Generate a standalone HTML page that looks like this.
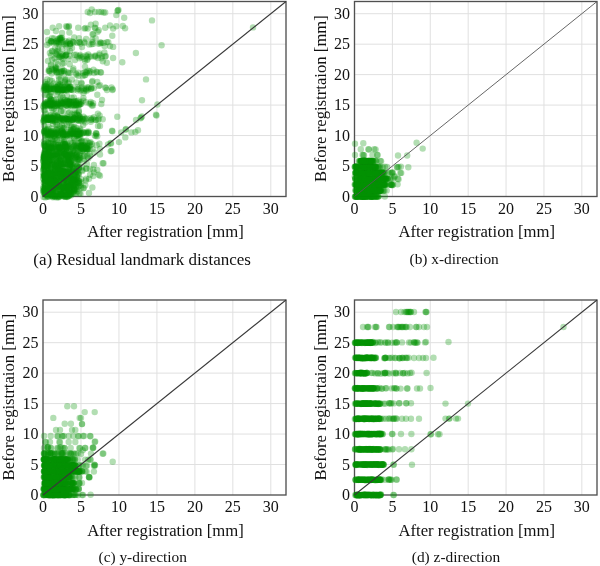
<!DOCTYPE html>
<html><head><meta charset="utf-8"><style>
html,body{margin:0;padding:0;background:#fff;}
svg{display:block;filter:blur(0.3px);}
text{font-family:"Liberation Serif",serif;fill:#111;}
.t{font-size:16px;}
.ax{font-size:16.7px;}
.cap{font-size:15.4px;}
.cap17{font-size:17.0px;}
.g{stroke:#e0e0e0;stroke-width:1;}
.f{fill:none;stroke:#505050;stroke-width:1.35;}
.d{stroke:#383838;stroke-width:1.05;}
.d2{stroke:#555;stroke-width:0.9;}
.pts circle{fill:#009200;fill-opacity:0.3;}
</style></head><body>
<svg width="600" height="566" viewBox="0 0 600 566">
<line x1="80.97" y1="1.5" x2="80.97" y2="196.5" class="g"/>
<line x1="43.0" y1="166.03" x2="286.0" y2="166.03" class="g"/>
<line x1="118.94" y1="1.5" x2="118.94" y2="196.5" class="g"/>
<line x1="43.0" y1="135.56" x2="286.0" y2="135.56" class="g"/>
<line x1="156.91" y1="1.5" x2="156.91" y2="196.5" class="g"/>
<line x1="43.0" y1="105.09" x2="286.0" y2="105.09" class="g"/>
<line x1="194.88" y1="1.5" x2="194.88" y2="196.5" class="g"/>
<line x1="43.0" y1="74.62" x2="286.0" y2="74.62" class="g"/>
<line x1="232.84" y1="1.5" x2="232.84" y2="196.5" class="g"/>
<line x1="43.0" y1="44.16" x2="286.0" y2="44.16" class="g"/>
<line x1="270.81" y1="1.5" x2="270.81" y2="196.5" class="g"/>
<line x1="43.0" y1="13.69" x2="286.0" y2="13.69" class="g"/>
<line x1="392.39" y1="1.5" x2="392.39" y2="196.5" class="g"/>
<line x1="354.5" y1="166.03" x2="597.0" y2="166.03" class="g"/>
<line x1="430.28" y1="1.5" x2="430.28" y2="196.5" class="g"/>
<line x1="354.5" y1="135.56" x2="597.0" y2="135.56" class="g"/>
<line x1="468.17" y1="1.5" x2="468.17" y2="196.5" class="g"/>
<line x1="354.5" y1="105.09" x2="597.0" y2="105.09" class="g"/>
<line x1="506.06" y1="1.5" x2="506.06" y2="196.5" class="g"/>
<line x1="354.5" y1="74.62" x2="597.0" y2="74.62" class="g"/>
<line x1="543.95" y1="1.5" x2="543.95" y2="196.5" class="g"/>
<line x1="354.5" y1="44.16" x2="597.0" y2="44.16" class="g"/>
<line x1="581.84" y1="1.5" x2="581.84" y2="196.5" class="g"/>
<line x1="354.5" y1="13.69" x2="597.0" y2="13.69" class="g"/>
<line x1="80.97" y1="300.0" x2="80.97" y2="495.0" class="g"/>
<line x1="43.0" y1="464.53" x2="286.0" y2="464.53" class="g"/>
<line x1="118.94" y1="300.0" x2="118.94" y2="495.0" class="g"/>
<line x1="43.0" y1="434.06" x2="286.0" y2="434.06" class="g"/>
<line x1="156.91" y1="300.0" x2="156.91" y2="495.0" class="g"/>
<line x1="43.0" y1="403.59" x2="286.0" y2="403.59" class="g"/>
<line x1="194.88" y1="300.0" x2="194.88" y2="495.0" class="g"/>
<line x1="43.0" y1="373.12" x2="286.0" y2="373.12" class="g"/>
<line x1="232.84" y1="300.0" x2="232.84" y2="495.0" class="g"/>
<line x1="43.0" y1="342.66" x2="286.0" y2="342.66" class="g"/>
<line x1="270.81" y1="300.0" x2="270.81" y2="495.0" class="g"/>
<line x1="43.0" y1="312.19" x2="286.0" y2="312.19" class="g"/>
<line x1="392.39" y1="300.0" x2="392.39" y2="495.0" class="g"/>
<line x1="354.5" y1="464.53" x2="597.0" y2="464.53" class="g"/>
<line x1="430.28" y1="300.0" x2="430.28" y2="495.0" class="g"/>
<line x1="354.5" y1="434.06" x2="597.0" y2="434.06" class="g"/>
<line x1="468.17" y1="300.0" x2="468.17" y2="495.0" class="g"/>
<line x1="354.5" y1="403.59" x2="597.0" y2="403.59" class="g"/>
<line x1="506.06" y1="300.0" x2="506.06" y2="495.0" class="g"/>
<line x1="354.5" y1="373.12" x2="597.0" y2="373.12" class="g"/>
<line x1="543.95" y1="300.0" x2="543.95" y2="495.0" class="g"/>
<line x1="354.5" y1="342.66" x2="597.0" y2="342.66" class="g"/>
<line x1="581.84" y1="300.0" x2="581.84" y2="495.0" class="g"/>
<line x1="354.5" y1="312.19" x2="597.0" y2="312.19" class="g"/>
<rect x="43.0" y="1.5" width="243.0" height="195.0" class="f"/>
<rect x="354.5" y="1.5" width="242.5" height="195.0" class="f"/>
<rect x="43.0" y="300.0" width="243.0" height="195.0" class="f"/>
<rect x="354.5" y="300.0" width="242.5" height="195.0" class="f"/>
<g class="pts">
<circle cx="87.7" cy="12.0" r="3.2"/>
<circle cx="91.7" cy="9.5" r="3.2"/>
<circle cx="94.9" cy="12.0" r="3.2"/>
<circle cx="98.8" cy="12.0" r="3.2"/>
<circle cx="101.2" cy="12.0" r="3.2"/>
<circle cx="103.6" cy="12.5" r="3.2"/>
<circle cx="105.2" cy="12.5" r="3.2"/>
<circle cx="90.0" cy="13.0" r="3.2"/>
<circle cx="117.9" cy="10.3" r="3.2"/>
<circle cx="118.5" cy="10.0" r="3.2"/>
<circle cx="117.5" cy="11.0" r="3.2"/>
<circle cx="116.3" cy="15.1" r="3.2"/>
<circle cx="124.2" cy="17.8" r="3.2"/>
<circle cx="152.0" cy="20.4" r="3.2"/>
<circle cx="52.7" cy="27.8" r="3.2"/>
<circle cx="59.1" cy="26.2" r="3.2"/>
<circle cx="66.2" cy="26.2" r="3.2"/>
<circle cx="67.0" cy="27.0" r="3.2"/>
<circle cx="68.6" cy="27.0" r="3.2"/>
<circle cx="69.0" cy="26.0" r="3.2"/>
<circle cx="69.4" cy="32.6" r="3.2"/>
<circle cx="78.2" cy="27.8" r="3.2"/>
<circle cx="84.5" cy="28.6" r="3.2"/>
<circle cx="85.5" cy="28.0" r="3.2"/>
<circle cx="87.7" cy="28.6" r="3.2"/>
<circle cx="90.9" cy="24.6" r="3.2"/>
<circle cx="94.8" cy="27.8" r="3.2"/>
<circle cx="95.5" cy="28.2" r="3.2"/>
<circle cx="95.6" cy="23.8" r="3.2"/>
<circle cx="98.8" cy="30.2" r="3.2"/>
<circle cx="105.2" cy="27.8" r="3.2"/>
<circle cx="110.0" cy="25.4" r="3.2"/>
<circle cx="113.1" cy="28.6" r="3.2"/>
<circle cx="116.3" cy="26.2" r="3.2"/>
<circle cx="112.3" cy="35.8" r="3.2"/>
<circle cx="92.5" cy="34.2" r="3.2"/>
<circle cx="55.9" cy="31.0" r="3.2"/>
<circle cx="122.8" cy="26.0" r="3.2"/>
<circle cx="125.1" cy="28.3" r="3.2"/>
<circle cx="47.0" cy="32.0" r="3.2"/>
<circle cx="62.0" cy="33.0" r="3.2"/>
<circle cx="52.0" cy="42.5" r="3.2"/>
<circle cx="62.0" cy="40.2" r="3.2"/>
<circle cx="51.5" cy="41.3" r="3.2"/>
<circle cx="59.7" cy="44.4" r="3.2"/>
<circle cx="52.0" cy="38.1" r="3.2"/>
<circle cx="60.7" cy="42.7" r="3.2"/>
<circle cx="64.4" cy="44.1" r="3.2"/>
<circle cx="57.0" cy="40.8" r="3.2"/>
<circle cx="69.1" cy="40.7" r="3.2"/>
<circle cx="54.0" cy="38.5" r="3.2"/>
<circle cx="57.9" cy="41.9" r="3.2"/>
<circle cx="55.9" cy="41.3" r="3.2"/>
<circle cx="58.7" cy="43.3" r="3.2"/>
<circle cx="62.4" cy="42.0" r="3.2"/>
<circle cx="49.4" cy="43.3" r="3.2"/>
<circle cx="51.1" cy="41.1" r="3.2"/>
<circle cx="50.9" cy="41.5" r="3.2"/>
<circle cx="54.0" cy="42.1" r="3.2"/>
<circle cx="72.4" cy="41.4" r="3.2"/>
<circle cx="61.3" cy="38.1" r="3.2"/>
<circle cx="56.2" cy="43.2" r="3.2"/>
<circle cx="57.1" cy="42.5" r="3.2"/>
<circle cx="58.0" cy="38.9" r="3.2"/>
<circle cx="60.0" cy="39.4" r="3.2"/>
<circle cx="62.0" cy="37.7" r="3.2"/>
<circle cx="59.7" cy="38.5" r="3.2"/>
<circle cx="60.2" cy="37.6" r="3.2"/>
<circle cx="60.3" cy="38.3" r="3.2"/>
<circle cx="60.8" cy="39.4" r="3.2"/>
<circle cx="70.2" cy="43.7" r="3.2"/>
<circle cx="74.2" cy="37.4" r="3.2"/>
<circle cx="77.4" cy="42.9" r="3.2"/>
<circle cx="79.7" cy="42.1" r="3.2"/>
<circle cx="84.5" cy="42.9" r="3.2"/>
<circle cx="86.1" cy="39.0" r="3.2"/>
<circle cx="89.3" cy="44.5" r="3.2"/>
<circle cx="92.5" cy="42.1" r="3.2"/>
<circle cx="95.6" cy="38.2" r="3.2"/>
<circle cx="100.4" cy="42.1" r="3.2"/>
<circle cx="103.6" cy="42.9" r="3.2"/>
<circle cx="106.8" cy="42.1" r="3.2"/>
<circle cx="110.0" cy="46.1" r="3.2"/>
<circle cx="113.1" cy="46.9" r="3.2"/>
<circle cx="93.3" cy="34.2" r="3.2"/>
<circle cx="47.0" cy="45.0" r="3.2"/>
<circle cx="48.0" cy="40.0" r="3.2"/>
<circle cx="66.0" cy="46.0" r="3.2"/>
<circle cx="72.0" cy="48.0" r="3.2"/>
<circle cx="82.0" cy="47.0" r="3.2"/>
<circle cx="91.6" cy="44.2" r="3.2"/>
<circle cx="98.6" cy="43.7" r="3.2"/>
<circle cx="66.5" cy="43.4" r="3.2"/>
<circle cx="92.3" cy="39.8" r="3.2"/>
<circle cx="79.0" cy="38.2" r="3.2"/>
<circle cx="66.4" cy="44.6" r="3.2"/>
<circle cx="70.1" cy="45.7" r="3.2"/>
<circle cx="73.6" cy="42.5" r="3.2"/>
<circle cx="70.0" cy="44.3" r="3.2"/>
<circle cx="65.8" cy="41.3" r="3.2"/>
<circle cx="70.1" cy="43.2" r="3.2"/>
<circle cx="73.3" cy="42.2" r="3.2"/>
<circle cx="84.1" cy="41.8" r="3.2"/>
<circle cx="79.2" cy="42.1" r="3.2"/>
<circle cx="80.4" cy="43.6" r="3.2"/>
<circle cx="67.9" cy="42.3" r="3.2"/>
<circle cx="93.1" cy="43.9" r="3.2"/>
<circle cx="97.7" cy="31.8" r="3.2"/>
<circle cx="108.3" cy="42.3" r="3.2"/>
<circle cx="100.1" cy="43.4" r="3.2"/>
<circle cx="101.2" cy="42.9" r="3.2"/>
<circle cx="104.6" cy="46.1" r="3.2"/>
<circle cx="161.6" cy="45.3" r="3.2"/>
<circle cx="135.9" cy="53.0" r="3.2"/>
<circle cx="122.3" cy="62.3" r="3.2"/>
<circle cx="62.6" cy="59.0" r="3.2"/>
<circle cx="62.3" cy="55.8" r="3.2"/>
<circle cx="49.9" cy="53.0" r="3.2"/>
<circle cx="55.9" cy="53.5" r="3.2"/>
<circle cx="61.9" cy="54.1" r="3.2"/>
<circle cx="62.9" cy="55.2" r="3.2"/>
<circle cx="57.3" cy="55.3" r="3.2"/>
<circle cx="61.1" cy="57.4" r="3.2"/>
<circle cx="56.6" cy="54.3" r="3.2"/>
<circle cx="52.2" cy="59.5" r="3.2"/>
<circle cx="66.3" cy="54.5" r="3.2"/>
<circle cx="56.6" cy="51.5" r="3.2"/>
<circle cx="59.8" cy="55.6" r="3.2"/>
<circle cx="69.9" cy="55.7" r="3.2"/>
<circle cx="55.1" cy="48.2" r="3.2"/>
<circle cx="66.0" cy="55.5" r="3.2"/>
<circle cx="51.0" cy="55.5" r="3.2"/>
<circle cx="51.0" cy="64.7" r="3.2"/>
<circle cx="64.6" cy="56.6" r="3.2"/>
<circle cx="58.1" cy="49.0" r="3.2"/>
<circle cx="58.4" cy="50.6" r="3.2"/>
<circle cx="62.0" cy="49.0" r="3.2"/>
<circle cx="54.5" cy="58.4" r="3.2"/>
<circle cx="67.2" cy="51.7" r="3.2"/>
<circle cx="51.9" cy="50.9" r="3.2"/>
<circle cx="52.5" cy="51.5" r="3.2"/>
<circle cx="59.1" cy="57.2" r="3.2"/>
<circle cx="60.0" cy="57.0" r="3.2"/>
<circle cx="65.4" cy="55.6" r="3.2"/>
<circle cx="66.0" cy="55.0" r="3.2"/>
<circle cx="77.4" cy="56.4" r="3.2"/>
<circle cx="82.9" cy="56.4" r="3.2"/>
<circle cx="86.9" cy="56.4" r="3.2"/>
<circle cx="90.9" cy="56.4" r="3.2"/>
<circle cx="95.6" cy="56.4" r="3.2"/>
<circle cx="102.0" cy="56.4" r="3.2"/>
<circle cx="105.2" cy="56.4" r="3.2"/>
<circle cx="113.1" cy="58.0" r="3.2"/>
<circle cx="106.8" cy="62.8" r="3.2"/>
<circle cx="102.8" cy="61.2" r="3.2"/>
<circle cx="104.4" cy="52.5" r="3.2"/>
<circle cx="75.0" cy="60.0" r="3.2"/>
<circle cx="85.0" cy="61.0" r="3.2"/>
<circle cx="70.0" cy="51.0" r="3.2"/>
<circle cx="48.0" cy="61.0" r="3.2"/>
<circle cx="56.0" cy="62.0" r="3.2"/>
<circle cx="64.0" cy="63.0" r="3.2"/>
<circle cx="79.3" cy="58.3" r="3.2"/>
<circle cx="86.0" cy="55.5" r="3.2"/>
<circle cx="84.6" cy="58.9" r="3.2"/>
<circle cx="97.8" cy="58.0" r="3.2"/>
<circle cx="89.3" cy="56.8" r="3.2"/>
<circle cx="80.1" cy="55.0" r="3.2"/>
<circle cx="68.7" cy="59.0" r="3.2"/>
<circle cx="81.4" cy="57.4" r="3.2"/>
<circle cx="88.3" cy="54.5" r="3.2"/>
<circle cx="74.2" cy="54.8" r="3.2"/>
<circle cx="87.7" cy="58.6" r="3.2"/>
<circle cx="87.1" cy="59.9" r="3.2"/>
<circle cx="94.5" cy="56.5" r="3.2"/>
<circle cx="79.8" cy="56.1" r="3.2"/>
<circle cx="95.3" cy="55.5" r="3.2"/>
<circle cx="76.1" cy="54.7" r="3.2"/>
<circle cx="105.7" cy="56.0" r="3.2"/>
<circle cx="99.5" cy="53.4" r="3.2"/>
<circle cx="99.4" cy="55.0" r="3.2"/>
<circle cx="101.5" cy="58.2" r="3.2"/>
<circle cx="62.3" cy="63.3" r="3.2"/>
<circle cx="53.8" cy="70.3" r="3.2"/>
<circle cx="64.5" cy="71.1" r="3.2"/>
<circle cx="62.3" cy="71.1" r="3.2"/>
<circle cx="52.0" cy="69.0" r="3.2"/>
<circle cx="55.7" cy="69.5" r="3.2"/>
<circle cx="58.8" cy="72.3" r="3.2"/>
<circle cx="63.9" cy="70.8" r="3.2"/>
<circle cx="55.7" cy="71.5" r="3.2"/>
<circle cx="61.6" cy="71.1" r="3.2"/>
<circle cx="49.5" cy="71.3" r="3.2"/>
<circle cx="50.9" cy="65.8" r="3.2"/>
<circle cx="62.1" cy="68.9" r="3.2"/>
<circle cx="57.1" cy="73.0" r="3.2"/>
<circle cx="55.8" cy="70.4" r="3.2"/>
<circle cx="48.5" cy="70.8" r="3.2"/>
<circle cx="57.0" cy="72.0" r="3.2"/>
<circle cx="51.6" cy="73.6" r="3.2"/>
<circle cx="49.3" cy="69.5" r="3.2"/>
<circle cx="55.7" cy="67.2" r="3.2"/>
<circle cx="58.0" cy="64.1" r="3.2"/>
<circle cx="64.4" cy="73.4" r="3.2"/>
<circle cx="55.1" cy="68.5" r="3.2"/>
<circle cx="49.5" cy="71.1" r="3.2"/>
<circle cx="55.9" cy="68.4" r="3.2"/>
<circle cx="56.5" cy="68.0" r="3.2"/>
<circle cx="60.7" cy="72.3" r="3.2"/>
<circle cx="61.3" cy="72.5" r="3.2"/>
<circle cx="70.2" cy="73.1" r="3.2"/>
<circle cx="73.4" cy="68.4" r="3.2"/>
<circle cx="76.6" cy="74.7" r="3.2"/>
<circle cx="82.9" cy="73.1" r="3.2"/>
<circle cx="86.1" cy="72.3" r="3.2"/>
<circle cx="86.8" cy="72.6" r="3.2"/>
<circle cx="89.3" cy="73.1" r="3.2"/>
<circle cx="94.1" cy="73.1" r="3.2"/>
<circle cx="97.2" cy="72.3" r="3.2"/>
<circle cx="100.4" cy="72.3" r="3.2"/>
<circle cx="101.0" cy="72.5" r="3.2"/>
<circle cx="87.7" cy="70.6" r="3.2"/>
<circle cx="84.7" cy="71.9" r="3.2"/>
<circle cx="76.1" cy="73.6" r="3.2"/>
<circle cx="85.3" cy="75.0" r="3.2"/>
<circle cx="82.7" cy="76.0" r="3.2"/>
<circle cx="89.4" cy="70.9" r="3.2"/>
<circle cx="84.6" cy="75.2" r="3.2"/>
<circle cx="73.1" cy="70.1" r="3.2"/>
<circle cx="78.3" cy="72.7" r="3.2"/>
<circle cx="85.0" cy="66.6" r="3.2"/>
<circle cx="68.5" cy="73.2" r="3.2"/>
<circle cx="67.9" cy="72.3" r="3.2"/>
<circle cx="96.2" cy="71.7" r="3.2"/>
<circle cx="93.5" cy="69.8" r="3.2"/>
<circle cx="90.3" cy="71.8" r="3.2"/>
<circle cx="92.5" cy="81.0" r="3.2"/>
<circle cx="47.2" cy="79.5" r="3.2"/>
<circle cx="59.1" cy="79.5" r="3.2"/>
<circle cx="71.8" cy="79.5" r="3.2"/>
<circle cx="81.3" cy="82.7" r="3.2"/>
<circle cx="98.8" cy="85.9" r="3.2"/>
<circle cx="105.2" cy="87.4" r="3.2"/>
<circle cx="111.5" cy="87.4" r="3.2"/>
<circle cx="52.0" cy="81.0" r="3.2"/>
<circle cx="65.0" cy="82.0" r="3.2"/>
<circle cx="146.0" cy="79.4" r="3.2"/>
<circle cx="64.2" cy="89.4" r="3.2"/>
<circle cx="58.3" cy="88.7" r="3.2"/>
<circle cx="54.2" cy="89.2" r="3.2"/>
<circle cx="69.1" cy="82.5" r="3.2"/>
<circle cx="59.7" cy="86.3" r="3.2"/>
<circle cx="57.7" cy="92.1" r="3.2"/>
<circle cx="58.1" cy="83.3" r="3.2"/>
<circle cx="59.5" cy="89.4" r="3.2"/>
<circle cx="58.8" cy="76.8" r="3.2"/>
<circle cx="69.8" cy="87.3" r="3.2"/>
<circle cx="66.7" cy="90.3" r="3.2"/>
<circle cx="57.0" cy="87.8" r="3.2"/>
<circle cx="47.0" cy="88.0" r="3.2"/>
<circle cx="44.0" cy="88.3" r="3.2"/>
<circle cx="53.5" cy="88.7" r="3.2"/>
<circle cx="46.3" cy="90.4" r="3.2"/>
<circle cx="50.5" cy="86.9" r="3.2"/>
<circle cx="55.8" cy="87.1" r="3.2"/>
<circle cx="49.2" cy="89.4" r="3.2"/>
<circle cx="61.6" cy="90.3" r="3.2"/>
<circle cx="67.9" cy="83.5" r="3.2"/>
<circle cx="66.6" cy="89.2" r="3.2"/>
<circle cx="69.8" cy="64.3" r="3.2"/>
<circle cx="68.8" cy="88.3" r="3.2"/>
<circle cx="46.1" cy="88.7" r="3.2"/>
<circle cx="55.4" cy="90.2" r="3.2"/>
<circle cx="63.0" cy="89.0" r="3.2"/>
<circle cx="62.9" cy="90.0" r="3.2"/>
<circle cx="57.8" cy="89.4" r="3.2"/>
<circle cx="57.7" cy="89.6" r="3.2"/>
<circle cx="46.3" cy="86.5" r="3.2"/>
<circle cx="58.1" cy="89.9" r="3.2"/>
<circle cx="49.2" cy="90.0" r="3.2"/>
<circle cx="71.7" cy="89.8" r="3.2"/>
<circle cx="70.6" cy="89.7" r="3.2"/>
<circle cx="65.2" cy="86.5" r="3.2"/>
<circle cx="60.5" cy="84.6" r="3.2"/>
<circle cx="67.5" cy="87.0" r="3.2"/>
<circle cx="48.9" cy="86.1" r="3.2"/>
<circle cx="43.7" cy="90.0" r="3.2"/>
<circle cx="68.0" cy="88.0" r="3.2"/>
<circle cx="54.9" cy="86.7" r="3.2"/>
<circle cx="66.4" cy="79.8" r="3.2"/>
<circle cx="64.7" cy="89.9" r="3.2"/>
<circle cx="69.0" cy="88.6" r="3.2"/>
<circle cx="63.2" cy="89.6" r="3.2"/>
<circle cx="64.0" cy="87.3" r="3.2"/>
<circle cx="56.8" cy="87.3" r="3.2"/>
<circle cx="50.0" cy="88.4" r="3.2"/>
<circle cx="62.4" cy="84.6" r="3.2"/>
<circle cx="54.5" cy="89.0" r="3.2"/>
<circle cx="61.7" cy="89.7" r="3.2"/>
<circle cx="44.0" cy="86.7" r="3.2"/>
<circle cx="64.5" cy="87.8" r="3.2"/>
<circle cx="54.1" cy="88.4" r="3.2"/>
<circle cx="69.3" cy="86.9" r="3.2"/>
<circle cx="59.6" cy="89.4" r="3.2"/>
<circle cx="61.6" cy="90.7" r="3.2"/>
<circle cx="65.1" cy="79.2" r="3.2"/>
<circle cx="47.9" cy="90.1" r="3.2"/>
<circle cx="60.8" cy="78.4" r="3.2"/>
<circle cx="55.4" cy="88.7" r="3.2"/>
<circle cx="51.5" cy="88.9" r="3.2"/>
<circle cx="59.4" cy="84.4" r="3.2"/>
<circle cx="50.3" cy="88.9" r="3.2"/>
<circle cx="65.0" cy="80.4" r="3.2"/>
<circle cx="71.7" cy="89.2" r="3.2"/>
<circle cx="45.4" cy="88.5" r="3.2"/>
<circle cx="71.2" cy="86.8" r="3.2"/>
<circle cx="70.2" cy="86.8" r="3.2"/>
<circle cx="66.7" cy="90.0" r="3.2"/>
<circle cx="46.6" cy="88.9" r="3.2"/>
<circle cx="44.8" cy="89.7" r="3.2"/>
<circle cx="46.9" cy="84.7" r="3.2"/>
<circle cx="60.0" cy="83.6" r="3.2"/>
<circle cx="58.5" cy="91.1" r="3.2"/>
<circle cx="50.1" cy="80.3" r="3.2"/>
<circle cx="65.8" cy="89.0" r="3.2"/>
<circle cx="63.0" cy="90.1" r="3.2"/>
<circle cx="60.3" cy="89.5" r="3.2"/>
<circle cx="50.4" cy="88.9" r="3.2"/>
<circle cx="69.6" cy="89.8" r="3.2"/>
<circle cx="51.1" cy="85.6" r="3.2"/>
<circle cx="46.2" cy="89.9" r="3.2"/>
<circle cx="62.7" cy="89.7" r="3.2"/>
<circle cx="61.4" cy="87.0" r="3.2"/>
<circle cx="64.7" cy="90.4" r="3.2"/>
<circle cx="45.4" cy="82.3" r="3.2"/>
<circle cx="49.4" cy="87.7" r="3.2"/>
<circle cx="66.5" cy="85.7" r="3.2"/>
<circle cx="59.0" cy="89.4" r="3.2"/>
<circle cx="69.7" cy="88.5" r="3.2"/>
<circle cx="45.6" cy="86.8" r="3.2"/>
<circle cx="57.2" cy="89.0" r="3.2"/>
<circle cx="45.5" cy="86.0" r="3.2"/>
<circle cx="45.6" cy="84.2" r="3.2"/>
<circle cx="47.4" cy="83.9" r="3.2"/>
<circle cx="53.8" cy="83.5" r="3.2"/>
<circle cx="70.3" cy="88.6" r="3.2"/>
<circle cx="55.9" cy="89.2" r="3.2"/>
<circle cx="77.8" cy="90.4" r="3.2"/>
<circle cx="91.5" cy="87.4" r="3.2"/>
<circle cx="77.7" cy="89.0" r="3.2"/>
<circle cx="81.7" cy="87.5" r="3.2"/>
<circle cx="81.7" cy="83.6" r="3.2"/>
<circle cx="91.0" cy="88.8" r="3.2"/>
<circle cx="81.8" cy="89.4" r="3.2"/>
<circle cx="84.1" cy="90.8" r="3.2"/>
<circle cx="88.1" cy="89.4" r="3.2"/>
<circle cx="86.6" cy="90.8" r="3.2"/>
<circle cx="73.3" cy="90.3" r="3.2"/>
<circle cx="84.0" cy="88.6" r="3.2"/>
<circle cx="87.4" cy="87.2" r="3.2"/>
<circle cx="93.9" cy="88.1" r="3.2"/>
<circle cx="86.1" cy="89.6" r="3.2"/>
<circle cx="92.1" cy="82.0" r="3.2"/>
<circle cx="88.6" cy="87.6" r="3.2"/>
<circle cx="91.3" cy="88.6" r="3.2"/>
<circle cx="85.8" cy="88.5" r="3.2"/>
<circle cx="78.3" cy="88.8" r="3.2"/>
<circle cx="77.3" cy="87.1" r="3.2"/>
<circle cx="78.4" cy="75.9" r="3.2"/>
<circle cx="100.0" cy="85.3" r="3.2"/>
<circle cx="106.0" cy="88.0" r="3.2"/>
<circle cx="112.7" cy="89.3" r="3.2"/>
<circle cx="97.3" cy="82.0" r="3.2"/>
<circle cx="49.9" cy="95.9" r="3.2"/>
<circle cx="83.6" cy="93.1" r="3.2"/>
<circle cx="47.2" cy="94.8" r="3.2"/>
<circle cx="73.8" cy="97.5" r="3.2"/>
<circle cx="44.5" cy="103.8" r="3.2"/>
<circle cx="50.4" cy="99.2" r="3.2"/>
<circle cx="49.3" cy="103.5" r="3.2"/>
<circle cx="68.1" cy="101.6" r="3.2"/>
<circle cx="51.8" cy="103.5" r="3.2"/>
<circle cx="73.2" cy="101.9" r="3.2"/>
<circle cx="50.5" cy="92.6" r="3.2"/>
<circle cx="69.5" cy="101.1" r="3.2"/>
<circle cx="75.7" cy="104.4" r="3.2"/>
<circle cx="51.1" cy="101.3" r="3.2"/>
<circle cx="66.6" cy="105.8" r="3.2"/>
<circle cx="48.4" cy="102.9" r="3.2"/>
<circle cx="60.2" cy="106.5" r="3.2"/>
<circle cx="75.8" cy="101.9" r="3.2"/>
<circle cx="43.3" cy="105.9" r="3.2"/>
<circle cx="71.0" cy="105.2" r="3.2"/>
<circle cx="66.7" cy="102.1" r="3.2"/>
<circle cx="58.6" cy="102.8" r="3.2"/>
<circle cx="53.2" cy="103.5" r="3.2"/>
<circle cx="56.9" cy="106.1" r="3.2"/>
<circle cx="50.1" cy="105.5" r="3.2"/>
<circle cx="60.5" cy="97.2" r="3.2"/>
<circle cx="45.8" cy="102.4" r="3.2"/>
<circle cx="66.7" cy="100.2" r="3.2"/>
<circle cx="58.4" cy="105.1" r="3.2"/>
<circle cx="70.4" cy="105.5" r="3.2"/>
<circle cx="66.5" cy="101.2" r="3.2"/>
<circle cx="58.3" cy="85.5" r="3.2"/>
<circle cx="63.4" cy="102.3" r="3.2"/>
<circle cx="61.0" cy="102.3" r="3.2"/>
<circle cx="51.7" cy="99.7" r="3.2"/>
<circle cx="54.1" cy="103.0" r="3.2"/>
<circle cx="54.1" cy="103.9" r="3.2"/>
<circle cx="46.3" cy="103.8" r="3.2"/>
<circle cx="49.2" cy="96.5" r="3.2"/>
<circle cx="62.7" cy="103.6" r="3.2"/>
<circle cx="56.6" cy="94.6" r="3.2"/>
<circle cx="57.3" cy="103.5" r="3.2"/>
<circle cx="70.2" cy="102.2" r="3.2"/>
<circle cx="56.8" cy="102.0" r="3.2"/>
<circle cx="69.1" cy="101.8" r="3.2"/>
<circle cx="63.2" cy="102.5" r="3.2"/>
<circle cx="46.8" cy="102.3" r="3.2"/>
<circle cx="69.1" cy="104.1" r="3.2"/>
<circle cx="68.4" cy="104.1" r="3.2"/>
<circle cx="61.2" cy="102.2" r="3.2"/>
<circle cx="75.6" cy="105.7" r="3.2"/>
<circle cx="66.7" cy="105.3" r="3.2"/>
<circle cx="63.8" cy="105.3" r="3.2"/>
<circle cx="51.3" cy="104.2" r="3.2"/>
<circle cx="73.7" cy="101.6" r="3.2"/>
<circle cx="47.4" cy="105.9" r="3.2"/>
<circle cx="61.1" cy="106.1" r="3.2"/>
<circle cx="61.6" cy="95.8" r="3.2"/>
<circle cx="63.0" cy="97.5" r="3.2"/>
<circle cx="52.7" cy="104.6" r="3.2"/>
<circle cx="70.5" cy="102.0" r="3.2"/>
<circle cx="45.8" cy="104.9" r="3.2"/>
<circle cx="64.8" cy="100.0" r="3.2"/>
<circle cx="67.4" cy="100.9" r="3.2"/>
<circle cx="49.8" cy="104.3" r="3.2"/>
<circle cx="48.0" cy="101.4" r="3.2"/>
<circle cx="51.9" cy="105.6" r="3.2"/>
<circle cx="54.2" cy="105.9" r="3.2"/>
<circle cx="48.0" cy="104.9" r="3.2"/>
<circle cx="62.9" cy="103.3" r="3.2"/>
<circle cx="65.8" cy="105.2" r="3.2"/>
<circle cx="67.9" cy="106.4" r="3.2"/>
<circle cx="71.3" cy="102.2" r="3.2"/>
<circle cx="61.8" cy="103.3" r="3.2"/>
<circle cx="57.4" cy="104.3" r="3.2"/>
<circle cx="53.8" cy="100.0" r="3.2"/>
<circle cx="62.8" cy="103.5" r="3.2"/>
<circle cx="53.3" cy="105.0" r="3.2"/>
<circle cx="57.9" cy="104.7" r="3.2"/>
<circle cx="56.3" cy="99.4" r="3.2"/>
<circle cx="53.3" cy="103.4" r="3.2"/>
<circle cx="45.5" cy="105.9" r="3.2"/>
<circle cx="71.6" cy="97.8" r="3.2"/>
<circle cx="50.6" cy="102.5" r="3.2"/>
<circle cx="46.5" cy="103.6" r="3.2"/>
<circle cx="47.3" cy="104.5" r="3.2"/>
<circle cx="51.3" cy="102.9" r="3.2"/>
<circle cx="45.3" cy="104.9" r="3.2"/>
<circle cx="55.0" cy="103.6" r="3.2"/>
<circle cx="44.8" cy="95.1" r="3.2"/>
<circle cx="73.8" cy="105.6" r="3.2"/>
<circle cx="58.8" cy="104.0" r="3.2"/>
<circle cx="49.7" cy="103.5" r="3.2"/>
<circle cx="54.9" cy="105.5" r="3.2"/>
<circle cx="75.8" cy="101.4" r="3.2"/>
<circle cx="49.6" cy="105.0" r="3.2"/>
<circle cx="67.0" cy="95.4" r="3.2"/>
<circle cx="71.7" cy="105.5" r="3.2"/>
<circle cx="74.0" cy="104.7" r="3.2"/>
<circle cx="50.6" cy="99.6" r="3.2"/>
<circle cx="51.0" cy="105.1" r="3.2"/>
<circle cx="69.1" cy="100.7" r="3.2"/>
<circle cx="50.8" cy="93.6" r="3.2"/>
<circle cx="65.1" cy="101.6" r="3.2"/>
<circle cx="57.7" cy="106.0" r="3.2"/>
<circle cx="60.7" cy="100.8" r="3.2"/>
<circle cx="69.6" cy="103.5" r="3.2"/>
<circle cx="68.0" cy="102.9" r="3.2"/>
<circle cx="72.6" cy="104.3" r="3.2"/>
<circle cx="44.4" cy="104.5" r="3.2"/>
<circle cx="73.7" cy="103.5" r="3.2"/>
<circle cx="49.2" cy="103.9" r="3.2"/>
<circle cx="64.8" cy="103.8" r="3.2"/>
<circle cx="60.2" cy="105.4" r="3.2"/>
<circle cx="60.3" cy="103.2" r="3.2"/>
<circle cx="49.0" cy="105.2" r="3.2"/>
<circle cx="51.0" cy="99.2" r="3.2"/>
<circle cx="69.0" cy="104.6" r="3.2"/>
<circle cx="50.5" cy="105.7" r="3.2"/>
<circle cx="83.4" cy="100.7" r="3.2"/>
<circle cx="93.1" cy="103.2" r="3.2"/>
<circle cx="76.0" cy="103.4" r="3.2"/>
<circle cx="78.8" cy="105.0" r="3.2"/>
<circle cx="76.4" cy="103.2" r="3.2"/>
<circle cx="90.8" cy="103.6" r="3.2"/>
<circle cx="79.6" cy="102.5" r="3.2"/>
<circle cx="78.9" cy="103.6" r="3.2"/>
<circle cx="76.6" cy="104.9" r="3.2"/>
<circle cx="77.3" cy="105.2" r="3.2"/>
<circle cx="91.9" cy="105.5" r="3.2"/>
<circle cx="80.6" cy="90.6" r="3.2"/>
<circle cx="76.2" cy="104.7" r="3.2"/>
<circle cx="77.2" cy="101.3" r="3.2"/>
<circle cx="89.5" cy="103.6" r="3.2"/>
<circle cx="81.2" cy="102.1" r="3.2"/>
<circle cx="76.4" cy="82.4" r="3.2"/>
<circle cx="78.3" cy="100.5" r="3.2"/>
<circle cx="78.5" cy="105.5" r="3.2"/>
<circle cx="80.1" cy="104.1" r="3.2"/>
<circle cx="86.0" cy="102.3" r="3.2"/>
<circle cx="80.2" cy="104.2" r="3.2"/>
<circle cx="92.9" cy="105.4" r="3.2"/>
<circle cx="81.2" cy="103.7" r="3.2"/>
<circle cx="101.3" cy="104.0" r="3.2"/>
<circle cx="97.3" cy="94.7" r="3.2"/>
<circle cx="102.0" cy="100.0" r="3.2"/>
<circle cx="90.7" cy="102.0" r="3.2"/>
<circle cx="142.0" cy="100.2" r="3.2"/>
<circle cx="157.4" cy="104.5" r="3.2"/>
<circle cx="107.0" cy="90.0" r="3.2"/>
<circle cx="112.4" cy="90.0" r="3.2"/>
<circle cx="61.5" cy="110.9" r="3.2"/>
<circle cx="53.9" cy="108.7" r="3.2"/>
<circle cx="52.4" cy="109.7" r="3.2"/>
<circle cx="51.5" cy="108.0" r="3.2"/>
<circle cx="51.0" cy="119.1" r="3.2"/>
<circle cx="78.8" cy="120.6" r="3.2"/>
<circle cx="74.1" cy="118.3" r="3.2"/>
<circle cx="56.3" cy="119.8" r="3.2"/>
<circle cx="49.8" cy="118.2" r="3.2"/>
<circle cx="52.9" cy="118.5" r="3.2"/>
<circle cx="76.7" cy="113.5" r="3.2"/>
<circle cx="44.0" cy="116.5" r="3.2"/>
<circle cx="46.3" cy="118.6" r="3.2"/>
<circle cx="61.8" cy="118.3" r="3.2"/>
<circle cx="51.8" cy="118.7" r="3.2"/>
<circle cx="54.4" cy="116.3" r="3.2"/>
<circle cx="48.2" cy="119.4" r="3.2"/>
<circle cx="67.1" cy="119.4" r="3.2"/>
<circle cx="53.3" cy="118.6" r="3.2"/>
<circle cx="74.2" cy="118.4" r="3.2"/>
<circle cx="55.6" cy="120.0" r="3.2"/>
<circle cx="63.5" cy="119.7" r="3.2"/>
<circle cx="78.1" cy="115.4" r="3.2"/>
<circle cx="67.9" cy="119.1" r="3.2"/>
<circle cx="77.4" cy="119.7" r="3.2"/>
<circle cx="46.5" cy="118.2" r="3.2"/>
<circle cx="45.4" cy="117.5" r="3.2"/>
<circle cx="49.0" cy="116.9" r="3.2"/>
<circle cx="49.3" cy="119.5" r="3.2"/>
<circle cx="55.5" cy="119.1" r="3.2"/>
<circle cx="64.1" cy="117.9" r="3.2"/>
<circle cx="44.1" cy="117.4" r="3.2"/>
<circle cx="45.5" cy="118.6" r="3.2"/>
<circle cx="60.0" cy="118.3" r="3.2"/>
<circle cx="44.1" cy="110.2" r="3.2"/>
<circle cx="67.1" cy="116.8" r="3.2"/>
<circle cx="65.3" cy="118.6" r="3.2"/>
<circle cx="76.9" cy="120.6" r="3.2"/>
<circle cx="65.7" cy="118.5" r="3.2"/>
<circle cx="53.2" cy="120.1" r="3.2"/>
<circle cx="74.7" cy="110.1" r="3.2"/>
<circle cx="61.4" cy="117.8" r="3.2"/>
<circle cx="78.2" cy="118.7" r="3.2"/>
<circle cx="51.7" cy="117.1" r="3.2"/>
<circle cx="57.4" cy="116.4" r="3.2"/>
<circle cx="65.6" cy="118.4" r="3.2"/>
<circle cx="73.0" cy="119.0" r="3.2"/>
<circle cx="74.9" cy="114.9" r="3.2"/>
<circle cx="68.1" cy="121.5" r="3.2"/>
<circle cx="49.0" cy="119.0" r="3.2"/>
<circle cx="60.8" cy="118.9" r="3.2"/>
<circle cx="70.0" cy="120.2" r="3.2"/>
<circle cx="51.8" cy="118.2" r="3.2"/>
<circle cx="47.8" cy="119.8" r="3.2"/>
<circle cx="46.9" cy="120.4" r="3.2"/>
<circle cx="70.9" cy="120.3" r="3.2"/>
<circle cx="49.1" cy="119.7" r="3.2"/>
<circle cx="52.4" cy="119.2" r="3.2"/>
<circle cx="71.7" cy="114.5" r="3.2"/>
<circle cx="55.0" cy="114.6" r="3.2"/>
<circle cx="73.4" cy="118.5" r="3.2"/>
<circle cx="68.5" cy="119.0" r="3.2"/>
<circle cx="73.0" cy="120.3" r="3.2"/>
<circle cx="67.2" cy="119.0" r="3.2"/>
<circle cx="43.8" cy="122.2" r="3.2"/>
<circle cx="48.1" cy="118.4" r="3.2"/>
<circle cx="58.3" cy="117.5" r="3.2"/>
<circle cx="78.6" cy="115.2" r="3.2"/>
<circle cx="47.5" cy="118.0" r="3.2"/>
<circle cx="47.6" cy="117.8" r="3.2"/>
<circle cx="62.7" cy="118.8" r="3.2"/>
<circle cx="71.9" cy="120.2" r="3.2"/>
<circle cx="53.4" cy="115.8" r="3.2"/>
<circle cx="57.2" cy="116.4" r="3.2"/>
<circle cx="62.8" cy="119.9" r="3.2"/>
<circle cx="47.1" cy="120.0" r="3.2"/>
<circle cx="52.3" cy="120.2" r="3.2"/>
<circle cx="44.0" cy="120.2" r="3.2"/>
<circle cx="48.4" cy="119.4" r="3.2"/>
<circle cx="60.5" cy="118.7" r="3.2"/>
<circle cx="45.1" cy="110.5" r="3.2"/>
<circle cx="49.8" cy="119.9" r="3.2"/>
<circle cx="78.9" cy="110.9" r="3.2"/>
<circle cx="72.1" cy="119.3" r="3.2"/>
<circle cx="63.0" cy="118.9" r="3.2"/>
<circle cx="76.8" cy="118.9" r="3.2"/>
<circle cx="78.8" cy="112.3" r="3.2"/>
<circle cx="44.3" cy="118.7" r="3.2"/>
<circle cx="46.0" cy="113.7" r="3.2"/>
<circle cx="43.7" cy="107.3" r="3.2"/>
<circle cx="43.7" cy="120.2" r="3.2"/>
<circle cx="69.6" cy="112.2" r="3.2"/>
<circle cx="72.8" cy="120.0" r="3.2"/>
<circle cx="77.2" cy="114.6" r="3.2"/>
<circle cx="52.2" cy="120.9" r="3.2"/>
<circle cx="51.4" cy="117.8" r="3.2"/>
<circle cx="66.8" cy="118.5" r="3.2"/>
<circle cx="55.9" cy="110.6" r="3.2"/>
<circle cx="54.8" cy="117.9" r="3.2"/>
<circle cx="69.8" cy="118.7" r="3.2"/>
<circle cx="67.6" cy="119.3" r="3.2"/>
<circle cx="58.7" cy="117.1" r="3.2"/>
<circle cx="57.7" cy="116.7" r="3.2"/>
<circle cx="74.7" cy="113.8" r="3.2"/>
<circle cx="47.2" cy="116.9" r="3.2"/>
<circle cx="51.1" cy="115.1" r="3.2"/>
<circle cx="49.6" cy="115.4" r="3.2"/>
<circle cx="49.8" cy="101.1" r="3.2"/>
<circle cx="48.6" cy="118.4" r="3.2"/>
<circle cx="50.9" cy="120.6" r="3.2"/>
<circle cx="75.0" cy="118.6" r="3.2"/>
<circle cx="63.6" cy="111.8" r="3.2"/>
<circle cx="67.9" cy="118.9" r="3.2"/>
<circle cx="57.0" cy="115.4" r="3.2"/>
<circle cx="63.7" cy="121.0" r="3.2"/>
<circle cx="59.3" cy="119.8" r="3.2"/>
<circle cx="64.5" cy="120.2" r="3.2"/>
<circle cx="78.7" cy="120.5" r="3.2"/>
<circle cx="54.5" cy="120.6" r="3.2"/>
<circle cx="74.3" cy="101.0" r="3.2"/>
<circle cx="60.8" cy="111.5" r="3.2"/>
<circle cx="72.9" cy="117.4" r="3.2"/>
<circle cx="61.6" cy="121.5" r="3.2"/>
<circle cx="68.7" cy="113.3" r="3.2"/>
<circle cx="59.5" cy="120.0" r="3.2"/>
<circle cx="53.3" cy="119.0" r="3.2"/>
<circle cx="45.9" cy="119.8" r="3.2"/>
<circle cx="51.9" cy="118.3" r="3.2"/>
<circle cx="73.8" cy="117.2" r="3.2"/>
<circle cx="93.9" cy="117.3" r="3.2"/>
<circle cx="79.7" cy="118.4" r="3.2"/>
<circle cx="79.8" cy="116.8" r="3.2"/>
<circle cx="95.4" cy="119.9" r="3.2"/>
<circle cx="99.6" cy="115.4" r="3.2"/>
<circle cx="96.2" cy="120.1" r="3.2"/>
<circle cx="84.9" cy="118.5" r="3.2"/>
<circle cx="82.7" cy="119.2" r="3.2"/>
<circle cx="91.2" cy="119.6" r="3.2"/>
<circle cx="91.1" cy="119.9" r="3.2"/>
<circle cx="98.2" cy="119.9" r="3.2"/>
<circle cx="83.5" cy="98.1" r="3.2"/>
<circle cx="83.5" cy="116.6" r="3.2"/>
<circle cx="80.2" cy="117.5" r="3.2"/>
<circle cx="84.5" cy="120.5" r="3.2"/>
<circle cx="86.6" cy="118.4" r="3.2"/>
<circle cx="81.4" cy="121.1" r="3.2"/>
<circle cx="82.2" cy="119.0" r="3.2"/>
<circle cx="90.7" cy="121.8" r="3.2"/>
<circle cx="97.9" cy="113.6" r="3.2"/>
<circle cx="79.3" cy="117.9" r="3.2"/>
<circle cx="85.1" cy="119.0" r="3.2"/>
<circle cx="90.6" cy="118.1" r="3.2"/>
<circle cx="80.0" cy="119.5" r="3.2"/>
<circle cx="102.7" cy="119.3" r="3.2"/>
<circle cx="98.7" cy="118.7" r="3.2"/>
<circle cx="92.7" cy="118.7" r="3.2"/>
<circle cx="117.3" cy="116.7" r="3.2"/>
<circle cx="156.0" cy="114.7" r="3.2"/>
<circle cx="156.5" cy="115.5" r="3.2"/>
<circle cx="142.0" cy="116.5" r="3.2"/>
<circle cx="140.6" cy="118.3" r="3.2"/>
<circle cx="141.0" cy="117.5" r="3.2"/>
<circle cx="59.7" cy="126.1" r="3.2"/>
<circle cx="83.1" cy="125.0" r="3.2"/>
<circle cx="69.1" cy="122.5" r="3.2"/>
<circle cx="85.2" cy="122.4" r="3.2"/>
<circle cx="56.3" cy="129.4" r="3.2"/>
<circle cx="67.2" cy="125.0" r="3.2"/>
<circle cx="65.9" cy="133.9" r="3.2"/>
<circle cx="56.2" cy="133.3" r="3.2"/>
<circle cx="64.9" cy="135.6" r="3.2"/>
<circle cx="78.2" cy="132.2" r="3.2"/>
<circle cx="66.5" cy="135.4" r="3.2"/>
<circle cx="78.9" cy="130.9" r="3.2"/>
<circle cx="51.1" cy="135.0" r="3.2"/>
<circle cx="50.8" cy="132.7" r="3.2"/>
<circle cx="46.3" cy="130.3" r="3.2"/>
<circle cx="65.5" cy="134.0" r="3.2"/>
<circle cx="69.4" cy="136.2" r="3.2"/>
<circle cx="47.6" cy="136.4" r="3.2"/>
<circle cx="77.0" cy="134.2" r="3.2"/>
<circle cx="44.2" cy="130.7" r="3.2"/>
<circle cx="71.5" cy="131.1" r="3.2"/>
<circle cx="47.7" cy="134.4" r="3.2"/>
<circle cx="61.6" cy="128.1" r="3.2"/>
<circle cx="52.1" cy="133.9" r="3.2"/>
<circle cx="63.2" cy="135.3" r="3.2"/>
<circle cx="73.7" cy="127.2" r="3.2"/>
<circle cx="62.0" cy="131.3" r="3.2"/>
<circle cx="74.1" cy="133.8" r="3.2"/>
<circle cx="48.8" cy="134.1" r="3.2"/>
<circle cx="69.5" cy="134.8" r="3.2"/>
<circle cx="44.3" cy="133.1" r="3.2"/>
<circle cx="77.8" cy="134.2" r="3.2"/>
<circle cx="58.2" cy="132.7" r="3.2"/>
<circle cx="47.3" cy="133.3" r="3.2"/>
<circle cx="66.6" cy="135.2" r="3.2"/>
<circle cx="77.1" cy="131.4" r="3.2"/>
<circle cx="57.4" cy="128.6" r="3.2"/>
<circle cx="52.5" cy="131.3" r="3.2"/>
<circle cx="58.7" cy="134.2" r="3.2"/>
<circle cx="45.1" cy="135.4" r="3.2"/>
<circle cx="62.8" cy="133.2" r="3.2"/>
<circle cx="46.8" cy="132.1" r="3.2"/>
<circle cx="70.1" cy="134.1" r="3.2"/>
<circle cx="43.6" cy="121.1" r="3.2"/>
<circle cx="77.6" cy="130.4" r="3.2"/>
<circle cx="56.5" cy="129.9" r="3.2"/>
<circle cx="61.1" cy="133.4" r="3.2"/>
<circle cx="70.2" cy="133.6" r="3.2"/>
<circle cx="71.7" cy="126.5" r="3.2"/>
<circle cx="57.7" cy="130.7" r="3.2"/>
<circle cx="73.0" cy="133.2" r="3.2"/>
<circle cx="72.6" cy="133.7" r="3.2"/>
<circle cx="70.6" cy="129.9" r="3.2"/>
<circle cx="63.0" cy="133.8" r="3.2"/>
<circle cx="76.7" cy="133.8" r="3.2"/>
<circle cx="64.0" cy="128.0" r="3.2"/>
<circle cx="78.4" cy="134.9" r="3.2"/>
<circle cx="46.0" cy="132.1" r="3.2"/>
<circle cx="56.8" cy="132.0" r="3.2"/>
<circle cx="47.5" cy="128.9" r="3.2"/>
<circle cx="73.1" cy="134.3" r="3.2"/>
<circle cx="62.9" cy="133.0" r="3.2"/>
<circle cx="63.3" cy="136.8" r="3.2"/>
<circle cx="50.8" cy="131.1" r="3.2"/>
<circle cx="74.5" cy="133.5" r="3.2"/>
<circle cx="44.4" cy="131.6" r="3.2"/>
<circle cx="60.9" cy="131.6" r="3.2"/>
<circle cx="57.2" cy="135.6" r="3.2"/>
<circle cx="49.2" cy="135.2" r="3.2"/>
<circle cx="50.5" cy="132.9" r="3.2"/>
<circle cx="61.9" cy="131.1" r="3.2"/>
<circle cx="73.4" cy="129.1" r="3.2"/>
<circle cx="55.0" cy="134.4" r="3.2"/>
<circle cx="51.6" cy="128.4" r="3.2"/>
<circle cx="45.6" cy="133.6" r="3.2"/>
<circle cx="56.8" cy="132.5" r="3.2"/>
<circle cx="63.3" cy="134.7" r="3.2"/>
<circle cx="75.8" cy="133.1" r="3.2"/>
<circle cx="70.2" cy="132.6" r="3.2"/>
<circle cx="73.6" cy="128.6" r="3.2"/>
<circle cx="55.2" cy="121.7" r="3.2"/>
<circle cx="70.6" cy="135.7" r="3.2"/>
<circle cx="51.1" cy="131.4" r="3.2"/>
<circle cx="65.1" cy="127.3" r="3.2"/>
<circle cx="76.3" cy="132.7" r="3.2"/>
<circle cx="56.3" cy="133.8" r="3.2"/>
<circle cx="73.9" cy="133.0" r="3.2"/>
<circle cx="52.8" cy="133.5" r="3.2"/>
<circle cx="53.8" cy="133.3" r="3.2"/>
<circle cx="60.6" cy="132.6" r="3.2"/>
<circle cx="74.5" cy="126.7" r="3.2"/>
<circle cx="73.8" cy="132.1" r="3.2"/>
<circle cx="62.4" cy="133.5" r="3.2"/>
<circle cx="76.1" cy="134.0" r="3.2"/>
<circle cx="76.7" cy="128.0" r="3.2"/>
<circle cx="51.6" cy="132.7" r="3.2"/>
<circle cx="77.0" cy="135.4" r="3.2"/>
<circle cx="63.5" cy="133.2" r="3.2"/>
<circle cx="76.9" cy="133.8" r="3.2"/>
<circle cx="45.9" cy="135.2" r="3.2"/>
<circle cx="47.6" cy="134.9" r="3.2"/>
<circle cx="54.3" cy="135.6" r="3.2"/>
<circle cx="45.7" cy="130.9" r="3.2"/>
<circle cx="78.4" cy="135.3" r="3.2"/>
<circle cx="61.9" cy="130.3" r="3.2"/>
<circle cx="49.9" cy="133.1" r="3.2"/>
<circle cx="50.4" cy="135.1" r="3.2"/>
<circle cx="58.2" cy="135.2" r="3.2"/>
<circle cx="63.2" cy="134.7" r="3.2"/>
<circle cx="63.3" cy="132.2" r="3.2"/>
<circle cx="76.8" cy="135.6" r="3.2"/>
<circle cx="77.2" cy="135.8" r="3.2"/>
<circle cx="44.0" cy="131.8" r="3.2"/>
<circle cx="64.4" cy="132.7" r="3.2"/>
<circle cx="76.6" cy="130.6" r="3.2"/>
<circle cx="77.6" cy="134.4" r="3.2"/>
<circle cx="44.2" cy="126.0" r="3.2"/>
<circle cx="67.9" cy="132.2" r="3.2"/>
<circle cx="72.1" cy="133.3" r="3.2"/>
<circle cx="71.7" cy="134.6" r="3.2"/>
<circle cx="55.3" cy="133.5" r="3.2"/>
<circle cx="70.8" cy="130.0" r="3.2"/>
<circle cx="67.4" cy="133.8" r="3.2"/>
<circle cx="51.7" cy="134.3" r="3.2"/>
<circle cx="52.3" cy="134.6" r="3.2"/>
<circle cx="71.3" cy="132.7" r="3.2"/>
<circle cx="62.0" cy="125.3" r="3.2"/>
<circle cx="49.9" cy="132.2" r="3.2"/>
<circle cx="67.4" cy="135.7" r="3.2"/>
<circle cx="62.6" cy="128.2" r="3.2"/>
<circle cx="58.1" cy="134.8" r="3.2"/>
<circle cx="56.5" cy="124.8" r="3.2"/>
<circle cx="48.1" cy="133.9" r="3.2"/>
<circle cx="71.2" cy="127.5" r="3.2"/>
<circle cx="64.5" cy="134.7" r="3.2"/>
<circle cx="60.3" cy="135.4" r="3.2"/>
<circle cx="56.9" cy="124.2" r="3.2"/>
<circle cx="48.4" cy="126.7" r="3.2"/>
<circle cx="55.5" cy="133.3" r="3.2"/>
<circle cx="80.0" cy="134.8" r="3.2"/>
<circle cx="79.9" cy="133.7" r="3.2"/>
<circle cx="94.8" cy="135.4" r="3.2"/>
<circle cx="83.3" cy="132.6" r="3.2"/>
<circle cx="96.3" cy="133.1" r="3.2"/>
<circle cx="82.2" cy="133.6" r="3.2"/>
<circle cx="86.3" cy="132.0" r="3.2"/>
<circle cx="86.3" cy="133.1" r="3.2"/>
<circle cx="79.4" cy="133.4" r="3.2"/>
<circle cx="95.9" cy="136.1" r="3.2"/>
<circle cx="80.2" cy="130.4" r="3.2"/>
<circle cx="97.2" cy="136.3" r="3.2"/>
<circle cx="87.9" cy="133.2" r="3.2"/>
<circle cx="96.4" cy="134.2" r="3.2"/>
<circle cx="79.1" cy="133.7" r="3.2"/>
<circle cx="80.2" cy="128.8" r="3.2"/>
<circle cx="80.8" cy="133.2" r="3.2"/>
<circle cx="89.0" cy="132.5" r="3.2"/>
<circle cx="80.5" cy="132.9" r="3.2"/>
<circle cx="88.2" cy="131.5" r="3.2"/>
<circle cx="88.4" cy="132.7" r="3.2"/>
<circle cx="84.1" cy="132.8" r="3.2"/>
<circle cx="96.0" cy="133.3" r="3.2"/>
<circle cx="98.0" cy="126.0" r="3.2"/>
<circle cx="112.0" cy="130.7" r="3.2"/>
<circle cx="100.0" cy="126.0" r="3.2"/>
<circle cx="112.4" cy="131.2" r="3.2"/>
<circle cx="125.6" cy="129.8" r="3.2"/>
<circle cx="121.2" cy="132.4" r="3.2"/>
<circle cx="131.4" cy="132.4" r="3.2"/>
<circle cx="135.3" cy="132.0" r="3.2"/>
<circle cx="138.0" cy="130.3" r="3.2"/>
<circle cx="125.3" cy="137.4" r="3.2"/>
<circle cx="119.0" cy="142.1" r="3.2"/>
<circle cx="108.0" cy="144.4" r="3.2"/>
<circle cx="110.6" cy="143.0" r="3.2"/>
<circle cx="111.0" cy="143.5" r="3.2"/>
<circle cx="111.5" cy="151.0" r="3.2"/>
<circle cx="100.0" cy="154.5" r="3.2"/>
<circle cx="103.5" cy="163.3" r="3.2"/>
<circle cx="100.0" cy="175.7" r="3.2"/>
<circle cx="100.0" cy="149.0" r="3.2"/>
<circle cx="126.0" cy="129.0" r="3.2"/>
<circle cx="136.0" cy="120.0" r="3.2"/>
<circle cx="62.4" cy="138.7" r="3.2"/>
<circle cx="80.5" cy="138.2" r="3.2"/>
<circle cx="81.4" cy="141.3" r="3.2"/>
<circle cx="79.3" cy="137.8" r="3.2"/>
<circle cx="64.4" cy="141.9" r="3.2"/>
<circle cx="55.5" cy="137.9" r="3.2"/>
<circle cx="74.9" cy="144.8" r="3.2"/>
<circle cx="55.7" cy="143.7" r="3.2"/>
<circle cx="58.5" cy="144.9" r="3.2"/>
<circle cx="65.8" cy="148.5" r="3.2"/>
<circle cx="65.0" cy="143.9" r="3.2"/>
<circle cx="47.2" cy="144.8" r="3.2"/>
<circle cx="71.3" cy="148.2" r="3.2"/>
<circle cx="47.0" cy="150.2" r="3.2"/>
<circle cx="53.5" cy="148.9" r="3.2"/>
<circle cx="82.8" cy="147.3" r="3.2"/>
<circle cx="61.9" cy="150.3" r="3.2"/>
<circle cx="64.4" cy="139.1" r="3.2"/>
<circle cx="65.3" cy="147.6" r="3.2"/>
<circle cx="78.4" cy="151.5" r="3.2"/>
<circle cx="83.4" cy="149.2" r="3.2"/>
<circle cx="78.7" cy="146.1" r="3.2"/>
<circle cx="51.0" cy="148.1" r="3.2"/>
<circle cx="83.5" cy="145.3" r="3.2"/>
<circle cx="58.3" cy="145.8" r="3.2"/>
<circle cx="84.1" cy="146.2" r="3.2"/>
<circle cx="46.1" cy="152.0" r="3.2"/>
<circle cx="81.4" cy="148.4" r="3.2"/>
<circle cx="73.6" cy="150.7" r="3.2"/>
<circle cx="48.8" cy="148.3" r="3.2"/>
<circle cx="45.9" cy="148.8" r="3.2"/>
<circle cx="81.5" cy="145.7" r="3.2"/>
<circle cx="84.5" cy="146.9" r="3.2"/>
<circle cx="58.7" cy="147.6" r="3.2"/>
<circle cx="78.1" cy="143.3" r="3.2"/>
<circle cx="65.8" cy="146.1" r="3.2"/>
<circle cx="51.5" cy="147.0" r="3.2"/>
<circle cx="57.7" cy="145.0" r="3.2"/>
<circle cx="83.1" cy="132.4" r="3.2"/>
<circle cx="77.1" cy="146.0" r="3.2"/>
<circle cx="66.1" cy="148.7" r="3.2"/>
<circle cx="64.0" cy="147.0" r="3.2"/>
<circle cx="54.2" cy="144.2" r="3.2"/>
<circle cx="46.4" cy="146.7" r="3.2"/>
<circle cx="66.3" cy="147.4" r="3.2"/>
<circle cx="61.1" cy="144.9" r="3.2"/>
<circle cx="85.2" cy="145.3" r="3.2"/>
<circle cx="67.6" cy="146.0" r="3.2"/>
<circle cx="84.3" cy="148.5" r="3.2"/>
<circle cx="86.9" cy="150.5" r="3.2"/>
<circle cx="51.6" cy="149.4" r="3.2"/>
<circle cx="67.4" cy="142.2" r="3.2"/>
<circle cx="75.1" cy="140.7" r="3.2"/>
<circle cx="63.3" cy="147.3" r="3.2"/>
<circle cx="64.1" cy="148.9" r="3.2"/>
<circle cx="46.4" cy="142.5" r="3.2"/>
<circle cx="62.4" cy="145.0" r="3.2"/>
<circle cx="60.9" cy="147.3" r="3.2"/>
<circle cx="73.1" cy="150.9" r="3.2"/>
<circle cx="48.9" cy="145.5" r="3.2"/>
<circle cx="44.0" cy="145.8" r="3.2"/>
<circle cx="85.0" cy="148.6" r="3.2"/>
<circle cx="64.6" cy="146.7" r="3.2"/>
<circle cx="48.5" cy="148.6" r="3.2"/>
<circle cx="81.1" cy="147.1" r="3.2"/>
<circle cx="82.1" cy="140.9" r="3.2"/>
<circle cx="74.2" cy="145.7" r="3.2"/>
<circle cx="57.1" cy="149.2" r="3.2"/>
<circle cx="61.3" cy="140.5" r="3.2"/>
<circle cx="81.7" cy="146.3" r="3.2"/>
<circle cx="82.5" cy="148.9" r="3.2"/>
<circle cx="72.6" cy="146.9" r="3.2"/>
<circle cx="56.2" cy="150.7" r="3.2"/>
<circle cx="72.5" cy="143.0" r="3.2"/>
<circle cx="53.2" cy="144.2" r="3.2"/>
<circle cx="58.2" cy="147.4" r="3.2"/>
<circle cx="44.0" cy="141.2" r="3.2"/>
<circle cx="53.0" cy="123.9" r="3.2"/>
<circle cx="51.9" cy="150.5" r="3.2"/>
<circle cx="79.2" cy="149.3" r="3.2"/>
<circle cx="60.4" cy="147.9" r="3.2"/>
<circle cx="75.9" cy="145.9" r="3.2"/>
<circle cx="54.3" cy="146.6" r="3.2"/>
<circle cx="86.4" cy="140.7" r="3.2"/>
<circle cx="57.5" cy="149.7" r="3.2"/>
<circle cx="68.1" cy="148.1" r="3.2"/>
<circle cx="64.9" cy="144.2" r="3.2"/>
<circle cx="55.9" cy="147.0" r="3.2"/>
<circle cx="61.7" cy="143.2" r="3.2"/>
<circle cx="86.6" cy="149.0" r="3.2"/>
<circle cx="85.0" cy="141.8" r="3.2"/>
<circle cx="73.5" cy="149.1" r="3.2"/>
<circle cx="79.5" cy="146.5" r="3.2"/>
<circle cx="44.4" cy="143.6" r="3.2"/>
<circle cx="49.8" cy="138.5" r="3.2"/>
<circle cx="51.1" cy="147.9" r="3.2"/>
<circle cx="78.0" cy="148.3" r="3.2"/>
<circle cx="73.7" cy="140.5" r="3.2"/>
<circle cx="80.9" cy="142.3" r="3.2"/>
<circle cx="81.7" cy="144.9" r="3.2"/>
<circle cx="57.0" cy="139.5" r="3.2"/>
<circle cx="86.4" cy="146.9" r="3.2"/>
<circle cx="70.4" cy="131.6" r="3.2"/>
<circle cx="62.1" cy="149.9" r="3.2"/>
<circle cx="83.3" cy="149.2" r="3.2"/>
<circle cx="74.2" cy="138.2" r="3.2"/>
<circle cx="81.4" cy="146.3" r="3.2"/>
<circle cx="45.4" cy="151.0" r="3.2"/>
<circle cx="46.0" cy="146.5" r="3.2"/>
<circle cx="47.5" cy="146.1" r="3.2"/>
<circle cx="86.3" cy="148.9" r="3.2"/>
<circle cx="47.8" cy="142.4" r="3.2"/>
<circle cx="51.0" cy="142.9" r="3.2"/>
<circle cx="63.7" cy="144.0" r="3.2"/>
<circle cx="58.9" cy="147.0" r="3.2"/>
<circle cx="44.0" cy="144.4" r="3.2"/>
<circle cx="55.0" cy="138.6" r="3.2"/>
<circle cx="56.9" cy="148.9" r="3.2"/>
<circle cx="76.3" cy="147.2" r="3.2"/>
<circle cx="65.2" cy="145.4" r="3.2"/>
<circle cx="65.3" cy="143.9" r="3.2"/>
<circle cx="82.3" cy="148.2" r="3.2"/>
<circle cx="56.5" cy="140.2" r="3.2"/>
<circle cx="51.7" cy="147.6" r="3.2"/>
<circle cx="79.8" cy="147.6" r="3.2"/>
<circle cx="63.2" cy="143.7" r="3.2"/>
<circle cx="81.8" cy="151.1" r="3.2"/>
<circle cx="46.6" cy="130.3" r="3.2"/>
<circle cx="67.1" cy="147.3" r="3.2"/>
<circle cx="65.9" cy="151.5" r="3.2"/>
<circle cx="46.6" cy="149.4" r="3.2"/>
<circle cx="60.3" cy="148.6" r="3.2"/>
<circle cx="48.1" cy="150.1" r="3.2"/>
<circle cx="76.6" cy="147.9" r="3.2"/>
<circle cx="68.8" cy="146.0" r="3.2"/>
<circle cx="52.8" cy="144.1" r="3.2"/>
<circle cx="58.0" cy="148.3" r="3.2"/>
<circle cx="52.9" cy="148.3" r="3.2"/>
<circle cx="52.7" cy="140.7" r="3.2"/>
<circle cx="67.7" cy="144.5" r="3.2"/>
<circle cx="54.8" cy="148.1" r="3.2"/>
<circle cx="45.8" cy="139.7" r="3.2"/>
<circle cx="49.4" cy="148.6" r="3.2"/>
<circle cx="85.2" cy="147.5" r="3.2"/>
<circle cx="79.5" cy="142.6" r="3.2"/>
<circle cx="45.2" cy="146.0" r="3.2"/>
<circle cx="60.0" cy="148.5" r="3.2"/>
<circle cx="51.4" cy="132.0" r="3.2"/>
<circle cx="53.8" cy="135.9" r="3.2"/>
<circle cx="51.4" cy="146.6" r="3.2"/>
<circle cx="80.2" cy="150.9" r="3.2"/>
<circle cx="70.7" cy="142.1" r="3.2"/>
<circle cx="64.9" cy="144.7" r="3.2"/>
<circle cx="45.4" cy="128.6" r="3.2"/>
<circle cx="59.5" cy="146.8" r="3.2"/>
<circle cx="51.2" cy="146.6" r="3.2"/>
<circle cx="65.1" cy="147.4" r="3.2"/>
<circle cx="51.6" cy="148.0" r="3.2"/>
<circle cx="46.7" cy="149.5" r="3.2"/>
<circle cx="63.7" cy="148.7" r="3.2"/>
<circle cx="70.4" cy="148.7" r="3.2"/>
<circle cx="45.6" cy="145.9" r="3.2"/>
<circle cx="49.8" cy="149.3" r="3.2"/>
<circle cx="59.9" cy="148.4" r="3.2"/>
<circle cx="80.3" cy="148.9" r="3.2"/>
<circle cx="48.2" cy="147.4" r="3.2"/>
<circle cx="48.2" cy="143.5" r="3.2"/>
<circle cx="66.7" cy="148.0" r="3.2"/>
<circle cx="68.1" cy="147.1" r="3.2"/>
<circle cx="45.0" cy="149.7" r="3.2"/>
<circle cx="51.8" cy="149.0" r="3.2"/>
<circle cx="60.4" cy="147.1" r="3.2"/>
<circle cx="84.4" cy="146.0" r="3.2"/>
<circle cx="74.2" cy="147.0" r="3.2"/>
<circle cx="45.1" cy="146.8" r="3.2"/>
<circle cx="73.9" cy="145.7" r="3.2"/>
<circle cx="51.4" cy="138.9" r="3.2"/>
<circle cx="86.1" cy="147.7" r="3.2"/>
<circle cx="81.1" cy="144.9" r="3.2"/>
<circle cx="68.5" cy="147.6" r="3.2"/>
<circle cx="87.0" cy="146.2" r="3.2"/>
<circle cx="49.6" cy="143.3" r="3.2"/>
<circle cx="49.1" cy="150.6" r="3.2"/>
<circle cx="55.5" cy="144.1" r="3.2"/>
<circle cx="51.7" cy="139.2" r="3.2"/>
<circle cx="59.3" cy="148.4" r="3.2"/>
<circle cx="88.1" cy="149.2" r="3.2"/>
<circle cx="89.6" cy="149.1" r="3.2"/>
<circle cx="87.0" cy="147.6" r="3.2"/>
<circle cx="87.2" cy="148.4" r="3.2"/>
<circle cx="88.5" cy="142.8" r="3.2"/>
<circle cx="90.6" cy="145.1" r="3.2"/>
<circle cx="89.3" cy="145.9" r="3.2"/>
<circle cx="87.8" cy="149.1" r="3.2"/>
<circle cx="99.4" cy="143.8" r="3.2"/>
<circle cx="90.5" cy="142.1" r="3.2"/>
<circle cx="92.6" cy="149.1" r="3.2"/>
<circle cx="87.4" cy="145.4" r="3.2"/>
<circle cx="96.7" cy="145.2" r="3.2"/>
<circle cx="90.0" cy="143.1" r="3.2"/>
<circle cx="87.1" cy="148.4" r="3.2"/>
<circle cx="92.0" cy="144.0" r="3.2"/>
<circle cx="53.5" cy="189.5" r="3.2"/>
<circle cx="66.3" cy="157.5" r="3.2"/>
<circle cx="74.5" cy="185.1" r="3.2"/>
<circle cx="63.0" cy="177.2" r="3.2"/>
<circle cx="63.8" cy="191.3" r="3.2"/>
<circle cx="50.2" cy="196.4" r="3.2"/>
<circle cx="64.3" cy="187.2" r="3.2"/>
<circle cx="43.5" cy="173.3" r="3.2"/>
<circle cx="51.5" cy="173.7" r="3.2"/>
<circle cx="60.3" cy="179.4" r="3.2"/>
<circle cx="44.9" cy="175.2" r="3.2"/>
<circle cx="63.9" cy="158.0" r="3.2"/>
<circle cx="78.6" cy="183.0" r="3.2"/>
<circle cx="52.0" cy="188.1" r="3.2"/>
<circle cx="60.2" cy="172.7" r="3.2"/>
<circle cx="55.4" cy="188.6" r="3.2"/>
<circle cx="56.5" cy="193.9" r="3.2"/>
<circle cx="59.2" cy="170.1" r="3.2"/>
<circle cx="79.0" cy="168.3" r="3.2"/>
<circle cx="56.3" cy="154.1" r="3.2"/>
<circle cx="66.6" cy="155.6" r="3.2"/>
<circle cx="47.7" cy="158.9" r="3.2"/>
<circle cx="63.7" cy="171.3" r="3.2"/>
<circle cx="57.7" cy="186.7" r="3.2"/>
<circle cx="55.2" cy="165.4" r="3.2"/>
<circle cx="48.9" cy="192.4" r="3.2"/>
<circle cx="74.5" cy="152.5" r="3.2"/>
<circle cx="47.2" cy="174.0" r="3.2"/>
<circle cx="74.7" cy="158.2" r="3.2"/>
<circle cx="45.0" cy="186.1" r="3.2"/>
<circle cx="49.8" cy="182.7" r="3.2"/>
<circle cx="63.8" cy="172.3" r="3.2"/>
<circle cx="76.5" cy="154.3" r="3.2"/>
<circle cx="47.5" cy="167.3" r="3.2"/>
<circle cx="46.3" cy="187.5" r="3.2"/>
<circle cx="65.6" cy="153.7" r="3.2"/>
<circle cx="75.1" cy="173.4" r="3.2"/>
<circle cx="49.3" cy="188.0" r="3.2"/>
<circle cx="63.8" cy="154.1" r="3.2"/>
<circle cx="52.8" cy="173.4" r="3.2"/>
<circle cx="48.6" cy="193.7" r="3.2"/>
<circle cx="45.3" cy="181.3" r="3.2"/>
<circle cx="70.9" cy="194.0" r="3.2"/>
<circle cx="53.5" cy="180.1" r="3.2"/>
<circle cx="75.2" cy="184.9" r="3.2"/>
<circle cx="44.3" cy="188.2" r="3.2"/>
<circle cx="47.4" cy="174.9" r="3.2"/>
<circle cx="77.0" cy="176.9" r="3.2"/>
<circle cx="50.1" cy="191.4" r="3.2"/>
<circle cx="53.4" cy="177.1" r="3.2"/>
<circle cx="69.1" cy="159.7" r="3.2"/>
<circle cx="53.9" cy="186.5" r="3.2"/>
<circle cx="67.3" cy="171.1" r="3.2"/>
<circle cx="58.6" cy="185.1" r="3.2"/>
<circle cx="46.0" cy="157.4" r="3.2"/>
<circle cx="72.2" cy="159.7" r="3.2"/>
<circle cx="65.3" cy="174.6" r="3.2"/>
<circle cx="55.2" cy="168.6" r="3.2"/>
<circle cx="78.0" cy="160.0" r="3.2"/>
<circle cx="47.0" cy="179.6" r="3.2"/>
<circle cx="63.6" cy="184.0" r="3.2"/>
<circle cx="70.1" cy="179.9" r="3.2"/>
<circle cx="74.2" cy="179.7" r="3.2"/>
<circle cx="53.6" cy="196.1" r="3.2"/>
<circle cx="55.4" cy="181.5" r="3.2"/>
<circle cx="55.1" cy="170.7" r="3.2"/>
<circle cx="54.6" cy="181.5" r="3.2"/>
<circle cx="73.0" cy="168.0" r="3.2"/>
<circle cx="65.3" cy="188.4" r="3.2"/>
<circle cx="54.6" cy="190.4" r="3.2"/>
<circle cx="51.1" cy="181.2" r="3.2"/>
<circle cx="46.2" cy="166.3" r="3.2"/>
<circle cx="74.2" cy="188.3" r="3.2"/>
<circle cx="55.6" cy="165.8" r="3.2"/>
<circle cx="47.5" cy="157.3" r="3.2"/>
<circle cx="74.8" cy="181.0" r="3.2"/>
<circle cx="51.2" cy="155.8" r="3.2"/>
<circle cx="50.2" cy="186.5" r="3.2"/>
<circle cx="53.1" cy="191.9" r="3.2"/>
<circle cx="49.4" cy="173.5" r="3.2"/>
<circle cx="57.2" cy="165.2" r="3.2"/>
<circle cx="68.5" cy="164.7" r="3.2"/>
<circle cx="65.1" cy="153.4" r="3.2"/>
<circle cx="53.1" cy="188.5" r="3.2"/>
<circle cx="46.8" cy="160.7" r="3.2"/>
<circle cx="70.9" cy="155.5" r="3.2"/>
<circle cx="43.7" cy="179.4" r="3.2"/>
<circle cx="63.6" cy="172.6" r="3.2"/>
<circle cx="44.2" cy="166.5" r="3.2"/>
<circle cx="54.7" cy="171.2" r="3.2"/>
<circle cx="52.2" cy="196.2" r="3.2"/>
<circle cx="68.4" cy="194.0" r="3.2"/>
<circle cx="47.0" cy="178.1" r="3.2"/>
<circle cx="45.7" cy="188.8" r="3.2"/>
<circle cx="46.1" cy="177.4" r="3.2"/>
<circle cx="56.7" cy="156.2" r="3.2"/>
<circle cx="78.7" cy="159.1" r="3.2"/>
<circle cx="75.0" cy="178.3" r="3.2"/>
<circle cx="64.0" cy="195.5" r="3.2"/>
<circle cx="59.0" cy="181.4" r="3.2"/>
<circle cx="65.5" cy="187.4" r="3.2"/>
<circle cx="61.1" cy="159.2" r="3.2"/>
<circle cx="60.5" cy="170.8" r="3.2"/>
<circle cx="67.0" cy="184.4" r="3.2"/>
<circle cx="70.8" cy="177.9" r="3.2"/>
<circle cx="45.7" cy="189.5" r="3.2"/>
<circle cx="44.5" cy="158.6" r="3.2"/>
<circle cx="77.4" cy="159.3" r="3.2"/>
<circle cx="57.7" cy="166.1" r="3.2"/>
<circle cx="62.3" cy="173.2" r="3.2"/>
<circle cx="70.4" cy="164.7" r="3.2"/>
<circle cx="73.0" cy="167.1" r="3.2"/>
<circle cx="43.3" cy="188.6" r="3.2"/>
<circle cx="45.9" cy="176.9" r="3.2"/>
<circle cx="44.9" cy="192.2" r="3.2"/>
<circle cx="70.0" cy="164.2" r="3.2"/>
<circle cx="66.2" cy="178.9" r="3.2"/>
<circle cx="60.7" cy="170.8" r="3.2"/>
<circle cx="58.6" cy="161.2" r="3.2"/>
<circle cx="66.5" cy="163.7" r="3.2"/>
<circle cx="47.3" cy="156.9" r="3.2"/>
<circle cx="61.2" cy="161.0" r="3.2"/>
<circle cx="43.4" cy="178.5" r="3.2"/>
<circle cx="65.4" cy="196.9" r="3.2"/>
<circle cx="48.0" cy="169.3" r="3.2"/>
<circle cx="75.3" cy="189.6" r="3.2"/>
<circle cx="69.5" cy="160.1" r="3.2"/>
<circle cx="74.1" cy="189.2" r="3.2"/>
<circle cx="46.8" cy="161.5" r="3.2"/>
<circle cx="50.4" cy="159.5" r="3.2"/>
<circle cx="70.5" cy="193.0" r="3.2"/>
<circle cx="47.0" cy="173.6" r="3.2"/>
<circle cx="50.8" cy="168.0" r="3.2"/>
<circle cx="68.2" cy="181.5" r="3.2"/>
<circle cx="57.2" cy="187.3" r="3.2"/>
<circle cx="58.8" cy="172.8" r="3.2"/>
<circle cx="58.3" cy="168.8" r="3.2"/>
<circle cx="67.8" cy="183.2" r="3.2"/>
<circle cx="62.4" cy="166.9" r="3.2"/>
<circle cx="44.5" cy="158.6" r="3.2"/>
<circle cx="54.9" cy="169.6" r="3.2"/>
<circle cx="45.5" cy="153.5" r="3.2"/>
<circle cx="76.7" cy="171.4" r="3.2"/>
<circle cx="44.0" cy="190.1" r="3.2"/>
<circle cx="55.2" cy="166.4" r="3.2"/>
<circle cx="47.3" cy="166.2" r="3.2"/>
<circle cx="72.7" cy="178.9" r="3.2"/>
<circle cx="48.6" cy="169.4" r="3.2"/>
<circle cx="43.7" cy="156.8" r="3.2"/>
<circle cx="50.3" cy="186.8" r="3.2"/>
<circle cx="70.9" cy="184.9" r="3.2"/>
<circle cx="49.0" cy="155.8" r="3.2"/>
<circle cx="70.0" cy="166.4" r="3.2"/>
<circle cx="52.9" cy="185.5" r="3.2"/>
<circle cx="54.7" cy="172.6" r="3.2"/>
<circle cx="71.0" cy="173.5" r="3.2"/>
<circle cx="71.6" cy="163.9" r="3.2"/>
<circle cx="60.1" cy="193.9" r="3.2"/>
<circle cx="69.4" cy="195.6" r="3.2"/>
<circle cx="78.7" cy="159.8" r="3.2"/>
<circle cx="71.4" cy="161.1" r="3.2"/>
<circle cx="52.9" cy="157.5" r="3.2"/>
<circle cx="72.7" cy="172.1" r="3.2"/>
<circle cx="49.5" cy="183.0" r="3.2"/>
<circle cx="69.1" cy="192.9" r="3.2"/>
<circle cx="44.6" cy="175.2" r="3.2"/>
<circle cx="52.5" cy="165.0" r="3.2"/>
<circle cx="76.8" cy="171.1" r="3.2"/>
<circle cx="72.0" cy="179.1" r="3.2"/>
<circle cx="50.9" cy="155.2" r="3.2"/>
<circle cx="54.2" cy="185.3" r="3.2"/>
<circle cx="45.0" cy="162.3" r="3.2"/>
<circle cx="56.8" cy="154.3" r="3.2"/>
<circle cx="56.3" cy="176.9" r="3.2"/>
<circle cx="52.5" cy="177.7" r="3.2"/>
<circle cx="66.4" cy="152.8" r="3.2"/>
<circle cx="59.6" cy="167.3" r="3.2"/>
<circle cx="51.8" cy="169.2" r="3.2"/>
<circle cx="52.7" cy="154.4" r="3.2"/>
<circle cx="46.6" cy="165.6" r="3.2"/>
<circle cx="59.2" cy="153.3" r="3.2"/>
<circle cx="74.3" cy="152.9" r="3.2"/>
<circle cx="57.9" cy="168.4" r="3.2"/>
<circle cx="43.9" cy="175.9" r="3.2"/>
<circle cx="70.7" cy="156.6" r="3.2"/>
<circle cx="59.7" cy="177.3" r="3.2"/>
<circle cx="69.4" cy="167.6" r="3.2"/>
<circle cx="70.9" cy="174.9" r="3.2"/>
<circle cx="72.0" cy="190.0" r="3.2"/>
<circle cx="66.4" cy="185.0" r="3.2"/>
<circle cx="61.2" cy="173.0" r="3.2"/>
<circle cx="60.9" cy="178.3" r="3.2"/>
<circle cx="71.3" cy="189.3" r="3.2"/>
<circle cx="69.4" cy="154.4" r="3.2"/>
<circle cx="63.6" cy="180.0" r="3.2"/>
<circle cx="44.4" cy="193.3" r="3.2"/>
<circle cx="55.4" cy="173.6" r="3.2"/>
<circle cx="47.2" cy="195.2" r="3.2"/>
<circle cx="47.5" cy="177.6" r="3.2"/>
<circle cx="59.4" cy="186.3" r="3.2"/>
<circle cx="53.0" cy="185.5" r="3.2"/>
<circle cx="43.4" cy="192.2" r="3.2"/>
<circle cx="68.7" cy="162.2" r="3.2"/>
<circle cx="66.7" cy="192.0" r="3.2"/>
<circle cx="45.5" cy="164.5" r="3.2"/>
<circle cx="68.6" cy="184.3" r="3.2"/>
<circle cx="76.4" cy="154.8" r="3.2"/>
<circle cx="44.2" cy="176.0" r="3.2"/>
<circle cx="54.1" cy="173.8" r="3.2"/>
<circle cx="74.5" cy="156.7" r="3.2"/>
<circle cx="46.2" cy="194.5" r="3.2"/>
<circle cx="51.9" cy="172.3" r="3.2"/>
<circle cx="46.4" cy="182.6" r="3.2"/>
<circle cx="56.7" cy="167.2" r="3.2"/>
<circle cx="57.6" cy="173.5" r="3.2"/>
<circle cx="76.7" cy="179.1" r="3.2"/>
<circle cx="69.4" cy="194.4" r="3.2"/>
<circle cx="49.7" cy="189.7" r="3.2"/>
<circle cx="58.5" cy="163.1" r="3.2"/>
<circle cx="63.9" cy="181.3" r="3.2"/>
<circle cx="78.7" cy="167.9" r="3.2"/>
<circle cx="43.8" cy="166.2" r="3.2"/>
<circle cx="49.7" cy="156.1" r="3.2"/>
<circle cx="72.8" cy="185.3" r="3.2"/>
<circle cx="50.6" cy="153.9" r="3.2"/>
<circle cx="70.7" cy="163.0" r="3.2"/>
<circle cx="50.3" cy="192.8" r="3.2"/>
<circle cx="77.7" cy="156.7" r="3.2"/>
<circle cx="62.4" cy="196.2" r="3.2"/>
<circle cx="69.2" cy="173.5" r="3.2"/>
<circle cx="59.9" cy="186.9" r="3.2"/>
<circle cx="60.9" cy="164.3" r="3.2"/>
<circle cx="53.6" cy="182.1" r="3.2"/>
<circle cx="47.6" cy="181.1" r="3.2"/>
<circle cx="48.3" cy="196.2" r="3.2"/>
<circle cx="77.4" cy="162.3" r="3.2"/>
<circle cx="69.3" cy="195.2" r="3.2"/>
<circle cx="70.2" cy="190.3" r="3.2"/>
<circle cx="61.0" cy="189.4" r="3.2"/>
<circle cx="68.6" cy="155.4" r="3.2"/>
<circle cx="70.0" cy="190.0" r="3.2"/>
<circle cx="45.0" cy="154.0" r="3.2"/>
<circle cx="59.5" cy="185.2" r="3.2"/>
<circle cx="73.4" cy="192.7" r="3.2"/>
<circle cx="66.5" cy="172.3" r="3.2"/>
<circle cx="67.2" cy="182.3" r="3.2"/>
<circle cx="65.1" cy="168.7" r="3.2"/>
<circle cx="75.1" cy="155.1" r="3.2"/>
<circle cx="71.3" cy="184.9" r="3.2"/>
<circle cx="49.5" cy="173.0" r="3.2"/>
<circle cx="66.7" cy="172.5" r="3.2"/>
<circle cx="46.4" cy="176.9" r="3.2"/>
<circle cx="56.3" cy="152.2" r="3.2"/>
<circle cx="50.3" cy="163.1" r="3.2"/>
<circle cx="56.9" cy="162.1" r="3.2"/>
<circle cx="75.6" cy="183.6" r="3.2"/>
<circle cx="43.8" cy="182.8" r="3.2"/>
<circle cx="61.4" cy="191.5" r="3.2"/>
<circle cx="64.2" cy="185.3" r="3.2"/>
<circle cx="54.2" cy="168.1" r="3.2"/>
<circle cx="66.1" cy="155.2" r="3.2"/>
<circle cx="66.7" cy="154.5" r="3.2"/>
<circle cx="62.4" cy="193.5" r="3.2"/>
<circle cx="71.5" cy="179.6" r="3.2"/>
<circle cx="65.6" cy="195.7" r="3.2"/>
<circle cx="54.7" cy="197.0" r="3.2"/>
<circle cx="64.2" cy="152.7" r="3.2"/>
<circle cx="73.7" cy="181.1" r="3.2"/>
<circle cx="55.0" cy="179.9" r="3.2"/>
<circle cx="72.4" cy="152.2" r="3.2"/>
<circle cx="78.4" cy="180.4" r="3.2"/>
<circle cx="73.3" cy="179.0" r="3.2"/>
<circle cx="77.7" cy="187.1" r="3.2"/>
<circle cx="75.0" cy="173.0" r="3.2"/>
<circle cx="43.6" cy="170.1" r="3.2"/>
<circle cx="54.6" cy="166.8" r="3.2"/>
<circle cx="52.9" cy="197.2" r="3.2"/>
<circle cx="67.1" cy="164.5" r="3.2"/>
<circle cx="53.0" cy="156.4" r="3.2"/>
<circle cx="46.9" cy="170.0" r="3.2"/>
<circle cx="57.2" cy="179.2" r="3.2"/>
<circle cx="53.6" cy="188.5" r="3.2"/>
<circle cx="47.8" cy="196.5" r="3.2"/>
<circle cx="50.3" cy="176.2" r="3.2"/>
<circle cx="52.9" cy="152.6" r="3.2"/>
<circle cx="51.1" cy="192.7" r="3.2"/>
<circle cx="60.8" cy="174.2" r="3.2"/>
<circle cx="61.2" cy="164.1" r="3.2"/>
<circle cx="54.5" cy="155.0" r="3.2"/>
<circle cx="71.8" cy="164.9" r="3.2"/>
<circle cx="66.9" cy="187.0" r="3.2"/>
<circle cx="73.8" cy="179.1" r="3.2"/>
<circle cx="44.8" cy="185.7" r="3.2"/>
<circle cx="69.2" cy="157.9" r="3.2"/>
<circle cx="75.2" cy="190.2" r="3.2"/>
<circle cx="47.9" cy="187.3" r="3.2"/>
<circle cx="64.6" cy="177.8" r="3.2"/>
<circle cx="47.2" cy="179.5" r="3.2"/>
<circle cx="56.5" cy="196.1" r="3.2"/>
<circle cx="78.3" cy="164.2" r="3.2"/>
<circle cx="45.2" cy="169.5" r="3.2"/>
<circle cx="51.4" cy="182.4" r="3.2"/>
<circle cx="52.9" cy="161.9" r="3.2"/>
<circle cx="53.5" cy="179.6" r="3.2"/>
<circle cx="75.3" cy="182.2" r="3.2"/>
<circle cx="66.9" cy="197.1" r="3.2"/>
<circle cx="49.8" cy="193.9" r="3.2"/>
<circle cx="45.6" cy="189.5" r="3.2"/>
<circle cx="45.4" cy="178.5" r="3.2"/>
<circle cx="77.0" cy="156.5" r="3.2"/>
<circle cx="68.1" cy="157.8" r="3.2"/>
<circle cx="43.3" cy="176.0" r="3.2"/>
<circle cx="44.9" cy="188.1" r="3.2"/>
<circle cx="67.9" cy="192.3" r="3.2"/>
<circle cx="58.0" cy="174.6" r="3.2"/>
<circle cx="67.4" cy="153.3" r="3.2"/>
<circle cx="60.9" cy="153.8" r="3.2"/>
<circle cx="62.4" cy="194.1" r="3.2"/>
<circle cx="68.2" cy="157.3" r="3.2"/>
<circle cx="53.8" cy="183.9" r="3.2"/>
<circle cx="62.4" cy="187.1" r="3.2"/>
<circle cx="60.9" cy="170.8" r="3.2"/>
<circle cx="52.3" cy="164.5" r="3.2"/>
<circle cx="52.9" cy="192.4" r="3.2"/>
<circle cx="54.9" cy="187.1" r="3.2"/>
<circle cx="43.3" cy="160.7" r="3.2"/>
<circle cx="63.6" cy="195.8" r="3.2"/>
<circle cx="58.5" cy="196.7" r="3.2"/>
<circle cx="48.2" cy="154.8" r="3.2"/>
<circle cx="64.1" cy="154.2" r="3.2"/>
<circle cx="77.3" cy="180.3" r="3.2"/>
<circle cx="50.5" cy="165.5" r="3.2"/>
<circle cx="47.6" cy="162.1" r="3.2"/>
<circle cx="59.7" cy="153.3" r="3.2"/>
<circle cx="55.2" cy="171.1" r="3.2"/>
<circle cx="51.2" cy="195.3" r="3.2"/>
<circle cx="59.7" cy="189.6" r="3.2"/>
<circle cx="44.0" cy="156.7" r="3.2"/>
<circle cx="74.1" cy="179.7" r="3.2"/>
<circle cx="67.5" cy="154.3" r="3.2"/>
<circle cx="66.9" cy="162.6" r="3.2"/>
<circle cx="66.2" cy="189.9" r="3.2"/>
<circle cx="47.9" cy="163.1" r="3.2"/>
<circle cx="68.4" cy="196.0" r="3.2"/>
<circle cx="58.2" cy="194.0" r="3.2"/>
<circle cx="55.2" cy="154.3" r="3.2"/>
<circle cx="44.8" cy="193.4" r="3.2"/>
<circle cx="44.4" cy="165.4" r="3.2"/>
<circle cx="53.1" cy="192.1" r="3.2"/>
<circle cx="54.8" cy="155.7" r="3.2"/>
<circle cx="57.5" cy="161.3" r="3.2"/>
<circle cx="65.8" cy="180.0" r="3.2"/>
<circle cx="61.2" cy="156.4" r="3.2"/>
<circle cx="57.8" cy="154.6" r="3.2"/>
<circle cx="51.0" cy="188.8" r="3.2"/>
<circle cx="50.3" cy="189.4" r="3.2"/>
<circle cx="70.9" cy="169.9" r="3.2"/>
<circle cx="61.9" cy="152.2" r="3.2"/>
<circle cx="68.0" cy="176.4" r="3.2"/>
<circle cx="62.3" cy="195.1" r="3.2"/>
<circle cx="49.3" cy="162.2" r="3.2"/>
<circle cx="52.1" cy="173.9" r="3.2"/>
<circle cx="45.8" cy="177.2" r="3.2"/>
<circle cx="56.9" cy="183.6" r="3.2"/>
<circle cx="46.8" cy="154.3" r="3.2"/>
<circle cx="67.4" cy="194.6" r="3.2"/>
<circle cx="54.2" cy="192.1" r="3.2"/>
<circle cx="47.2" cy="196.8" r="3.2"/>
<circle cx="76.7" cy="185.0" r="3.2"/>
<circle cx="43.4" cy="161.5" r="3.2"/>
<circle cx="45.6" cy="157.8" r="3.2"/>
<circle cx="62.7" cy="188.6" r="3.2"/>
<circle cx="46.6" cy="173.7" r="3.2"/>
<circle cx="47.3" cy="181.2" r="3.2"/>
<circle cx="63.4" cy="158.1" r="3.2"/>
<circle cx="71.3" cy="181.3" r="3.2"/>
<circle cx="47.0" cy="189.6" r="3.2"/>
<circle cx="47.5" cy="165.8" r="3.2"/>
<circle cx="44.0" cy="174.3" r="3.2"/>
<circle cx="63.8" cy="191.5" r="3.2"/>
<circle cx="58.5" cy="188.8" r="3.2"/>
<circle cx="67.7" cy="193.5" r="3.2"/>
<circle cx="69.1" cy="189.7" r="3.2"/>
<circle cx="54.4" cy="161.8" r="3.2"/>
<circle cx="69.9" cy="154.6" r="3.2"/>
<circle cx="78.5" cy="173.5" r="3.2"/>
<circle cx="57.4" cy="165.2" r="3.2"/>
<circle cx="73.6" cy="191.4" r="3.2"/>
<circle cx="74.1" cy="186.4" r="3.2"/>
<circle cx="50.3" cy="194.0" r="3.2"/>
<circle cx="45.0" cy="180.1" r="3.2"/>
<circle cx="77.1" cy="182.8" r="3.2"/>
<circle cx="47.6" cy="175.0" r="3.2"/>
<circle cx="45.1" cy="177.9" r="3.2"/>
<circle cx="45.5" cy="173.0" r="3.2"/>
<circle cx="71.9" cy="171.0" r="3.2"/>
<circle cx="73.3" cy="185.6" r="3.2"/>
<circle cx="57.8" cy="172.8" r="3.2"/>
<circle cx="70.8" cy="154.5" r="3.2"/>
<circle cx="56.6" cy="177.9" r="3.2"/>
<circle cx="58.4" cy="158.6" r="3.2"/>
<circle cx="46.8" cy="154.9" r="3.2"/>
<circle cx="57.2" cy="155.6" r="3.2"/>
<circle cx="72.3" cy="158.2" r="3.2"/>
<circle cx="73.8" cy="179.8" r="3.2"/>
<circle cx="48.0" cy="177.2" r="3.2"/>
<circle cx="72.8" cy="164.6" r="3.2"/>
<circle cx="65.4" cy="178.6" r="3.2"/>
<circle cx="44.6" cy="180.8" r="3.2"/>
<circle cx="57.5" cy="161.1" r="3.2"/>
<circle cx="73.5" cy="190.4" r="3.2"/>
<circle cx="51.4" cy="178.9" r="3.2"/>
<circle cx="62.1" cy="154.1" r="3.2"/>
<circle cx="76.3" cy="170.6" r="3.2"/>
<circle cx="49.5" cy="161.4" r="3.2"/>
<circle cx="44.0" cy="152.7" r="3.2"/>
<circle cx="72.1" cy="188.7" r="3.2"/>
<circle cx="43.7" cy="159.0" r="3.2"/>
<circle cx="50.9" cy="178.2" r="3.2"/>
<circle cx="75.6" cy="180.0" r="3.2"/>
<circle cx="52.1" cy="186.0" r="3.2"/>
<circle cx="52.4" cy="179.6" r="3.2"/>
<circle cx="51.2" cy="186.6" r="3.2"/>
<circle cx="63.7" cy="191.6" r="3.2"/>
<circle cx="52.8" cy="192.6" r="3.2"/>
<circle cx="58.8" cy="195.4" r="3.2"/>
<circle cx="65.4" cy="163.7" r="3.2"/>
<circle cx="46.6" cy="166.1" r="3.2"/>
<circle cx="64.0" cy="153.8" r="3.2"/>
<circle cx="46.1" cy="163.0" r="3.2"/>
<circle cx="47.3" cy="187.3" r="3.2"/>
<circle cx="51.8" cy="186.3" r="3.2"/>
<circle cx="76.4" cy="168.5" r="3.2"/>
<circle cx="70.1" cy="189.7" r="3.2"/>
<circle cx="58.9" cy="196.6" r="3.2"/>
<circle cx="60.4" cy="194.6" r="3.2"/>
<circle cx="53.6" cy="178.5" r="3.2"/>
<circle cx="62.5" cy="169.3" r="3.2"/>
<circle cx="65.2" cy="163.2" r="3.2"/>
<circle cx="65.2" cy="191.3" r="3.2"/>
<circle cx="44.0" cy="162.2" r="3.2"/>
<circle cx="57.6" cy="168.7" r="3.2"/>
<circle cx="59.8" cy="190.5" r="3.2"/>
<circle cx="63.9" cy="175.6" r="3.2"/>
<circle cx="66.6" cy="177.2" r="3.2"/>
<circle cx="61.9" cy="177.4" r="3.2"/>
<circle cx="46.9" cy="162.7" r="3.2"/>
<circle cx="74.6" cy="172.0" r="3.2"/>
<circle cx="50.7" cy="195.1" r="3.2"/>
<circle cx="60.6" cy="178.1" r="3.2"/>
<circle cx="48.7" cy="172.7" r="3.2"/>
<circle cx="45.6" cy="187.9" r="3.2"/>
<circle cx="52.1" cy="162.4" r="3.2"/>
<circle cx="49.2" cy="161.2" r="3.2"/>
<circle cx="60.8" cy="155.6" r="3.2"/>
<circle cx="65.2" cy="159.8" r="3.2"/>
<circle cx="64.6" cy="179.3" r="3.2"/>
<circle cx="64.1" cy="173.9" r="3.2"/>
<circle cx="58.6" cy="165.5" r="3.2"/>
<circle cx="49.9" cy="183.3" r="3.2"/>
<circle cx="63.1" cy="185.4" r="3.2"/>
<circle cx="59.4" cy="196.3" r="3.2"/>
<circle cx="70.0" cy="177.0" r="3.2"/>
<circle cx="55.3" cy="165.1" r="3.2"/>
<circle cx="68.7" cy="171.7" r="3.2"/>
<circle cx="48.9" cy="184.7" r="3.2"/>
<circle cx="70.9" cy="195.4" r="3.2"/>
<circle cx="78.8" cy="174.5" r="3.2"/>
<circle cx="55.8" cy="180.3" r="3.2"/>
<circle cx="43.7" cy="156.0" r="3.2"/>
<circle cx="68.1" cy="178.9" r="3.2"/>
<circle cx="70.6" cy="180.0" r="3.2"/>
<circle cx="69.0" cy="171.8" r="3.2"/>
<circle cx="64.9" cy="179.5" r="3.2"/>
<circle cx="66.2" cy="177.0" r="3.2"/>
<circle cx="45.8" cy="177.5" r="3.2"/>
<circle cx="67.6" cy="182.7" r="3.2"/>
<circle cx="77.8" cy="171.5" r="3.2"/>
<circle cx="48.3" cy="173.9" r="3.2"/>
<circle cx="54.8" cy="175.3" r="3.2"/>
<circle cx="74.6" cy="159.5" r="3.2"/>
<circle cx="67.9" cy="160.1" r="3.2"/>
<circle cx="60.6" cy="159.7" r="3.2"/>
<circle cx="45.2" cy="197.4" r="3.2"/>
<circle cx="43.4" cy="191.1" r="3.2"/>
<circle cx="67.9" cy="196.5" r="3.2"/>
<circle cx="65.1" cy="172.4" r="3.2"/>
<circle cx="48.2" cy="172.9" r="3.2"/>
<circle cx="57.8" cy="168.2" r="3.2"/>
<circle cx="46.2" cy="191.6" r="3.2"/>
<circle cx="58.9" cy="176.5" r="3.2"/>
<circle cx="70.9" cy="177.2" r="3.2"/>
<circle cx="53.6" cy="179.3" r="3.2"/>
<circle cx="59.3" cy="195.4" r="3.2"/>
<circle cx="61.7" cy="164.3" r="3.2"/>
<circle cx="44.4" cy="191.5" r="3.2"/>
<circle cx="59.5" cy="181.5" r="3.2"/>
<circle cx="48.0" cy="165.1" r="3.2"/>
<circle cx="57.7" cy="162.5" r="3.2"/>
<circle cx="63.7" cy="171.2" r="3.2"/>
<circle cx="64.4" cy="164.3" r="3.2"/>
<circle cx="71.1" cy="173.5" r="3.2"/>
<circle cx="50.2" cy="188.6" r="3.2"/>
<circle cx="57.4" cy="196.4" r="3.2"/>
<circle cx="51.2" cy="167.2" r="3.2"/>
<circle cx="57.7" cy="184.4" r="3.2"/>
<circle cx="51.3" cy="183.1" r="3.2"/>
<circle cx="50.6" cy="191.1" r="3.2"/>
<circle cx="55.9" cy="191.6" r="3.2"/>
<circle cx="62.8" cy="170.2" r="3.2"/>
<circle cx="61.7" cy="175.8" r="3.2"/>
<circle cx="77.0" cy="177.5" r="3.2"/>
<circle cx="45.9" cy="185.8" r="3.2"/>
<circle cx="43.6" cy="196.9" r="3.2"/>
<circle cx="71.9" cy="154.4" r="3.2"/>
<circle cx="44.0" cy="164.5" r="3.2"/>
<circle cx="59.8" cy="160.0" r="3.2"/>
<circle cx="43.7" cy="190.4" r="3.2"/>
<circle cx="43.6" cy="159.5" r="3.2"/>
<circle cx="53.3" cy="154.4" r="3.2"/>
<circle cx="77.8" cy="174.3" r="3.2"/>
<circle cx="73.3" cy="181.5" r="3.2"/>
<circle cx="75.5" cy="178.9" r="3.2"/>
<circle cx="50.7" cy="182.6" r="3.2"/>
<circle cx="59.2" cy="168.9" r="3.2"/>
<circle cx="76.0" cy="157.0" r="3.2"/>
<circle cx="49.4" cy="174.0" r="3.2"/>
<circle cx="71.4" cy="174.4" r="3.2"/>
<circle cx="63.2" cy="164.4" r="3.2"/>
<circle cx="50.8" cy="156.2" r="3.2"/>
<circle cx="60.2" cy="160.5" r="3.2"/>
<circle cx="50.3" cy="183.3" r="3.2"/>
<circle cx="63.1" cy="183.3" r="3.2"/>
<circle cx="78.7" cy="186.2" r="3.2"/>
<circle cx="78.9" cy="167.2" r="3.2"/>
<circle cx="60.3" cy="172.7" r="3.2"/>
<circle cx="45.7" cy="160.1" r="3.2"/>
<circle cx="46.2" cy="181.4" r="3.2"/>
<circle cx="45.6" cy="153.6" r="3.2"/>
<circle cx="49.2" cy="176.7" r="3.2"/>
<circle cx="70.0" cy="164.0" r="3.2"/>
<circle cx="47.6" cy="172.3" r="3.2"/>
<circle cx="78.8" cy="182.9" r="3.2"/>
<circle cx="58.0" cy="180.3" r="3.2"/>
<circle cx="67.5" cy="176.5" r="3.2"/>
<circle cx="68.1" cy="190.1" r="3.2"/>
<circle cx="70.5" cy="163.3" r="3.2"/>
<circle cx="47.0" cy="156.7" r="3.2"/>
<circle cx="48.9" cy="175.1" r="3.2"/>
<circle cx="52.2" cy="177.5" r="3.2"/>
<circle cx="54.7" cy="194.9" r="3.2"/>
<circle cx="74.5" cy="189.1" r="3.2"/>
<circle cx="70.0" cy="172.6" r="3.2"/>
<circle cx="56.3" cy="174.4" r="3.2"/>
<circle cx="65.8" cy="157.7" r="3.2"/>
<circle cx="62.7" cy="193.9" r="3.2"/>
<circle cx="60.9" cy="166.4" r="3.2"/>
<circle cx="56.0" cy="168.2" r="3.2"/>
<circle cx="43.4" cy="187.2" r="3.2"/>
<circle cx="60.4" cy="173.9" r="3.2"/>
<circle cx="68.6" cy="158.7" r="3.2"/>
<circle cx="56.5" cy="163.5" r="3.2"/>
<circle cx="63.6" cy="163.3" r="3.2"/>
<circle cx="66.8" cy="171.6" r="3.2"/>
<circle cx="70.6" cy="171.3" r="3.2"/>
<circle cx="46.3" cy="177.1" r="3.2"/>
<circle cx="51.2" cy="174.4" r="3.2"/>
<circle cx="77.0" cy="165.6" r="3.2"/>
<circle cx="68.9" cy="173.8" r="3.2"/>
<circle cx="64.8" cy="159.1" r="3.2"/>
<circle cx="50.1" cy="157.4" r="3.2"/>
<circle cx="43.9" cy="157.8" r="3.2"/>
<circle cx="72.0" cy="193.3" r="3.2"/>
<circle cx="43.6" cy="168.7" r="3.2"/>
<circle cx="66.0" cy="185.4" r="3.2"/>
<circle cx="70.0" cy="154.1" r="3.2"/>
<circle cx="50.5" cy="155.1" r="3.2"/>
<circle cx="69.1" cy="187.4" r="3.2"/>
<circle cx="60.3" cy="162.7" r="3.2"/>
<circle cx="62.7" cy="188.4" r="3.2"/>
<circle cx="48.9" cy="175.9" r="3.2"/>
<circle cx="49.0" cy="155.1" r="3.2"/>
<circle cx="63.5" cy="175.9" r="3.2"/>
<circle cx="65.0" cy="172.9" r="3.2"/>
<circle cx="65.4" cy="177.7" r="3.2"/>
<circle cx="72.8" cy="170.7" r="3.2"/>
<circle cx="74.3" cy="176.2" r="3.2"/>
<circle cx="65.2" cy="196.9" r="3.2"/>
<circle cx="66.4" cy="187.1" r="3.2"/>
<circle cx="51.0" cy="177.1" r="3.2"/>
<circle cx="65.9" cy="156.7" r="3.2"/>
<circle cx="64.1" cy="163.3" r="3.2"/>
<circle cx="63.9" cy="177.0" r="3.2"/>
<circle cx="50.7" cy="171.5" r="3.2"/>
<circle cx="67.3" cy="165.8" r="3.2"/>
<circle cx="52.0" cy="192.3" r="3.2"/>
<circle cx="58.1" cy="166.3" r="3.2"/>
<circle cx="64.9" cy="171.5" r="3.2"/>
<circle cx="69.8" cy="186.4" r="3.2"/>
<circle cx="66.8" cy="188.8" r="3.2"/>
<circle cx="54.7" cy="196.2" r="3.2"/>
<circle cx="65.6" cy="172.3" r="3.2"/>
<circle cx="72.4" cy="166.3" r="3.2"/>
<circle cx="62.1" cy="171.0" r="3.2"/>
<circle cx="55.1" cy="175.6" r="3.2"/>
<circle cx="52.0" cy="152.5" r="3.2"/>
<circle cx="77.1" cy="173.7" r="3.2"/>
<circle cx="75.2" cy="158.2" r="3.2"/>
<circle cx="64.5" cy="196.3" r="3.2"/>
<circle cx="43.8" cy="164.7" r="3.2"/>
<circle cx="44.9" cy="192.1" r="3.2"/>
<circle cx="76.6" cy="165.6" r="3.2"/>
<circle cx="72.1" cy="182.7" r="3.2"/>
<circle cx="48.2" cy="189.9" r="3.2"/>
<circle cx="46.0" cy="175.0" r="3.2"/>
<circle cx="59.8" cy="169.2" r="3.2"/>
<circle cx="51.8" cy="189.2" r="3.2"/>
<circle cx="47.4" cy="182.3" r="3.2"/>
<circle cx="44.9" cy="163.7" r="3.2"/>
<circle cx="63.1" cy="178.4" r="3.2"/>
<circle cx="57.0" cy="184.4" r="3.2"/>
<circle cx="63.4" cy="194.6" r="3.2"/>
<circle cx="74.1" cy="177.9" r="3.2"/>
<circle cx="52.5" cy="160.2" r="3.2"/>
<circle cx="63.6" cy="177.1" r="3.2"/>
<circle cx="61.7" cy="195.5" r="3.2"/>
<circle cx="76.8" cy="154.1" r="3.2"/>
<circle cx="49.6" cy="173.3" r="3.2"/>
<circle cx="64.4" cy="186.7" r="3.2"/>
<circle cx="59.8" cy="190.9" r="3.2"/>
<circle cx="58.9" cy="163.6" r="3.2"/>
<circle cx="54.6" cy="173.2" r="3.2"/>
<circle cx="47.7" cy="178.4" r="3.2"/>
<circle cx="46.7" cy="163.5" r="3.2"/>
<circle cx="60.9" cy="153.2" r="3.2"/>
<circle cx="56.4" cy="185.6" r="3.2"/>
<circle cx="60.7" cy="193.0" r="3.2"/>
<circle cx="52.3" cy="182.0" r="3.2"/>
<circle cx="52.7" cy="192.9" r="3.2"/>
<circle cx="50.1" cy="190.5" r="3.2"/>
<circle cx="61.9" cy="195.3" r="3.2"/>
<circle cx="68.6" cy="160.1" r="3.2"/>
<circle cx="55.8" cy="159.1" r="3.2"/>
<circle cx="54.0" cy="169.2" r="3.2"/>
<circle cx="48.1" cy="168.5" r="3.2"/>
<circle cx="45.9" cy="170.2" r="3.2"/>
<circle cx="54.1" cy="188.2" r="3.2"/>
<circle cx="57.3" cy="184.4" r="3.2"/>
<circle cx="67.1" cy="196.3" r="3.2"/>
<circle cx="72.8" cy="184.1" r="3.2"/>
<circle cx="70.7" cy="193.6" r="3.2"/>
<circle cx="63.4" cy="170.8" r="3.2"/>
<circle cx="55.1" cy="155.1" r="3.2"/>
<circle cx="64.5" cy="166.9" r="3.2"/>
<circle cx="69.5" cy="152.3" r="3.2"/>
<circle cx="57.1" cy="155.4" r="3.2"/>
<circle cx="72.8" cy="174.1" r="3.2"/>
<circle cx="47.7" cy="180.8" r="3.2"/>
<circle cx="50.6" cy="182.3" r="3.2"/>
<circle cx="56.8" cy="180.1" r="3.2"/>
<circle cx="54.9" cy="195.5" r="3.2"/>
<circle cx="53.1" cy="164.4" r="3.2"/>
<circle cx="52.1" cy="195.6" r="3.2"/>
<circle cx="61.2" cy="163.0" r="3.2"/>
<circle cx="76.7" cy="182.5" r="3.2"/>
<circle cx="53.8" cy="155.6" r="3.2"/>
<circle cx="59.8" cy="184.9" r="3.2"/>
<circle cx="66.4" cy="183.4" r="3.2"/>
<circle cx="44.6" cy="156.2" r="3.2"/>
<circle cx="52.9" cy="160.1" r="3.2"/>
<circle cx="52.3" cy="160.3" r="3.2"/>
<circle cx="43.9" cy="157.2" r="3.2"/>
<circle cx="69.6" cy="175.9" r="3.2"/>
<circle cx="46.0" cy="159.3" r="3.2"/>
<circle cx="45.5" cy="185.1" r="3.2"/>
<circle cx="59.6" cy="158.4" r="3.2"/>
<circle cx="70.7" cy="165.5" r="3.2"/>
<circle cx="60.8" cy="175.0" r="3.2"/>
<circle cx="44.0" cy="169.0" r="3.2"/>
<circle cx="55.0" cy="189.3" r="3.2"/>
<circle cx="46.1" cy="189.6" r="3.2"/>
<circle cx="61.4" cy="171.7" r="3.2"/>
<circle cx="45.3" cy="159.0" r="3.2"/>
<circle cx="70.2" cy="194.6" r="3.2"/>
<circle cx="56.9" cy="197.5" r="3.2"/>
<circle cx="63.7" cy="185.3" r="3.2"/>
<circle cx="48.4" cy="173.7" r="3.2"/>
<circle cx="57.9" cy="181.2" r="3.2"/>
<circle cx="44.4" cy="182.9" r="3.2"/>
<circle cx="46.5" cy="165.4" r="3.2"/>
<circle cx="58.9" cy="186.7" r="3.2"/>
<circle cx="70.5" cy="165.0" r="3.2"/>
<circle cx="52.5" cy="175.7" r="3.2"/>
<circle cx="43.3" cy="169.9" r="3.2"/>
<circle cx="44.2" cy="154.8" r="3.2"/>
<circle cx="67.5" cy="195.8" r="3.2"/>
<circle cx="76.7" cy="176.8" r="3.2"/>
<circle cx="66.7" cy="176.5" r="3.2"/>
<circle cx="57.6" cy="156.8" r="3.2"/>
<circle cx="56.7" cy="179.8" r="3.2"/>
<circle cx="54.3" cy="181.7" r="3.2"/>
<circle cx="49.6" cy="181.8" r="3.2"/>
<circle cx="57.3" cy="174.3" r="3.2"/>
<circle cx="44.8" cy="175.9" r="3.2"/>
<circle cx="68.0" cy="163.0" r="3.2"/>
<circle cx="59.1" cy="159.6" r="3.2"/>
<circle cx="58.8" cy="197.2" r="3.2"/>
<circle cx="70.1" cy="185.4" r="3.2"/>
<circle cx="53.0" cy="196.1" r="3.2"/>
<circle cx="69.5" cy="170.0" r="3.2"/>
<circle cx="58.8" cy="153.2" r="3.2"/>
<circle cx="62.0" cy="164.4" r="3.2"/>
<circle cx="73.6" cy="185.3" r="3.2"/>
<circle cx="67.1" cy="175.1" r="3.2"/>
<circle cx="65.9" cy="155.6" r="3.2"/>
<circle cx="60.3" cy="194.3" r="3.2"/>
<circle cx="60.4" cy="174.3" r="3.2"/>
<circle cx="48.7" cy="170.7" r="3.2"/>
<circle cx="71.0" cy="161.0" r="3.2"/>
<circle cx="44.3" cy="175.5" r="3.2"/>
<circle cx="72.4" cy="180.0" r="3.2"/>
<circle cx="48.7" cy="181.6" r="3.2"/>
<circle cx="47.6" cy="195.3" r="3.2"/>
<circle cx="58.5" cy="175.1" r="3.2"/>
<circle cx="51.6" cy="159.5" r="3.2"/>
<circle cx="48.3" cy="160.5" r="3.2"/>
<circle cx="65.4" cy="153.9" r="3.2"/>
<circle cx="51.1" cy="182.3" r="3.2"/>
<circle cx="54.3" cy="195.3" r="3.2"/>
<circle cx="76.2" cy="172.8" r="3.2"/>
<circle cx="58.7" cy="181.5" r="3.2"/>
<circle cx="68.9" cy="186.0" r="3.2"/>
<circle cx="45.2" cy="166.0" r="3.2"/>
<circle cx="69.2" cy="185.3" r="3.2"/>
<circle cx="46.7" cy="179.3" r="3.2"/>
<circle cx="48.6" cy="185.9" r="3.2"/>
<circle cx="63.4" cy="188.3" r="3.2"/>
<circle cx="45.4" cy="181.0" r="3.2"/>
<circle cx="68.7" cy="168.6" r="3.2"/>
<circle cx="44.3" cy="157.1" r="3.2"/>
<circle cx="73.3" cy="170.8" r="3.2"/>
<circle cx="50.4" cy="180.7" r="3.2"/>
<circle cx="72.6" cy="155.7" r="3.2"/>
<circle cx="65.1" cy="190.3" r="3.2"/>
<circle cx="69.3" cy="161.4" r="3.2"/>
<circle cx="48.5" cy="152.4" r="3.2"/>
<circle cx="77.3" cy="166.6" r="3.2"/>
<circle cx="48.1" cy="153.6" r="3.2"/>
<circle cx="69.8" cy="185.4" r="3.2"/>
<circle cx="45.4" cy="164.2" r="3.2"/>
<circle cx="74.1" cy="190.9" r="3.2"/>
<circle cx="59.2" cy="193.3" r="3.2"/>
<circle cx="68.9" cy="155.9" r="3.2"/>
<circle cx="72.4" cy="181.5" r="3.2"/>
<circle cx="59.8" cy="186.6" r="3.2"/>
<circle cx="55.0" cy="196.4" r="3.2"/>
<circle cx="65.0" cy="172.3" r="3.2"/>
<circle cx="62.4" cy="187.9" r="3.2"/>
<circle cx="50.1" cy="194.8" r="3.2"/>
<circle cx="69.5" cy="192.8" r="3.2"/>
<circle cx="44.0" cy="167.8" r="3.2"/>
<circle cx="64.4" cy="179.4" r="3.2"/>
<circle cx="58.0" cy="195.7" r="3.2"/>
<circle cx="69.7" cy="184.9" r="3.2"/>
<circle cx="66.2" cy="159.7" r="3.2"/>
<circle cx="49.9" cy="171.9" r="3.2"/>
<circle cx="55.0" cy="164.5" r="3.2"/>
<circle cx="61.9" cy="185.4" r="3.2"/>
<circle cx="44.8" cy="166.6" r="3.2"/>
<circle cx="68.4" cy="187.8" r="3.2"/>
<circle cx="68.2" cy="190.1" r="3.2"/>
<circle cx="52.1" cy="154.9" r="3.2"/>
<circle cx="52.7" cy="173.1" r="3.2"/>
<circle cx="49.0" cy="189.5" r="3.2"/>
<circle cx="58.2" cy="152.7" r="3.2"/>
<circle cx="44.0" cy="154.3" r="3.2"/>
<circle cx="63.8" cy="179.6" r="3.2"/>
<circle cx="45.2" cy="176.7" r="3.2"/>
<circle cx="60.8" cy="177.5" r="3.2"/>
<circle cx="50.2" cy="165.9" r="3.2"/>
<circle cx="84.4" cy="159.0" r="3.2"/>
<circle cx="86.2" cy="168.5" r="3.2"/>
<circle cx="81.3" cy="182.3" r="3.2"/>
<circle cx="81.1" cy="179.3" r="3.2"/>
<circle cx="80.5" cy="185.6" r="3.2"/>
<circle cx="89.1" cy="178.7" r="3.2"/>
<circle cx="83.6" cy="188.0" r="3.2"/>
<circle cx="89.0" cy="193.0" r="3.2"/>
<circle cx="81.1" cy="187.7" r="3.2"/>
<circle cx="86.9" cy="164.0" r="3.2"/>
<circle cx="80.2" cy="157.8" r="3.2"/>
<circle cx="87.4" cy="156.3" r="3.2"/>
<circle cx="93.2" cy="169.4" r="3.2"/>
<circle cx="83.4" cy="188.3" r="3.2"/>
<circle cx="81.9" cy="167.3" r="3.2"/>
<circle cx="79.6" cy="154.4" r="3.2"/>
<circle cx="77.4" cy="191.2" r="3.2"/>
<circle cx="94.5" cy="152.4" r="3.2"/>
<circle cx="89.9" cy="169.1" r="3.2"/>
<circle cx="94.2" cy="172.4" r="3.2"/>
<circle cx="84.2" cy="155.6" r="3.2"/>
<circle cx="79.1" cy="181.1" r="3.2"/>
<circle cx="76.3" cy="193.3" r="3.2"/>
<circle cx="79.4" cy="182.5" r="3.2"/>
<circle cx="79.4" cy="155.5" r="3.2"/>
<circle cx="92.4" cy="187.5" r="3.2"/>
<circle cx="79.4" cy="193.2" r="3.2"/>
<circle cx="90.0" cy="156.1" r="3.2"/>
<circle cx="90.1" cy="174.8" r="3.2"/>
<circle cx="85.8" cy="180.5" r="3.2"/>
<circle cx="79.9" cy="159.7" r="3.2"/>
<circle cx="83.5" cy="155.7" r="3.2"/>
<circle cx="93.9" cy="165.0" r="3.2"/>
<circle cx="89.6" cy="154.2" r="3.2"/>
<circle cx="79.5" cy="157.4" r="3.2"/>
<circle cx="74.6" cy="193.5" r="3.2"/>
<circle cx="86.2" cy="178.8" r="3.2"/>
<circle cx="82.3" cy="170.0" r="3.2"/>
<circle cx="88.3" cy="158.3" r="3.2"/>
<circle cx="86.5" cy="168.7" r="3.2"/>
<circle cx="77.1" cy="188.8" r="3.2"/>
<circle cx="82.4" cy="171.1" r="3.2"/>
<circle cx="80.5" cy="193.9" r="3.2"/>
<circle cx="84.0" cy="160.9" r="3.2"/>
<circle cx="84.9" cy="152.7" r="3.2"/>
<circle cx="102.7" cy="163.3" r="3.2"/>
<circle cx="110.7" cy="151.3" r="3.2"/>
<circle cx="98.7" cy="174.7" r="3.2"/>
<circle cx="93.3" cy="176.0" r="3.2"/>
<circle cx="97.3" cy="170.0" r="3.2"/>
<circle cx="76.0" cy="187.3" r="3.2"/>
<circle cx="85.3" cy="185.3" r="3.2"/>
<circle cx="253.0" cy="27.4" r="3.2"/>
</g>
<g class="pts">
<circle cx="373.5" cy="196.8" r="3.2"/>
<circle cx="356.5" cy="196.4" r="3.2"/>
<circle cx="366.8" cy="196.3" r="3.2"/>
<circle cx="357.4" cy="196.6" r="3.2"/>
<circle cx="358.7" cy="196.4" r="3.2"/>
<circle cx="364.0" cy="196.5" r="3.2"/>
<circle cx="355.3" cy="196.7" r="3.2"/>
<circle cx="363.3" cy="196.6" r="3.2"/>
<circle cx="365.2" cy="196.5" r="3.2"/>
<circle cx="356.0" cy="196.4" r="3.2"/>
<circle cx="370.6" cy="196.3" r="3.2"/>
<circle cx="367.3" cy="196.4" r="3.2"/>
<circle cx="374.4" cy="196.3" r="3.2"/>
<circle cx="362.2" cy="196.7" r="3.2"/>
<circle cx="366.4" cy="196.4" r="3.2"/>
<circle cx="356.5" cy="196.4" r="3.2"/>
<circle cx="364.4" cy="196.5" r="3.2"/>
<circle cx="363.8" cy="196.3" r="3.2"/>
<circle cx="367.8" cy="196.5" r="3.2"/>
<circle cx="361.3" cy="196.6" r="3.2"/>
<circle cx="371.3" cy="196.5" r="3.2"/>
<circle cx="356.8" cy="196.6" r="3.2"/>
<circle cx="355.6" cy="196.5" r="3.2"/>
<circle cx="371.4" cy="196.7" r="3.2"/>
<circle cx="361.5" cy="196.4" r="3.2"/>
<circle cx="361.0" cy="196.6" r="3.2"/>
<circle cx="370.5" cy="196.4" r="3.2"/>
<circle cx="357.0" cy="196.5" r="3.2"/>
<circle cx="370.6" cy="196.4" r="3.2"/>
<circle cx="359.6" cy="196.2" r="3.2"/>
<circle cx="365.8" cy="196.7" r="3.2"/>
<circle cx="373.9" cy="196.4" r="3.2"/>
<circle cx="358.2" cy="196.6" r="3.2"/>
<circle cx="363.2" cy="196.5" r="3.2"/>
<circle cx="355.3" cy="196.6" r="3.2"/>
<circle cx="374.5" cy="196.3" r="3.2"/>
<circle cx="371.1" cy="196.7" r="3.2"/>
<circle cx="374.8" cy="196.4" r="3.2"/>
<circle cx="369.9" cy="196.3" r="3.2"/>
<circle cx="362.4" cy="196.8" r="3.2"/>
<circle cx="358.7" cy="196.6" r="3.2"/>
<circle cx="358.8" cy="196.6" r="3.2"/>
<circle cx="373.7" cy="196.6" r="3.2"/>
<circle cx="356.9" cy="196.5" r="3.2"/>
<circle cx="365.5" cy="196.6" r="3.2"/>
<circle cx="371.2" cy="196.7" r="3.2"/>
<circle cx="359.9" cy="196.2" r="3.2"/>
<circle cx="363.8" cy="196.7" r="3.2"/>
<circle cx="361.7" cy="196.7" r="3.2"/>
<circle cx="372.9" cy="196.3" r="3.2"/>
<circle cx="368.7" cy="196.3" r="3.2"/>
<circle cx="371.6" cy="196.6" r="3.2"/>
<circle cx="367.7" cy="196.5" r="3.2"/>
<circle cx="363.1" cy="196.6" r="3.2"/>
<circle cx="370.4" cy="196.3" r="3.2"/>
<circle cx="371.5" cy="196.4" r="3.2"/>
<circle cx="357.0" cy="196.4" r="3.2"/>
<circle cx="366.1" cy="196.4" r="3.2"/>
<circle cx="371.7" cy="196.5" r="3.2"/>
<circle cx="356.4" cy="196.9" r="3.2"/>
<circle cx="366.2" cy="196.4" r="3.2"/>
<circle cx="366.1" cy="196.5" r="3.2"/>
<circle cx="364.3" cy="196.3" r="3.2"/>
<circle cx="354.9" cy="196.6" r="3.2"/>
<circle cx="362.4" cy="196.5" r="3.2"/>
<circle cx="372.3" cy="196.4" r="3.2"/>
<circle cx="358.9" cy="196.5" r="3.2"/>
<circle cx="363.9" cy="196.4" r="3.2"/>
<circle cx="363.3" cy="196.7" r="3.2"/>
<circle cx="364.5" cy="196.6" r="3.2"/>
<circle cx="368.7" cy="196.3" r="3.2"/>
<circle cx="365.4" cy="196.5" r="3.2"/>
<circle cx="360.8" cy="196.6" r="3.2"/>
<circle cx="372.5" cy="196.5" r="3.2"/>
<circle cx="372.2" cy="196.2" r="3.2"/>
<circle cx="368.4" cy="196.5" r="3.2"/>
<circle cx="367.0" cy="196.5" r="3.2"/>
<circle cx="361.9" cy="196.6" r="3.2"/>
<circle cx="360.9" cy="196.6" r="3.2"/>
<circle cx="362.6" cy="196.5" r="3.2"/>
<circle cx="377.7" cy="196.6" r="3.2"/>
<circle cx="379.0" cy="196.3" r="3.2"/>
<circle cx="376.5" cy="196.5" r="3.2"/>
<circle cx="376.2" cy="196.6" r="3.2"/>
<circle cx="376.5" cy="196.6" r="3.2"/>
<circle cx="375.6" cy="196.4" r="3.2"/>
<circle cx="378.1" cy="196.6" r="3.2"/>
<circle cx="377.9" cy="196.6" r="3.2"/>
<circle cx="384.8" cy="196.5" r="3.2"/>
<circle cx="376.4" cy="196.8" r="3.2"/>
<circle cx="379.6" cy="190.6" r="3.2"/>
<circle cx="375.1" cy="190.5" r="3.2"/>
<circle cx="361.7" cy="190.5" r="3.2"/>
<circle cx="375.9" cy="190.6" r="3.2"/>
<circle cx="357.1" cy="190.6" r="3.2"/>
<circle cx="371.9" cy="190.4" r="3.2"/>
<circle cx="362.2" cy="190.9" r="3.2"/>
<circle cx="371.3" cy="190.7" r="3.2"/>
<circle cx="359.1" cy="190.9" r="3.2"/>
<circle cx="359.4" cy="190.5" r="3.2"/>
<circle cx="355.3" cy="190.5" r="3.2"/>
<circle cx="373.2" cy="190.5" r="3.2"/>
<circle cx="366.6" cy="190.5" r="3.2"/>
<circle cx="374.2" cy="190.4" r="3.2"/>
<circle cx="375.5" cy="190.4" r="3.2"/>
<circle cx="363.0" cy="190.5" r="3.2"/>
<circle cx="358.2" cy="190.8" r="3.2"/>
<circle cx="360.0" cy="190.7" r="3.2"/>
<circle cx="365.5" cy="190.5" r="3.2"/>
<circle cx="368.2" cy="190.8" r="3.2"/>
<circle cx="376.4" cy="190.4" r="3.2"/>
<circle cx="371.2" cy="190.6" r="3.2"/>
<circle cx="373.6" cy="190.7" r="3.2"/>
<circle cx="377.1" cy="190.5" r="3.2"/>
<circle cx="379.5" cy="190.7" r="3.2"/>
<circle cx="364.4" cy="190.6" r="3.2"/>
<circle cx="374.3" cy="190.6" r="3.2"/>
<circle cx="364.8" cy="190.5" r="3.2"/>
<circle cx="373.0" cy="190.6" r="3.2"/>
<circle cx="360.1" cy="190.4" r="3.2"/>
<circle cx="365.1" cy="190.7" r="3.2"/>
<circle cx="365.6" cy="190.6" r="3.2"/>
<circle cx="375.5" cy="190.4" r="3.2"/>
<circle cx="361.0" cy="190.5" r="3.2"/>
<circle cx="362.7" cy="190.5" r="3.2"/>
<circle cx="359.2" cy="190.4" r="3.2"/>
<circle cx="375.5" cy="190.2" r="3.2"/>
<circle cx="368.3" cy="190.4" r="3.2"/>
<circle cx="370.5" cy="190.4" r="3.2"/>
<circle cx="378.0" cy="190.7" r="3.2"/>
<circle cx="379.5" cy="190.5" r="3.2"/>
<circle cx="356.4" cy="190.4" r="3.2"/>
<circle cx="376.0" cy="190.5" r="3.2"/>
<circle cx="356.2" cy="190.7" r="3.2"/>
<circle cx="355.7" cy="190.3" r="3.2"/>
<circle cx="373.5" cy="190.8" r="3.2"/>
<circle cx="372.7" cy="190.5" r="3.2"/>
<circle cx="359.1" cy="190.5" r="3.2"/>
<circle cx="370.0" cy="190.8" r="3.2"/>
<circle cx="367.8" cy="190.7" r="3.2"/>
<circle cx="368.5" cy="190.6" r="3.2"/>
<circle cx="366.7" cy="190.6" r="3.2"/>
<circle cx="358.5" cy="190.5" r="3.2"/>
<circle cx="370.4" cy="190.5" r="3.2"/>
<circle cx="373.7" cy="190.4" r="3.2"/>
<circle cx="359.8" cy="190.5" r="3.2"/>
<circle cx="363.5" cy="190.7" r="3.2"/>
<circle cx="362.0" cy="190.6" r="3.2"/>
<circle cx="367.2" cy="190.3" r="3.2"/>
<circle cx="362.2" cy="190.5" r="3.2"/>
<circle cx="379.1" cy="190.8" r="3.2"/>
<circle cx="369.2" cy="190.6" r="3.2"/>
<circle cx="377.5" cy="190.7" r="3.2"/>
<circle cx="378.7" cy="190.8" r="3.2"/>
<circle cx="371.6" cy="190.8" r="3.2"/>
<circle cx="379.2" cy="190.8" r="3.2"/>
<circle cx="357.6" cy="190.6" r="3.2"/>
<circle cx="356.8" cy="190.5" r="3.2"/>
<circle cx="374.8" cy="190.5" r="3.2"/>
<circle cx="370.7" cy="190.2" r="3.2"/>
<circle cx="367.7" cy="190.6" r="3.2"/>
<circle cx="379.8" cy="190.8" r="3.2"/>
<circle cx="371.1" cy="190.7" r="3.2"/>
<circle cx="373.3" cy="190.5" r="3.2"/>
<circle cx="373.2" cy="190.8" r="3.2"/>
<circle cx="359.2" cy="190.7" r="3.2"/>
<circle cx="360.3" cy="190.8" r="3.2"/>
<circle cx="358.4" cy="190.7" r="3.2"/>
<circle cx="379.4" cy="190.9" r="3.2"/>
<circle cx="373.9" cy="190.6" r="3.2"/>
<circle cx="369.1" cy="190.3" r="3.2"/>
<circle cx="370.8" cy="190.5" r="3.2"/>
<circle cx="358.3" cy="190.6" r="3.2"/>
<circle cx="369.5" cy="190.4" r="3.2"/>
<circle cx="367.7" cy="190.7" r="3.2"/>
<circle cx="376.3" cy="190.5" r="3.2"/>
<circle cx="356.9" cy="190.5" r="3.2"/>
<circle cx="370.2" cy="190.8" r="3.2"/>
<circle cx="375.8" cy="190.7" r="3.2"/>
<circle cx="374.8" cy="190.8" r="3.2"/>
<circle cx="358.4" cy="190.7" r="3.2"/>
<circle cx="379.4" cy="190.7" r="3.2"/>
<circle cx="370.3" cy="190.4" r="3.2"/>
<circle cx="375.2" cy="190.7" r="3.2"/>
<circle cx="368.0" cy="190.4" r="3.2"/>
<circle cx="378.3" cy="190.5" r="3.2"/>
<circle cx="375.0" cy="190.6" r="3.2"/>
<circle cx="369.9" cy="190.5" r="3.2"/>
<circle cx="375.5" cy="190.5" r="3.2"/>
<circle cx="377.9" cy="190.2" r="3.2"/>
<circle cx="380.7" cy="190.4" r="3.2"/>
<circle cx="381.1" cy="190.6" r="3.2"/>
<circle cx="383.5" cy="190.8" r="3.2"/>
<circle cx="380.5" cy="190.6" r="3.2"/>
<circle cx="381.4" cy="190.4" r="3.2"/>
<circle cx="383.1" cy="190.8" r="3.2"/>
<circle cx="380.9" cy="190.5" r="3.2"/>
<circle cx="380.2" cy="190.5" r="3.2"/>
<circle cx="384.5" cy="190.8" r="3.2"/>
<circle cx="386.7" cy="190.6" r="3.2"/>
<circle cx="359.4" cy="184.5" r="3.2"/>
<circle cx="377.7" cy="184.6" r="3.2"/>
<circle cx="368.3" cy="185.0" r="3.2"/>
<circle cx="362.8" cy="184.8" r="3.2"/>
<circle cx="377.1" cy="184.4" r="3.2"/>
<circle cx="365.0" cy="184.7" r="3.2"/>
<circle cx="357.6" cy="184.5" r="3.2"/>
<circle cx="378.7" cy="184.7" r="3.2"/>
<circle cx="367.0" cy="184.6" r="3.2"/>
<circle cx="376.9" cy="184.5" r="3.2"/>
<circle cx="360.1" cy="184.9" r="3.2"/>
<circle cx="355.5" cy="184.4" r="3.2"/>
<circle cx="380.7" cy="184.7" r="3.2"/>
<circle cx="358.0" cy="184.4" r="3.2"/>
<circle cx="376.9" cy="184.7" r="3.2"/>
<circle cx="383.9" cy="184.5" r="3.2"/>
<circle cx="383.4" cy="184.4" r="3.2"/>
<circle cx="359.1" cy="184.4" r="3.2"/>
<circle cx="363.8" cy="184.5" r="3.2"/>
<circle cx="383.6" cy="184.6" r="3.2"/>
<circle cx="374.0" cy="184.5" r="3.2"/>
<circle cx="383.4" cy="184.5" r="3.2"/>
<circle cx="366.9" cy="184.6" r="3.2"/>
<circle cx="367.0" cy="184.5" r="3.2"/>
<circle cx="365.0" cy="184.7" r="3.2"/>
<circle cx="364.9" cy="184.7" r="3.2"/>
<circle cx="363.9" cy="184.8" r="3.2"/>
<circle cx="365.4" cy="184.7" r="3.2"/>
<circle cx="382.8" cy="184.7" r="3.2"/>
<circle cx="380.4" cy="184.4" r="3.2"/>
<circle cx="363.1" cy="184.8" r="3.2"/>
<circle cx="361.7" cy="184.8" r="3.2"/>
<circle cx="384.5" cy="184.4" r="3.2"/>
<circle cx="362.2" cy="184.8" r="3.2"/>
<circle cx="357.6" cy="184.5" r="3.2"/>
<circle cx="362.5" cy="184.5" r="3.2"/>
<circle cx="382.8" cy="184.9" r="3.2"/>
<circle cx="384.4" cy="184.6" r="3.2"/>
<circle cx="384.5" cy="184.8" r="3.2"/>
<circle cx="377.3" cy="184.9" r="3.2"/>
<circle cx="376.9" cy="184.6" r="3.2"/>
<circle cx="372.6" cy="184.8" r="3.2"/>
<circle cx="380.5" cy="184.8" r="3.2"/>
<circle cx="364.3" cy="184.7" r="3.2"/>
<circle cx="378.7" cy="184.7" r="3.2"/>
<circle cx="358.3" cy="184.7" r="3.2"/>
<circle cx="358.3" cy="184.4" r="3.2"/>
<circle cx="365.5" cy="184.8" r="3.2"/>
<circle cx="357.9" cy="184.6" r="3.2"/>
<circle cx="372.0" cy="184.5" r="3.2"/>
<circle cx="377.4" cy="184.4" r="3.2"/>
<circle cx="373.5" cy="184.7" r="3.2"/>
<circle cx="380.5" cy="184.7" r="3.2"/>
<circle cx="377.3" cy="184.3" r="3.2"/>
<circle cx="363.3" cy="184.4" r="3.2"/>
<circle cx="378.5" cy="184.7" r="3.2"/>
<circle cx="376.9" cy="184.8" r="3.2"/>
<circle cx="371.1" cy="184.4" r="3.2"/>
<circle cx="374.1" cy="184.8" r="3.2"/>
<circle cx="376.7" cy="184.7" r="3.2"/>
<circle cx="382.4" cy="184.8" r="3.2"/>
<circle cx="361.7" cy="184.5" r="3.2"/>
<circle cx="381.5" cy="184.6" r="3.2"/>
<circle cx="355.9" cy="184.6" r="3.2"/>
<circle cx="381.3" cy="184.6" r="3.2"/>
<circle cx="384.7" cy="184.6" r="3.2"/>
<circle cx="372.5" cy="184.7" r="3.2"/>
<circle cx="362.5" cy="184.4" r="3.2"/>
<circle cx="370.6" cy="184.8" r="3.2"/>
<circle cx="367.9" cy="184.8" r="3.2"/>
<circle cx="378.7" cy="184.7" r="3.2"/>
<circle cx="366.5" cy="184.7" r="3.2"/>
<circle cx="354.8" cy="184.3" r="3.2"/>
<circle cx="380.9" cy="184.9" r="3.2"/>
<circle cx="360.2" cy="184.7" r="3.2"/>
<circle cx="362.0" cy="184.6" r="3.2"/>
<circle cx="374.1" cy="184.6" r="3.2"/>
<circle cx="357.4" cy="184.8" r="3.2"/>
<circle cx="360.1" cy="184.8" r="3.2"/>
<circle cx="356.1" cy="185.0" r="3.2"/>
<circle cx="371.1" cy="184.7" r="3.2"/>
<circle cx="354.9" cy="184.9" r="3.2"/>
<circle cx="366.0" cy="184.7" r="3.2"/>
<circle cx="367.2" cy="184.6" r="3.2"/>
<circle cx="364.6" cy="184.4" r="3.2"/>
<circle cx="357.2" cy="184.7" r="3.2"/>
<circle cx="381.0" cy="184.6" r="3.2"/>
<circle cx="358.8" cy="184.9" r="3.2"/>
<circle cx="357.6" cy="184.7" r="3.2"/>
<circle cx="362.3" cy="184.7" r="3.2"/>
<circle cx="359.0" cy="184.9" r="3.2"/>
<circle cx="370.8" cy="184.8" r="3.2"/>
<circle cx="369.8" cy="184.4" r="3.2"/>
<circle cx="356.2" cy="184.6" r="3.2"/>
<circle cx="356.2" cy="184.7" r="3.2"/>
<circle cx="370.1" cy="184.6" r="3.2"/>
<circle cx="373.7" cy="184.7" r="3.2"/>
<circle cx="366.9" cy="184.7" r="3.2"/>
<circle cx="364.3" cy="184.6" r="3.2"/>
<circle cx="377.6" cy="184.6" r="3.2"/>
<circle cx="383.7" cy="184.4" r="3.2"/>
<circle cx="380.0" cy="184.6" r="3.2"/>
<circle cx="380.3" cy="184.7" r="3.2"/>
<circle cx="357.4" cy="184.5" r="3.2"/>
<circle cx="378.8" cy="184.8" r="3.2"/>
<circle cx="364.3" cy="184.5" r="3.2"/>
<circle cx="384.2" cy="184.6" r="3.2"/>
<circle cx="378.5" cy="184.6" r="3.2"/>
<circle cx="361.6" cy="184.7" r="3.2"/>
<circle cx="356.5" cy="185.0" r="3.2"/>
<circle cx="381.1" cy="184.5" r="3.2"/>
<circle cx="375.7" cy="184.8" r="3.2"/>
<circle cx="382.1" cy="184.7" r="3.2"/>
<circle cx="370.3" cy="184.7" r="3.2"/>
<circle cx="361.6" cy="184.6" r="3.2"/>
<circle cx="357.5" cy="184.7" r="3.2"/>
<circle cx="371.9" cy="184.8" r="3.2"/>
<circle cx="366.5" cy="184.7" r="3.2"/>
<circle cx="357.7" cy="184.8" r="3.2"/>
<circle cx="355.8" cy="184.4" r="3.2"/>
<circle cx="390.8" cy="184.8" r="3.2"/>
<circle cx="385.2" cy="184.9" r="3.2"/>
<circle cx="389.8" cy="184.8" r="3.2"/>
<circle cx="385.6" cy="184.6" r="3.2"/>
<circle cx="386.5" cy="184.8" r="3.2"/>
<circle cx="385.6" cy="184.5" r="3.2"/>
<circle cx="393.1" cy="184.6" r="3.2"/>
<circle cx="397.6" cy="184.3" r="3.2"/>
<circle cx="359.7" cy="178.7" r="3.2"/>
<circle cx="360.8" cy="178.7" r="3.2"/>
<circle cx="371.5" cy="178.8" r="3.2"/>
<circle cx="366.0" cy="178.8" r="3.2"/>
<circle cx="369.1" cy="178.9" r="3.2"/>
<circle cx="372.2" cy="178.6" r="3.2"/>
<circle cx="377.2" cy="178.8" r="3.2"/>
<circle cx="378.6" cy="179.0" r="3.2"/>
<circle cx="380.2" cy="178.6" r="3.2"/>
<circle cx="357.1" cy="178.8" r="3.2"/>
<circle cx="369.1" cy="178.5" r="3.2"/>
<circle cx="382.8" cy="178.5" r="3.2"/>
<circle cx="365.4" cy="178.8" r="3.2"/>
<circle cx="384.8" cy="178.4" r="3.2"/>
<circle cx="376.0" cy="178.6" r="3.2"/>
<circle cx="355.3" cy="179.0" r="3.2"/>
<circle cx="372.5" cy="178.4" r="3.2"/>
<circle cx="374.2" cy="178.8" r="3.2"/>
<circle cx="361.1" cy="178.8" r="3.2"/>
<circle cx="378.3" cy="178.8" r="3.2"/>
<circle cx="379.2" cy="178.7" r="3.2"/>
<circle cx="372.2" cy="178.8" r="3.2"/>
<circle cx="360.9" cy="178.6" r="3.2"/>
<circle cx="364.8" cy="178.7" r="3.2"/>
<circle cx="376.4" cy="178.7" r="3.2"/>
<circle cx="372.4" cy="178.9" r="3.2"/>
<circle cx="384.2" cy="178.8" r="3.2"/>
<circle cx="363.3" cy="178.8" r="3.2"/>
<circle cx="364.6" cy="178.5" r="3.2"/>
<circle cx="360.5" cy="178.8" r="3.2"/>
<circle cx="377.2" cy="178.6" r="3.2"/>
<circle cx="370.5" cy="178.8" r="3.2"/>
<circle cx="373.6" cy="178.8" r="3.2"/>
<circle cx="367.3" cy="178.9" r="3.2"/>
<circle cx="379.3" cy="178.6" r="3.2"/>
<circle cx="385.6" cy="178.7" r="3.2"/>
<circle cx="360.4" cy="178.8" r="3.2"/>
<circle cx="376.3" cy="178.7" r="3.2"/>
<circle cx="357.7" cy="178.7" r="3.2"/>
<circle cx="364.1" cy="178.7" r="3.2"/>
<circle cx="374.2" cy="178.9" r="3.2"/>
<circle cx="386.0" cy="178.8" r="3.2"/>
<circle cx="377.5" cy="178.5" r="3.2"/>
<circle cx="372.6" cy="179.0" r="3.2"/>
<circle cx="380.1" cy="178.7" r="3.2"/>
<circle cx="376.7" cy="178.9" r="3.2"/>
<circle cx="378.5" cy="178.7" r="3.2"/>
<circle cx="367.9" cy="178.7" r="3.2"/>
<circle cx="364.7" cy="178.7" r="3.2"/>
<circle cx="378.1" cy="178.8" r="3.2"/>
<circle cx="359.2" cy="178.7" r="3.2"/>
<circle cx="376.8" cy="178.8" r="3.2"/>
<circle cx="374.3" cy="179.1" r="3.2"/>
<circle cx="385.8" cy="178.9" r="3.2"/>
<circle cx="378.2" cy="178.8" r="3.2"/>
<circle cx="355.5" cy="178.5" r="3.2"/>
<circle cx="363.3" cy="178.7" r="3.2"/>
<circle cx="374.7" cy="178.8" r="3.2"/>
<circle cx="373.2" cy="178.6" r="3.2"/>
<circle cx="362.1" cy="178.9" r="3.2"/>
<circle cx="363.6" cy="178.8" r="3.2"/>
<circle cx="381.3" cy="178.8" r="3.2"/>
<circle cx="370.1" cy="178.7" r="3.2"/>
<circle cx="375.6" cy="178.4" r="3.2"/>
<circle cx="366.1" cy="178.8" r="3.2"/>
<circle cx="367.7" cy="178.7" r="3.2"/>
<circle cx="382.4" cy="178.7" r="3.2"/>
<circle cx="380.6" cy="178.6" r="3.2"/>
<circle cx="378.4" cy="178.7" r="3.2"/>
<circle cx="376.0" cy="178.6" r="3.2"/>
<circle cx="375.3" cy="178.8" r="3.2"/>
<circle cx="383.8" cy="178.6" r="3.2"/>
<circle cx="377.3" cy="178.8" r="3.2"/>
<circle cx="360.9" cy="178.9" r="3.2"/>
<circle cx="374.1" cy="178.5" r="3.2"/>
<circle cx="365.5" cy="179.2" r="3.2"/>
<circle cx="379.4" cy="178.8" r="3.2"/>
<circle cx="373.2" cy="178.6" r="3.2"/>
<circle cx="362.1" cy="178.6" r="3.2"/>
<circle cx="377.0" cy="178.9" r="3.2"/>
<circle cx="370.7" cy="178.9" r="3.2"/>
<circle cx="370.9" cy="178.9" r="3.2"/>
<circle cx="371.2" cy="178.5" r="3.2"/>
<circle cx="375.2" cy="178.8" r="3.2"/>
<circle cx="375.4" cy="178.6" r="3.2"/>
<circle cx="368.1" cy="178.7" r="3.2"/>
<circle cx="376.0" cy="178.7" r="3.2"/>
<circle cx="361.7" cy="178.8" r="3.2"/>
<circle cx="356.5" cy="178.9" r="3.2"/>
<circle cx="366.6" cy="178.8" r="3.2"/>
<circle cx="369.0" cy="178.8" r="3.2"/>
<circle cx="368.8" cy="178.8" r="3.2"/>
<circle cx="363.9" cy="178.7" r="3.2"/>
<circle cx="378.6" cy="178.9" r="3.2"/>
<circle cx="356.7" cy="178.9" r="3.2"/>
<circle cx="382.7" cy="178.8" r="3.2"/>
<circle cx="374.5" cy="178.5" r="3.2"/>
<circle cx="376.0" cy="179.0" r="3.2"/>
<circle cx="380.6" cy="178.8" r="3.2"/>
<circle cx="360.9" cy="178.7" r="3.2"/>
<circle cx="379.5" cy="178.5" r="3.2"/>
<circle cx="357.0" cy="178.9" r="3.2"/>
<circle cx="384.1" cy="178.6" r="3.2"/>
<circle cx="380.7" cy="178.6" r="3.2"/>
<circle cx="371.5" cy="178.6" r="3.2"/>
<circle cx="379.3" cy="178.8" r="3.2"/>
<circle cx="359.4" cy="178.7" r="3.2"/>
<circle cx="355.3" cy="178.8" r="3.2"/>
<circle cx="364.1" cy="178.9" r="3.2"/>
<circle cx="365.6" cy="178.8" r="3.2"/>
<circle cx="355.4" cy="178.6" r="3.2"/>
<circle cx="362.0" cy="178.8" r="3.2"/>
<circle cx="371.7" cy="178.7" r="3.2"/>
<circle cx="383.8" cy="178.8" r="3.2"/>
<circle cx="385.1" cy="178.8" r="3.2"/>
<circle cx="373.1" cy="179.0" r="3.2"/>
<circle cx="362.6" cy="178.6" r="3.2"/>
<circle cx="363.4" cy="178.7" r="3.2"/>
<circle cx="368.9" cy="178.8" r="3.2"/>
<circle cx="385.5" cy="178.8" r="3.2"/>
<circle cx="378.8" cy="178.5" r="3.2"/>
<circle cx="365.1" cy="179.2" r="3.2"/>
<circle cx="381.4" cy="178.6" r="3.2"/>
<circle cx="368.9" cy="179.0" r="3.2"/>
<circle cx="393.2" cy="178.8" r="3.2"/>
<circle cx="387.5" cy="178.9" r="3.2"/>
<circle cx="391.3" cy="178.8" r="3.2"/>
<circle cx="387.8" cy="178.7" r="3.2"/>
<circle cx="386.7" cy="178.8" r="3.2"/>
<circle cx="386.3" cy="178.8" r="3.2"/>
<circle cx="387.3" cy="178.4" r="3.2"/>
<circle cx="389.7" cy="178.9" r="3.2"/>
<circle cx="376.3" cy="172.8" r="3.2"/>
<circle cx="366.4" cy="172.9" r="3.2"/>
<circle cx="361.4" cy="172.9" r="3.2"/>
<circle cx="381.0" cy="172.8" r="3.2"/>
<circle cx="356.2" cy="172.7" r="3.2"/>
<circle cx="376.3" cy="172.8" r="3.2"/>
<circle cx="355.9" cy="172.6" r="3.2"/>
<circle cx="367.8" cy="172.8" r="3.2"/>
<circle cx="358.8" cy="172.8" r="3.2"/>
<circle cx="380.9" cy="172.8" r="3.2"/>
<circle cx="377.9" cy="173.0" r="3.2"/>
<circle cx="365.2" cy="172.6" r="3.2"/>
<circle cx="372.5" cy="172.6" r="3.2"/>
<circle cx="365.5" cy="172.9" r="3.2"/>
<circle cx="378.9" cy="172.8" r="3.2"/>
<circle cx="356.7" cy="173.0" r="3.2"/>
<circle cx="356.5" cy="172.9" r="3.2"/>
<circle cx="365.4" cy="172.7" r="3.2"/>
<circle cx="382.6" cy="172.8" r="3.2"/>
<circle cx="370.1" cy="172.7" r="3.2"/>
<circle cx="368.4" cy="172.7" r="3.2"/>
<circle cx="362.6" cy="172.7" r="3.2"/>
<circle cx="381.4" cy="172.7" r="3.2"/>
<circle cx="374.3" cy="172.7" r="3.2"/>
<circle cx="376.0" cy="172.9" r="3.2"/>
<circle cx="368.4" cy="173.1" r="3.2"/>
<circle cx="359.0" cy="172.6" r="3.2"/>
<circle cx="378.6" cy="173.2" r="3.2"/>
<circle cx="380.3" cy="172.6" r="3.2"/>
<circle cx="366.0" cy="172.8" r="3.2"/>
<circle cx="375.5" cy="172.7" r="3.2"/>
<circle cx="382.4" cy="172.8" r="3.2"/>
<circle cx="368.9" cy="173.1" r="3.2"/>
<circle cx="357.5" cy="172.9" r="3.2"/>
<circle cx="362.7" cy="172.7" r="3.2"/>
<circle cx="367.5" cy="172.9" r="3.2"/>
<circle cx="367.2" cy="172.6" r="3.2"/>
<circle cx="374.1" cy="172.8" r="3.2"/>
<circle cx="356.2" cy="172.8" r="3.2"/>
<circle cx="364.2" cy="172.9" r="3.2"/>
<circle cx="367.7" cy="172.8" r="3.2"/>
<circle cx="377.6" cy="172.8" r="3.2"/>
<circle cx="359.2" cy="172.8" r="3.2"/>
<circle cx="382.6" cy="172.5" r="3.2"/>
<circle cx="371.0" cy="172.9" r="3.2"/>
<circle cx="367.1" cy="172.9" r="3.2"/>
<circle cx="373.8" cy="173.1" r="3.2"/>
<circle cx="356.6" cy="172.8" r="3.2"/>
<circle cx="358.4" cy="172.8" r="3.2"/>
<circle cx="371.3" cy="172.7" r="3.2"/>
<circle cx="369.2" cy="172.7" r="3.2"/>
<circle cx="380.5" cy="172.8" r="3.2"/>
<circle cx="363.1" cy="172.8" r="3.2"/>
<circle cx="363.0" cy="172.9" r="3.2"/>
<circle cx="358.5" cy="172.8" r="3.2"/>
<circle cx="361.6" cy="172.8" r="3.2"/>
<circle cx="377.6" cy="172.9" r="3.2"/>
<circle cx="375.5" cy="172.7" r="3.2"/>
<circle cx="377.6" cy="172.7" r="3.2"/>
<circle cx="376.1" cy="172.7" r="3.2"/>
<circle cx="363.8" cy="172.8" r="3.2"/>
<circle cx="361.3" cy="172.9" r="3.2"/>
<circle cx="369.3" cy="172.7" r="3.2"/>
<circle cx="357.2" cy="172.8" r="3.2"/>
<circle cx="355.5" cy="172.8" r="3.2"/>
<circle cx="372.3" cy="172.9" r="3.2"/>
<circle cx="377.7" cy="172.6" r="3.2"/>
<circle cx="366.7" cy="172.8" r="3.2"/>
<circle cx="356.9" cy="172.8" r="3.2"/>
<circle cx="359.0" cy="172.6" r="3.2"/>
<circle cx="363.6" cy="172.7" r="3.2"/>
<circle cx="359.4" cy="172.6" r="3.2"/>
<circle cx="365.7" cy="172.7" r="3.2"/>
<circle cx="377.9" cy="172.9" r="3.2"/>
<circle cx="358.9" cy="172.6" r="3.2"/>
<circle cx="359.8" cy="173.1" r="3.2"/>
<circle cx="359.8" cy="172.9" r="3.2"/>
<circle cx="368.2" cy="172.6" r="3.2"/>
<circle cx="367.7" cy="173.0" r="3.2"/>
<circle cx="362.3" cy="172.9" r="3.2"/>
<circle cx="367.2" cy="173.0" r="3.2"/>
<circle cx="365.9" cy="172.7" r="3.2"/>
<circle cx="364.7" cy="172.8" r="3.2"/>
<circle cx="375.0" cy="173.0" r="3.2"/>
<circle cx="358.1" cy="173.0" r="3.2"/>
<circle cx="359.5" cy="172.8" r="3.2"/>
<circle cx="371.7" cy="172.9" r="3.2"/>
<circle cx="368.2" cy="173.0" r="3.2"/>
<circle cx="382.2" cy="172.8" r="3.2"/>
<circle cx="364.3" cy="172.9" r="3.2"/>
<circle cx="373.4" cy="172.8" r="3.2"/>
<circle cx="374.9" cy="172.9" r="3.2"/>
<circle cx="369.7" cy="173.1" r="3.2"/>
<circle cx="358.4" cy="172.9" r="3.2"/>
<circle cx="363.2" cy="172.7" r="3.2"/>
<circle cx="376.4" cy="172.8" r="3.2"/>
<circle cx="359.0" cy="172.8" r="3.2"/>
<circle cx="358.1" cy="172.7" r="3.2"/>
<circle cx="374.5" cy="172.8" r="3.2"/>
<circle cx="355.7" cy="172.7" r="3.2"/>
<circle cx="360.5" cy="172.8" r="3.2"/>
<circle cx="381.6" cy="172.8" r="3.2"/>
<circle cx="355.3" cy="172.8" r="3.2"/>
<circle cx="365.6" cy="172.5" r="3.2"/>
<circle cx="377.8" cy="172.9" r="3.2"/>
<circle cx="371.0" cy="173.1" r="3.2"/>
<circle cx="378.8" cy="172.9" r="3.2"/>
<circle cx="379.2" cy="172.6" r="3.2"/>
<circle cx="362.0" cy="172.9" r="3.2"/>
<circle cx="375.9" cy="172.8" r="3.2"/>
<circle cx="369.4" cy="172.7" r="3.2"/>
<circle cx="355.5" cy="172.8" r="3.2"/>
<circle cx="392.1" cy="172.6" r="3.2"/>
<circle cx="385.4" cy="172.7" r="3.2"/>
<circle cx="390.6" cy="172.6" r="3.2"/>
<circle cx="388.6" cy="172.9" r="3.2"/>
<circle cx="383.6" cy="172.9" r="3.2"/>
<circle cx="384.4" cy="172.6" r="3.2"/>
<circle cx="383.6" cy="172.7" r="3.2"/>
<circle cx="383.0" cy="172.8" r="3.2"/>
<circle cx="372.3" cy="166.9" r="3.2"/>
<circle cx="371.0" cy="166.6" r="3.2"/>
<circle cx="363.4" cy="167.0" r="3.2"/>
<circle cx="360.3" cy="166.8" r="3.2"/>
<circle cx="364.7" cy="166.9" r="3.2"/>
<circle cx="356.0" cy="166.8" r="3.2"/>
<circle cx="374.5" cy="167.1" r="3.2"/>
<circle cx="364.7" cy="166.9" r="3.2"/>
<circle cx="375.1" cy="167.0" r="3.2"/>
<circle cx="366.4" cy="166.8" r="3.2"/>
<circle cx="369.6" cy="166.9" r="3.2"/>
<circle cx="375.8" cy="166.9" r="3.2"/>
<circle cx="366.3" cy="167.0" r="3.2"/>
<circle cx="356.4" cy="166.7" r="3.2"/>
<circle cx="357.0" cy="166.9" r="3.2"/>
<circle cx="372.1" cy="167.3" r="3.2"/>
<circle cx="361.0" cy="166.5" r="3.2"/>
<circle cx="365.5" cy="167.0" r="3.2"/>
<circle cx="361.5" cy="166.8" r="3.2"/>
<circle cx="366.9" cy="166.9" r="3.2"/>
<circle cx="356.3" cy="166.8" r="3.2"/>
<circle cx="355.6" cy="166.9" r="3.2"/>
<circle cx="370.8" cy="166.8" r="3.2"/>
<circle cx="363.3" cy="166.9" r="3.2"/>
<circle cx="373.6" cy="166.8" r="3.2"/>
<circle cx="365.0" cy="167.0" r="3.2"/>
<circle cx="373.8" cy="166.8" r="3.2"/>
<circle cx="368.1" cy="166.8" r="3.2"/>
<circle cx="362.3" cy="167.0" r="3.2"/>
<circle cx="359.4" cy="166.9" r="3.2"/>
<circle cx="365.1" cy="167.0" r="3.2"/>
<circle cx="368.8" cy="166.7" r="3.2"/>
<circle cx="354.8" cy="167.0" r="3.2"/>
<circle cx="357.5" cy="166.6" r="3.2"/>
<circle cx="359.0" cy="166.9" r="3.2"/>
<circle cx="357.9" cy="167.0" r="3.2"/>
<circle cx="365.4" cy="166.8" r="3.2"/>
<circle cx="366.3" cy="166.7" r="3.2"/>
<circle cx="369.4" cy="167.1" r="3.2"/>
<circle cx="369.8" cy="166.5" r="3.2"/>
<circle cx="365.3" cy="167.0" r="3.2"/>
<circle cx="358.9" cy="166.9" r="3.2"/>
<circle cx="375.1" cy="166.9" r="3.2"/>
<circle cx="362.0" cy="166.8" r="3.2"/>
<circle cx="363.7" cy="166.6" r="3.2"/>
<circle cx="361.9" cy="166.6" r="3.2"/>
<circle cx="369.6" cy="166.6" r="3.2"/>
<circle cx="365.4" cy="167.1" r="3.2"/>
<circle cx="371.1" cy="166.7" r="3.2"/>
<circle cx="370.8" cy="166.8" r="3.2"/>
<circle cx="363.1" cy="166.7" r="3.2"/>
<circle cx="369.9" cy="167.0" r="3.2"/>
<circle cx="367.4" cy="166.8" r="3.2"/>
<circle cx="365.6" cy="167.0" r="3.2"/>
<circle cx="362.9" cy="166.9" r="3.2"/>
<circle cx="356.2" cy="166.9" r="3.2"/>
<circle cx="358.1" cy="167.0" r="3.2"/>
<circle cx="375.3" cy="167.0" r="3.2"/>
<circle cx="363.3" cy="167.1" r="3.2"/>
<circle cx="374.5" cy="166.8" r="3.2"/>
<circle cx="368.6" cy="167.2" r="3.2"/>
<circle cx="356.5" cy="166.8" r="3.2"/>
<circle cx="354.9" cy="167.0" r="3.2"/>
<circle cx="368.7" cy="166.9" r="3.2"/>
<circle cx="375.0" cy="167.1" r="3.2"/>
<circle cx="361.8" cy="166.9" r="3.2"/>
<circle cx="367.3" cy="166.9" r="3.2"/>
<circle cx="371.8" cy="166.8" r="3.2"/>
<circle cx="354.9" cy="166.7" r="3.2"/>
<circle cx="373.6" cy="167.1" r="3.2"/>
<circle cx="373.1" cy="167.0" r="3.2"/>
<circle cx="363.8" cy="166.8" r="3.2"/>
<circle cx="364.9" cy="166.8" r="3.2"/>
<circle cx="362.7" cy="166.9" r="3.2"/>
<circle cx="365.0" cy="167.1" r="3.2"/>
<circle cx="356.2" cy="166.9" r="3.2"/>
<circle cx="366.7" cy="167.0" r="3.2"/>
<circle cx="364.5" cy="166.9" r="3.2"/>
<circle cx="370.9" cy="167.2" r="3.2"/>
<circle cx="372.1" cy="166.9" r="3.2"/>
<circle cx="364.0" cy="166.7" r="3.2"/>
<circle cx="375.3" cy="166.9" r="3.2"/>
<circle cx="372.8" cy="167.1" r="3.2"/>
<circle cx="370.1" cy="166.9" r="3.2"/>
<circle cx="387.1" cy="167.0" r="3.2"/>
<circle cx="378.7" cy="166.8" r="3.2"/>
<circle cx="377.3" cy="167.0" r="3.2"/>
<circle cx="382.8" cy="167.2" r="3.2"/>
<circle cx="384.9" cy="166.8" r="3.2"/>
<circle cx="376.1" cy="167.1" r="3.2"/>
<circle cx="379.4" cy="166.9" r="3.2"/>
<circle cx="398.6" cy="167.0" r="3.2"/>
<circle cx="376.0" cy="167.1" r="3.2"/>
<circle cx="400.9" cy="166.8" r="3.2"/>
<circle cx="378.6" cy="167.1" r="3.2"/>
<circle cx="380.3" cy="166.8" r="3.2"/>
<circle cx="391.5" cy="184.7" r="3.2"/>
<circle cx="391.8" cy="184.8" r="3.2"/>
<circle cx="391.2" cy="184.6" r="3.2"/>
<circle cx="366.3" cy="161.0" r="3.2"/>
<circle cx="360.7" cy="161.2" r="3.2"/>
<circle cx="358.9" cy="161.0" r="3.2"/>
<circle cx="370.0" cy="160.9" r="3.2"/>
<circle cx="361.3" cy="161.1" r="3.2"/>
<circle cx="367.4" cy="160.9" r="3.2"/>
<circle cx="362.7" cy="160.9" r="3.2"/>
<circle cx="361.4" cy="160.9" r="3.2"/>
<circle cx="361.8" cy="161.3" r="3.2"/>
<circle cx="363.3" cy="160.9" r="3.2"/>
<circle cx="370.5" cy="161.1" r="3.2"/>
<circle cx="366.2" cy="160.9" r="3.2"/>
<circle cx="361.2" cy="160.9" r="3.2"/>
<circle cx="361.3" cy="161.1" r="3.2"/>
<circle cx="365.8" cy="161.0" r="3.2"/>
<circle cx="360.3" cy="161.1" r="3.2"/>
<circle cx="361.8" cy="161.0" r="3.2"/>
<circle cx="370.6" cy="160.9" r="3.2"/>
<circle cx="359.9" cy="161.1" r="3.2"/>
<circle cx="364.9" cy="161.0" r="3.2"/>
<circle cx="362.4" cy="160.8" r="3.2"/>
<circle cx="366.8" cy="161.1" r="3.2"/>
<circle cx="361.5" cy="161.1" r="3.2"/>
<circle cx="365.6" cy="160.9" r="3.2"/>
<circle cx="363.0" cy="161.0" r="3.2"/>
<circle cx="364.7" cy="160.8" r="3.2"/>
<circle cx="360.7" cy="161.1" r="3.2"/>
<circle cx="369.1" cy="161.0" r="3.2"/>
<circle cx="370.1" cy="160.9" r="3.2"/>
<circle cx="361.0" cy="161.0" r="3.2"/>
<circle cx="370.2" cy="161.1" r="3.2"/>
<circle cx="359.4" cy="161.1" r="3.2"/>
<circle cx="364.7" cy="160.7" r="3.2"/>
<circle cx="370.8" cy="161.3" r="3.2"/>
<circle cx="364.8" cy="161.1" r="3.2"/>
<circle cx="364.3" cy="160.8" r="3.2"/>
<circle cx="368.1" cy="161.1" r="3.2"/>
<circle cx="368.8" cy="161.0" r="3.2"/>
<circle cx="365.0" cy="160.9" r="3.2"/>
<circle cx="369.0" cy="160.8" r="3.2"/>
<circle cx="361.6" cy="161.0" r="3.2"/>
<circle cx="369.3" cy="161.1" r="3.2"/>
<circle cx="364.8" cy="161.0" r="3.2"/>
<circle cx="362.8" cy="160.7" r="3.2"/>
<circle cx="367.7" cy="161.0" r="3.2"/>
<circle cx="365.1" cy="160.8" r="3.2"/>
<circle cx="364.4" cy="160.9" r="3.2"/>
<circle cx="365.7" cy="161.0" r="3.2"/>
<circle cx="369.2" cy="161.0" r="3.2"/>
<circle cx="363.2" cy="161.1" r="3.2"/>
<circle cx="373.1" cy="161.2" r="3.2"/>
<circle cx="371.5" cy="160.9" r="3.2"/>
<circle cx="375.4" cy="160.9" r="3.2"/>
<circle cx="371.7" cy="161.1" r="3.2"/>
<circle cx="376.5" cy="160.8" r="3.2"/>
<circle cx="371.8" cy="161.2" r="3.2"/>
<circle cx="375.4" cy="160.8" r="3.2"/>
<circle cx="371.4" cy="161.1" r="3.2"/>
<circle cx="380.3" cy="160.9" r="3.2"/>
<circle cx="372.1" cy="161.0" r="3.2"/>
<circle cx="381.1" cy="161.2" r="3.2"/>
<circle cx="373.2" cy="161.0" r="3.2"/>
<circle cx="373.5" cy="161.1" r="3.2"/>
<circle cx="372.2" cy="161.0" r="3.2"/>
<circle cx="354.8" cy="176.7" r="3.2"/>
<circle cx="355.8" cy="166.4" r="3.2"/>
<circle cx="365.1" cy="195.2" r="3.2"/>
<circle cx="357.2" cy="184.2" r="3.2"/>
<circle cx="369.4" cy="170.7" r="3.2"/>
<circle cx="357.0" cy="181.2" r="3.2"/>
<circle cx="397.0" cy="167.2" r="3.2"/>
<circle cx="392.0" cy="173.0" r="3.2"/>
<circle cx="400.3" cy="173.0" r="3.2"/>
<circle cx="394.5" cy="176.0" r="3.2"/>
<circle cx="397.8" cy="178.8" r="3.2"/>
<circle cx="355.0" cy="143.7" r="3.2"/>
<circle cx="363.3" cy="143.3" r="3.2"/>
<circle cx="360.8" cy="149.2" r="3.2"/>
<circle cx="368.3" cy="149.2" r="3.2"/>
<circle cx="369.0" cy="149.5" r="3.2"/>
<circle cx="374.2" cy="149.2" r="3.2"/>
<circle cx="355.0" cy="155.0" r="3.2"/>
<circle cx="363.3" cy="155.0" r="3.2"/>
<circle cx="364.0" cy="155.3" r="3.2"/>
<circle cx="362.5" cy="155.0" r="3.2"/>
<circle cx="372.5" cy="155.0" r="3.2"/>
<circle cx="377.5" cy="155.0" r="3.2"/>
<circle cx="416.6" cy="142.8" r="3.2"/>
<circle cx="422.7" cy="148.6" r="3.2"/>
<circle cx="398.0" cy="155.5" r="3.2"/>
<circle cx="407.2" cy="155.5" r="3.2"/>
<circle cx="397.4" cy="167.2" r="3.2"/>
<circle cx="408.3" cy="167.2" r="3.2"/>
<circle cx="392.8" cy="172.4" r="3.2"/>
<circle cx="401.2" cy="172.9" r="3.2"/>
<circle cx="394.5" cy="177.0" r="3.2"/>
<circle cx="398.6" cy="179.3" r="3.2"/>
<circle cx="391.7" cy="185.0" r="3.2"/>
<circle cx="392.5" cy="185.2" r="3.2"/>
<circle cx="377.3" cy="155.0" r="3.2"/>
<circle cx="375.6" cy="149.4" r="3.2"/>
</g>
<g class="pts">
<circle cx="44.8" cy="494.8" r="3.2"/>
<circle cx="65.9" cy="494.9" r="3.2"/>
<circle cx="46.4" cy="494.8" r="3.2"/>
<circle cx="55.0" cy="494.9" r="3.2"/>
<circle cx="48.2" cy="494.9" r="3.2"/>
<circle cx="60.9" cy="494.9" r="3.2"/>
<circle cx="45.8" cy="495.3" r="3.2"/>
<circle cx="52.1" cy="495.0" r="3.2"/>
<circle cx="53.9" cy="494.8" r="3.2"/>
<circle cx="43.9" cy="495.0" r="3.2"/>
<circle cx="64.4" cy="495.1" r="3.2"/>
<circle cx="50.8" cy="495.0" r="3.2"/>
<circle cx="50.6" cy="494.9" r="3.2"/>
<circle cx="57.8" cy="494.8" r="3.2"/>
<circle cx="59.1" cy="495.0" r="3.2"/>
<circle cx="57.1" cy="495.2" r="3.2"/>
<circle cx="59.5" cy="494.7" r="3.2"/>
<circle cx="46.9" cy="494.7" r="3.2"/>
<circle cx="56.5" cy="494.9" r="3.2"/>
<circle cx="52.9" cy="495.0" r="3.2"/>
<circle cx="49.8" cy="494.8" r="3.2"/>
<circle cx="50.3" cy="494.9" r="3.2"/>
<circle cx="55.3" cy="495.0" r="3.2"/>
<circle cx="68.8" cy="495.1" r="3.2"/>
<circle cx="66.1" cy="494.9" r="3.2"/>
<circle cx="48.1" cy="495.1" r="3.2"/>
<circle cx="66.0" cy="495.0" r="3.2"/>
<circle cx="54.9" cy="495.0" r="3.2"/>
<circle cx="53.7" cy="495.0" r="3.2"/>
<circle cx="64.6" cy="495.2" r="3.2"/>
<circle cx="52.9" cy="495.2" r="3.2"/>
<circle cx="49.7" cy="495.0" r="3.2"/>
<circle cx="60.9" cy="495.1" r="3.2"/>
<circle cx="58.3" cy="495.1" r="3.2"/>
<circle cx="48.2" cy="495.1" r="3.2"/>
<circle cx="65.4" cy="495.1" r="3.2"/>
<circle cx="48.7" cy="494.8" r="3.2"/>
<circle cx="48.2" cy="495.0" r="3.2"/>
<circle cx="53.0" cy="495.2" r="3.2"/>
<circle cx="57.7" cy="494.8" r="3.2"/>
<circle cx="59.5" cy="495.1" r="3.2"/>
<circle cx="52.6" cy="495.0" r="3.2"/>
<circle cx="45.0" cy="494.8" r="3.2"/>
<circle cx="60.5" cy="495.1" r="3.2"/>
<circle cx="59.0" cy="494.7" r="3.2"/>
<circle cx="49.7" cy="495.0" r="3.2"/>
<circle cx="51.1" cy="495.0" r="3.2"/>
<circle cx="65.7" cy="495.1" r="3.2"/>
<circle cx="55.2" cy="495.1" r="3.2"/>
<circle cx="53.4" cy="494.9" r="3.2"/>
<circle cx="59.2" cy="495.2" r="3.2"/>
<circle cx="52.5" cy="495.0" r="3.2"/>
<circle cx="55.8" cy="494.8" r="3.2"/>
<circle cx="60.1" cy="495.1" r="3.2"/>
<circle cx="43.5" cy="494.8" r="3.2"/>
<circle cx="53.0" cy="495.0" r="3.2"/>
<circle cx="48.2" cy="495.0" r="3.2"/>
<circle cx="50.1" cy="494.9" r="3.2"/>
<circle cx="51.8" cy="495.1" r="3.2"/>
<circle cx="47.5" cy="494.9" r="3.2"/>
<circle cx="48.9" cy="494.9" r="3.2"/>
<circle cx="43.6" cy="495.3" r="3.2"/>
<circle cx="49.7" cy="495.0" r="3.2"/>
<circle cx="58.4" cy="494.9" r="3.2"/>
<circle cx="64.9" cy="494.8" r="3.2"/>
<circle cx="57.8" cy="495.1" r="3.2"/>
<circle cx="66.0" cy="495.2" r="3.2"/>
<circle cx="62.0" cy="495.0" r="3.2"/>
<circle cx="61.5" cy="495.1" r="3.2"/>
<circle cx="60.0" cy="494.9" r="3.2"/>
<circle cx="54.1" cy="495.2" r="3.2"/>
<circle cx="52.0" cy="494.8" r="3.2"/>
<circle cx="57.3" cy="495.2" r="3.2"/>
<circle cx="49.2" cy="495.0" r="3.2"/>
<circle cx="55.7" cy="495.1" r="3.2"/>
<circle cx="64.0" cy="495.1" r="3.2"/>
<circle cx="48.1" cy="494.8" r="3.2"/>
<circle cx="67.8" cy="494.8" r="3.2"/>
<circle cx="54.4" cy="495.1" r="3.2"/>
<circle cx="60.1" cy="495.1" r="3.2"/>
<circle cx="62.9" cy="495.0" r="3.2"/>
<circle cx="54.6" cy="495.0" r="3.2"/>
<circle cx="62.1" cy="495.0" r="3.2"/>
<circle cx="68.6" cy="495.3" r="3.2"/>
<circle cx="51.9" cy="495.0" r="3.2"/>
<circle cx="60.6" cy="495.0" r="3.2"/>
<circle cx="67.8" cy="495.0" r="3.2"/>
<circle cx="67.1" cy="494.9" r="3.2"/>
<circle cx="43.6" cy="495.0" r="3.2"/>
<circle cx="54.0" cy="495.0" r="3.2"/>
<circle cx="50.4" cy="495.2" r="3.2"/>
<circle cx="64.2" cy="495.2" r="3.2"/>
<circle cx="57.1" cy="495.1" r="3.2"/>
<circle cx="49.3" cy="495.2" r="3.2"/>
<circle cx="57.5" cy="494.8" r="3.2"/>
<circle cx="49.8" cy="494.7" r="3.2"/>
<circle cx="50.3" cy="495.1" r="3.2"/>
<circle cx="64.0" cy="495.3" r="3.2"/>
<circle cx="52.5" cy="494.7" r="3.2"/>
<circle cx="58.4" cy="495.1" r="3.2"/>
<circle cx="58.5" cy="494.8" r="3.2"/>
<circle cx="43.5" cy="495.1" r="3.2"/>
<circle cx="70.2" cy="495.2" r="3.2"/>
<circle cx="73.9" cy="494.7" r="3.2"/>
<circle cx="75.5" cy="494.9" r="3.2"/>
<circle cx="74.3" cy="495.1" r="3.2"/>
<circle cx="78.1" cy="495.1" r="3.2"/>
<circle cx="72.6" cy="494.9" r="3.2"/>
<circle cx="72.5" cy="495.0" r="3.2"/>
<circle cx="90.6" cy="494.7" r="3.2"/>
<circle cx="75.6" cy="494.9" r="3.2"/>
<circle cx="69.4" cy="495.0" r="3.2"/>
<circle cx="69.1" cy="494.9" r="3.2"/>
<circle cx="69.2" cy="494.9" r="3.2"/>
<circle cx="70.4" cy="489.0" r="3.2"/>
<circle cx="51.1" cy="488.9" r="3.2"/>
<circle cx="52.7" cy="489.0" r="3.2"/>
<circle cx="60.0" cy="489.0" r="3.2"/>
<circle cx="63.4" cy="489.0" r="3.2"/>
<circle cx="73.8" cy="489.0" r="3.2"/>
<circle cx="51.3" cy="488.9" r="3.2"/>
<circle cx="44.6" cy="489.0" r="3.2"/>
<circle cx="54.3" cy="488.9" r="3.2"/>
<circle cx="55.6" cy="488.8" r="3.2"/>
<circle cx="48.3" cy="489.0" r="3.2"/>
<circle cx="59.2" cy="489.0" r="3.2"/>
<circle cx="47.0" cy="489.0" r="3.2"/>
<circle cx="67.2" cy="488.8" r="3.2"/>
<circle cx="53.9" cy="489.1" r="3.2"/>
<circle cx="50.6" cy="488.9" r="3.2"/>
<circle cx="65.1" cy="489.2" r="3.2"/>
<circle cx="68.4" cy="489.4" r="3.2"/>
<circle cx="43.8" cy="489.0" r="3.2"/>
<circle cx="45.1" cy="488.9" r="3.2"/>
<circle cx="57.9" cy="489.1" r="3.2"/>
<circle cx="48.3" cy="489.1" r="3.2"/>
<circle cx="66.9" cy="489.1" r="3.2"/>
<circle cx="55.5" cy="489.4" r="3.2"/>
<circle cx="63.6" cy="489.1" r="3.2"/>
<circle cx="64.0" cy="489.1" r="3.2"/>
<circle cx="52.4" cy="488.9" r="3.2"/>
<circle cx="60.3" cy="489.0" r="3.2"/>
<circle cx="49.3" cy="489.2" r="3.2"/>
<circle cx="70.9" cy="489.3" r="3.2"/>
<circle cx="53.8" cy="488.8" r="3.2"/>
<circle cx="48.1" cy="488.8" r="3.2"/>
<circle cx="58.9" cy="489.1" r="3.2"/>
<circle cx="61.0" cy="488.9" r="3.2"/>
<circle cx="67.6" cy="489.0" r="3.2"/>
<circle cx="53.0" cy="489.2" r="3.2"/>
<circle cx="53.1" cy="489.0" r="3.2"/>
<circle cx="69.2" cy="489.1" r="3.2"/>
<circle cx="63.2" cy="489.0" r="3.2"/>
<circle cx="67.0" cy="488.9" r="3.2"/>
<circle cx="57.1" cy="489.1" r="3.2"/>
<circle cx="47.0" cy="489.2" r="3.2"/>
<circle cx="73.0" cy="489.0" r="3.2"/>
<circle cx="62.0" cy="488.9" r="3.2"/>
<circle cx="56.7" cy="489.0" r="3.2"/>
<circle cx="64.5" cy="489.1" r="3.2"/>
<circle cx="56.5" cy="489.4" r="3.2"/>
<circle cx="59.2" cy="489.3" r="3.2"/>
<circle cx="44.0" cy="489.1" r="3.2"/>
<circle cx="58.6" cy="489.2" r="3.2"/>
<circle cx="43.5" cy="488.9" r="3.2"/>
<circle cx="63.7" cy="489.2" r="3.2"/>
<circle cx="53.9" cy="489.1" r="3.2"/>
<circle cx="44.8" cy="489.0" r="3.2"/>
<circle cx="44.1" cy="489.2" r="3.2"/>
<circle cx="53.1" cy="489.3" r="3.2"/>
<circle cx="71.2" cy="489.0" r="3.2"/>
<circle cx="73.1" cy="488.8" r="3.2"/>
<circle cx="63.3" cy="489.0" r="3.2"/>
<circle cx="63.7" cy="488.8" r="3.2"/>
<circle cx="56.5" cy="489.1" r="3.2"/>
<circle cx="67.5" cy="489.0" r="3.2"/>
<circle cx="45.4" cy="489.3" r="3.2"/>
<circle cx="72.2" cy="489.0" r="3.2"/>
<circle cx="63.0" cy="488.9" r="3.2"/>
<circle cx="57.2" cy="489.2" r="3.2"/>
<circle cx="46.4" cy="489.1" r="3.2"/>
<circle cx="50.2" cy="489.0" r="3.2"/>
<circle cx="53.5" cy="489.0" r="3.2"/>
<circle cx="52.9" cy="488.9" r="3.2"/>
<circle cx="61.3" cy="489.0" r="3.2"/>
<circle cx="67.8" cy="489.2" r="3.2"/>
<circle cx="57.3" cy="489.1" r="3.2"/>
<circle cx="73.5" cy="489.0" r="3.2"/>
<circle cx="49.0" cy="489.0" r="3.2"/>
<circle cx="53.4" cy="489.1" r="3.2"/>
<circle cx="67.3" cy="488.7" r="3.2"/>
<circle cx="47.0" cy="489.0" r="3.2"/>
<circle cx="70.2" cy="489.2" r="3.2"/>
<circle cx="71.5" cy="489.0" r="3.2"/>
<circle cx="51.9" cy="489.0" r="3.2"/>
<circle cx="59.5" cy="489.0" r="3.2"/>
<circle cx="62.7" cy="489.2" r="3.2"/>
<circle cx="46.0" cy="489.0" r="3.2"/>
<circle cx="52.0" cy="489.1" r="3.2"/>
<circle cx="57.4" cy="488.9" r="3.2"/>
<circle cx="63.4" cy="488.8" r="3.2"/>
<circle cx="55.8" cy="489.2" r="3.2"/>
<circle cx="58.2" cy="489.1" r="3.2"/>
<circle cx="55.2" cy="489.0" r="3.2"/>
<circle cx="64.0" cy="489.0" r="3.2"/>
<circle cx="56.8" cy="488.9" r="3.2"/>
<circle cx="71.2" cy="489.2" r="3.2"/>
<circle cx="56.8" cy="489.0" r="3.2"/>
<circle cx="43.8" cy="489.2" r="3.2"/>
<circle cx="54.7" cy="489.2" r="3.2"/>
<circle cx="64.9" cy="489.2" r="3.2"/>
<circle cx="69.2" cy="489.2" r="3.2"/>
<circle cx="47.2" cy="489.1" r="3.2"/>
<circle cx="61.2" cy="489.2" r="3.2"/>
<circle cx="72.2" cy="489.1" r="3.2"/>
<circle cx="61.9" cy="489.2" r="3.2"/>
<circle cx="68.6" cy="489.4" r="3.2"/>
<circle cx="48.6" cy="488.9" r="3.2"/>
<circle cx="53.7" cy="489.1" r="3.2"/>
<circle cx="55.6" cy="489.1" r="3.2"/>
<circle cx="56.8" cy="488.8" r="3.2"/>
<circle cx="47.1" cy="488.8" r="3.2"/>
<circle cx="73.0" cy="489.1" r="3.2"/>
<circle cx="64.4" cy="489.0" r="3.2"/>
<circle cx="47.2" cy="489.3" r="3.2"/>
<circle cx="47.8" cy="489.2" r="3.2"/>
<circle cx="63.7" cy="488.9" r="3.2"/>
<circle cx="53.1" cy="489.2" r="3.2"/>
<circle cx="62.2" cy="489.3" r="3.2"/>
<circle cx="67.8" cy="489.2" r="3.2"/>
<circle cx="54.6" cy="489.0" r="3.2"/>
<circle cx="62.6" cy="489.0" r="3.2"/>
<circle cx="50.8" cy="489.2" r="3.2"/>
<circle cx="44.4" cy="489.1" r="3.2"/>
<circle cx="70.7" cy="489.0" r="3.2"/>
<circle cx="46.2" cy="488.9" r="3.2"/>
<circle cx="75.7" cy="489.1" r="3.2"/>
<circle cx="78.8" cy="489.0" r="3.2"/>
<circle cx="76.7" cy="489.2" r="3.2"/>
<circle cx="75.6" cy="489.2" r="3.2"/>
<circle cx="78.8" cy="488.8" r="3.2"/>
<circle cx="78.3" cy="489.0" r="3.2"/>
<circle cx="76.1" cy="489.2" r="3.2"/>
<circle cx="75.1" cy="489.5" r="3.2"/>
<circle cx="62.1" cy="483.2" r="3.2"/>
<circle cx="45.0" cy="483.1" r="3.2"/>
<circle cx="66.8" cy="483.1" r="3.2"/>
<circle cx="52.4" cy="483.1" r="3.2"/>
<circle cx="61.8" cy="482.9" r="3.2"/>
<circle cx="57.7" cy="483.0" r="3.2"/>
<circle cx="49.1" cy="483.2" r="3.2"/>
<circle cx="51.4" cy="483.0" r="3.2"/>
<circle cx="47.7" cy="483.2" r="3.2"/>
<circle cx="48.1" cy="483.2" r="3.2"/>
<circle cx="58.8" cy="483.2" r="3.2"/>
<circle cx="64.1" cy="483.2" r="3.2"/>
<circle cx="48.8" cy="483.2" r="3.2"/>
<circle cx="52.6" cy="483.1" r="3.2"/>
<circle cx="47.9" cy="483.0" r="3.2"/>
<circle cx="65.6" cy="483.1" r="3.2"/>
<circle cx="56.3" cy="483.2" r="3.2"/>
<circle cx="61.1" cy="483.1" r="3.2"/>
<circle cx="45.2" cy="483.0" r="3.2"/>
<circle cx="50.5" cy="483.4" r="3.2"/>
<circle cx="45.3" cy="483.2" r="3.2"/>
<circle cx="61.3" cy="483.2" r="3.2"/>
<circle cx="47.9" cy="482.9" r="3.2"/>
<circle cx="47.1" cy="483.0" r="3.2"/>
<circle cx="70.6" cy="483.1" r="3.2"/>
<circle cx="49.1" cy="483.1" r="3.2"/>
<circle cx="55.0" cy="483.2" r="3.2"/>
<circle cx="49.0" cy="482.9" r="3.2"/>
<circle cx="69.2" cy="483.1" r="3.2"/>
<circle cx="59.3" cy="483.1" r="3.2"/>
<circle cx="51.8" cy="482.9" r="3.2"/>
<circle cx="46.9" cy="483.1" r="3.2"/>
<circle cx="45.8" cy="483.3" r="3.2"/>
<circle cx="65.2" cy="483.2" r="3.2"/>
<circle cx="51.5" cy="483.1" r="3.2"/>
<circle cx="57.9" cy="482.9" r="3.2"/>
<circle cx="46.3" cy="483.2" r="3.2"/>
<circle cx="65.6" cy="483.2" r="3.2"/>
<circle cx="67.6" cy="483.4" r="3.2"/>
<circle cx="70.5" cy="483.2" r="3.2"/>
<circle cx="52.3" cy="483.4" r="3.2"/>
<circle cx="49.1" cy="483.1" r="3.2"/>
<circle cx="49.0" cy="483.2" r="3.2"/>
<circle cx="44.4" cy="483.1" r="3.2"/>
<circle cx="44.0" cy="483.1" r="3.2"/>
<circle cx="48.6" cy="483.0" r="3.2"/>
<circle cx="70.3" cy="483.1" r="3.2"/>
<circle cx="50.6" cy="483.3" r="3.2"/>
<circle cx="62.7" cy="483.2" r="3.2"/>
<circle cx="45.6" cy="482.9" r="3.2"/>
<circle cx="62.1" cy="483.1" r="3.2"/>
<circle cx="62.8" cy="483.2" r="3.2"/>
<circle cx="48.5" cy="483.5" r="3.2"/>
<circle cx="45.0" cy="483.4" r="3.2"/>
<circle cx="57.8" cy="483.1" r="3.2"/>
<circle cx="72.6" cy="483.2" r="3.2"/>
<circle cx="45.4" cy="483.3" r="3.2"/>
<circle cx="60.8" cy="483.2" r="3.2"/>
<circle cx="60.0" cy="483.1" r="3.2"/>
<circle cx="57.3" cy="483.0" r="3.2"/>
<circle cx="72.5" cy="483.3" r="3.2"/>
<circle cx="53.0" cy="483.3" r="3.2"/>
<circle cx="72.4" cy="483.0" r="3.2"/>
<circle cx="66.7" cy="483.2" r="3.2"/>
<circle cx="72.7" cy="483.1" r="3.2"/>
<circle cx="48.1" cy="483.1" r="3.2"/>
<circle cx="47.3" cy="483.2" r="3.2"/>
<circle cx="71.6" cy="483.2" r="3.2"/>
<circle cx="55.6" cy="483.2" r="3.2"/>
<circle cx="49.7" cy="483.0" r="3.2"/>
<circle cx="72.5" cy="483.4" r="3.2"/>
<circle cx="45.3" cy="483.3" r="3.2"/>
<circle cx="57.6" cy="483.0" r="3.2"/>
<circle cx="61.4" cy="483.2" r="3.2"/>
<circle cx="47.2" cy="483.2" r="3.2"/>
<circle cx="51.0" cy="483.1" r="3.2"/>
<circle cx="45.0" cy="483.2" r="3.2"/>
<circle cx="57.4" cy="483.4" r="3.2"/>
<circle cx="71.6" cy="483.2" r="3.2"/>
<circle cx="52.6" cy="483.0" r="3.2"/>
<circle cx="58.3" cy="483.1" r="3.2"/>
<circle cx="62.7" cy="483.3" r="3.2"/>
<circle cx="50.1" cy="483.5" r="3.2"/>
<circle cx="63.3" cy="483.1" r="3.2"/>
<circle cx="64.7" cy="483.3" r="3.2"/>
<circle cx="55.8" cy="483.2" r="3.2"/>
<circle cx="62.6" cy="483.2" r="3.2"/>
<circle cx="50.0" cy="483.0" r="3.2"/>
<circle cx="72.9" cy="483.1" r="3.2"/>
<circle cx="46.1" cy="482.9" r="3.2"/>
<circle cx="55.6" cy="482.9" r="3.2"/>
<circle cx="52.5" cy="483.0" r="3.2"/>
<circle cx="46.1" cy="483.1" r="3.2"/>
<circle cx="59.7" cy="482.9" r="3.2"/>
<circle cx="64.5" cy="483.1" r="3.2"/>
<circle cx="47.0" cy="483.3" r="3.2"/>
<circle cx="46.5" cy="483.2" r="3.2"/>
<circle cx="60.3" cy="482.9" r="3.2"/>
<circle cx="59.6" cy="482.9" r="3.2"/>
<circle cx="46.0" cy="483.1" r="3.2"/>
<circle cx="49.9" cy="483.4" r="3.2"/>
<circle cx="58.1" cy="483.5" r="3.2"/>
<circle cx="64.3" cy="483.1" r="3.2"/>
<circle cx="66.5" cy="483.4" r="3.2"/>
<circle cx="55.2" cy="483.6" r="3.2"/>
<circle cx="65.9" cy="483.2" r="3.2"/>
<circle cx="53.6" cy="483.5" r="3.2"/>
<circle cx="60.2" cy="483.0" r="3.2"/>
<circle cx="54.1" cy="483.1" r="3.2"/>
<circle cx="47.0" cy="483.1" r="3.2"/>
<circle cx="52.5" cy="483.0" r="3.2"/>
<circle cx="59.4" cy="483.3" r="3.2"/>
<circle cx="70.8" cy="483.1" r="3.2"/>
<circle cx="57.8" cy="483.0" r="3.2"/>
<circle cx="66.9" cy="483.1" r="3.2"/>
<circle cx="54.6" cy="483.0" r="3.2"/>
<circle cx="65.4" cy="483.1" r="3.2"/>
<circle cx="47.8" cy="483.0" r="3.2"/>
<circle cx="73.6" cy="483.4" r="3.2"/>
<circle cx="79.5" cy="483.2" r="3.2"/>
<circle cx="76.0" cy="483.3" r="3.2"/>
<circle cx="73.9" cy="483.2" r="3.2"/>
<circle cx="73.4" cy="482.9" r="3.2"/>
<circle cx="79.4" cy="483.0" r="3.2"/>
<circle cx="78.8" cy="483.2" r="3.2"/>
<circle cx="74.2" cy="483.4" r="3.2"/>
<circle cx="52.7" cy="477.2" r="3.2"/>
<circle cx="59.9" cy="477.2" r="3.2"/>
<circle cx="51.9" cy="477.1" r="3.2"/>
<circle cx="48.8" cy="477.3" r="3.2"/>
<circle cx="69.1" cy="477.1" r="3.2"/>
<circle cx="60.7" cy="477.3" r="3.2"/>
<circle cx="66.9" cy="477.0" r="3.2"/>
<circle cx="65.3" cy="477.2" r="3.2"/>
<circle cx="66.9" cy="477.1" r="3.2"/>
<circle cx="47.5" cy="477.3" r="3.2"/>
<circle cx="47.6" cy="477.3" r="3.2"/>
<circle cx="57.8" cy="477.2" r="3.2"/>
<circle cx="49.3" cy="477.3" r="3.2"/>
<circle cx="54.7" cy="477.3" r="3.2"/>
<circle cx="50.0" cy="477.3" r="3.2"/>
<circle cx="67.7" cy="477.2" r="3.2"/>
<circle cx="60.9" cy="477.4" r="3.2"/>
<circle cx="44.0" cy="477.1" r="3.2"/>
<circle cx="47.5" cy="477.3" r="3.2"/>
<circle cx="44.9" cy="477.3" r="3.2"/>
<circle cx="49.9" cy="477.0" r="3.2"/>
<circle cx="48.7" cy="477.3" r="3.2"/>
<circle cx="54.4" cy="477.2" r="3.2"/>
<circle cx="62.0" cy="477.2" r="3.2"/>
<circle cx="45.8" cy="477.5" r="3.2"/>
<circle cx="57.7" cy="477.3" r="3.2"/>
<circle cx="59.5" cy="477.2" r="3.2"/>
<circle cx="58.6" cy="477.3" r="3.2"/>
<circle cx="51.6" cy="477.5" r="3.2"/>
<circle cx="67.2" cy="477.2" r="3.2"/>
<circle cx="48.2" cy="477.1" r="3.2"/>
<circle cx="46.7" cy="477.3" r="3.2"/>
<circle cx="56.2" cy="477.1" r="3.2"/>
<circle cx="48.2" cy="477.2" r="3.2"/>
<circle cx="44.2" cy="477.3" r="3.2"/>
<circle cx="69.7" cy="477.4" r="3.2"/>
<circle cx="62.4" cy="477.2" r="3.2"/>
<circle cx="48.9" cy="477.4" r="3.2"/>
<circle cx="66.7" cy="477.6" r="3.2"/>
<circle cx="64.0" cy="477.3" r="3.2"/>
<circle cx="51.4" cy="477.2" r="3.2"/>
<circle cx="62.1" cy="477.2" r="3.2"/>
<circle cx="46.3" cy="477.4" r="3.2"/>
<circle cx="60.3" cy="477.2" r="3.2"/>
<circle cx="69.1" cy="477.5" r="3.2"/>
<circle cx="59.8" cy="477.1" r="3.2"/>
<circle cx="53.4" cy="477.0" r="3.2"/>
<circle cx="51.9" cy="477.2" r="3.2"/>
<circle cx="68.4" cy="477.0" r="3.2"/>
<circle cx="47.5" cy="477.0" r="3.2"/>
<circle cx="56.6" cy="477.1" r="3.2"/>
<circle cx="58.3" cy="477.2" r="3.2"/>
<circle cx="56.7" cy="477.2" r="3.2"/>
<circle cx="57.2" cy="477.3" r="3.2"/>
<circle cx="53.9" cy="477.2" r="3.2"/>
<circle cx="55.5" cy="477.3" r="3.2"/>
<circle cx="61.4" cy="477.5" r="3.2"/>
<circle cx="47.1" cy="477.5" r="3.2"/>
<circle cx="46.3" cy="477.5" r="3.2"/>
<circle cx="48.5" cy="477.3" r="3.2"/>
<circle cx="45.1" cy="477.2" r="3.2"/>
<circle cx="52.8" cy="477.1" r="3.2"/>
<circle cx="58.7" cy="477.2" r="3.2"/>
<circle cx="54.7" cy="477.5" r="3.2"/>
<circle cx="60.3" cy="477.1" r="3.2"/>
<circle cx="63.3" cy="477.1" r="3.2"/>
<circle cx="51.4" cy="477.3" r="3.2"/>
<circle cx="65.5" cy="477.4" r="3.2"/>
<circle cx="56.1" cy="476.9" r="3.2"/>
<circle cx="65.8" cy="477.3" r="3.2"/>
<circle cx="68.7" cy="477.2" r="3.2"/>
<circle cx="54.5" cy="477.0" r="3.2"/>
<circle cx="49.7" cy="477.4" r="3.2"/>
<circle cx="69.3" cy="477.1" r="3.2"/>
<circle cx="49.8" cy="477.3" r="3.2"/>
<circle cx="63.2" cy="477.2" r="3.2"/>
<circle cx="55.1" cy="477.3" r="3.2"/>
<circle cx="51.3" cy="477.1" r="3.2"/>
<circle cx="64.8" cy="477.3" r="3.2"/>
<circle cx="60.2" cy="477.5" r="3.2"/>
<circle cx="63.2" cy="477.3" r="3.2"/>
<circle cx="66.7" cy="477.2" r="3.2"/>
<circle cx="63.5" cy="477.4" r="3.2"/>
<circle cx="59.2" cy="476.9" r="3.2"/>
<circle cx="64.2" cy="476.9" r="3.2"/>
<circle cx="56.7" cy="477.3" r="3.2"/>
<circle cx="57.7" cy="477.4" r="3.2"/>
<circle cx="46.7" cy="477.3" r="3.2"/>
<circle cx="43.7" cy="477.2" r="3.2"/>
<circle cx="46.2" cy="477.2" r="3.2"/>
<circle cx="69.1" cy="477.3" r="3.2"/>
<circle cx="62.8" cy="477.4" r="3.2"/>
<circle cx="44.4" cy="477.3" r="3.2"/>
<circle cx="45.4" cy="477.1" r="3.2"/>
<circle cx="46.1" cy="477.1" r="3.2"/>
<circle cx="57.1" cy="477.4" r="3.2"/>
<circle cx="51.6" cy="477.5" r="3.2"/>
<circle cx="50.1" cy="477.3" r="3.2"/>
<circle cx="55.5" cy="477.1" r="3.2"/>
<circle cx="68.4" cy="477.3" r="3.2"/>
<circle cx="64.7" cy="477.3" r="3.2"/>
<circle cx="60.5" cy="477.2" r="3.2"/>
<circle cx="61.4" cy="477.2" r="3.2"/>
<circle cx="67.9" cy="477.1" r="3.2"/>
<circle cx="56.3" cy="477.4" r="3.2"/>
<circle cx="62.5" cy="477.1" r="3.2"/>
<circle cx="70.8" cy="477.3" r="3.2"/>
<circle cx="73.0" cy="477.4" r="3.2"/>
<circle cx="72.1" cy="477.4" r="3.2"/>
<circle cx="71.7" cy="477.0" r="3.2"/>
<circle cx="70.2" cy="477.2" r="3.2"/>
<circle cx="75.2" cy="477.3" r="3.2"/>
<circle cx="53.1" cy="471.2" r="3.2"/>
<circle cx="59.9" cy="471.1" r="3.2"/>
<circle cx="74.8" cy="471.2" r="3.2"/>
<circle cx="77.0" cy="471.4" r="3.2"/>
<circle cx="50.3" cy="471.3" r="3.2"/>
<circle cx="52.1" cy="471.3" r="3.2"/>
<circle cx="60.9" cy="471.6" r="3.2"/>
<circle cx="71.5" cy="471.2" r="3.2"/>
<circle cx="48.3" cy="471.2" r="3.2"/>
<circle cx="46.8" cy="471.3" r="3.2"/>
<circle cx="69.7" cy="471.4" r="3.2"/>
<circle cx="64.1" cy="471.2" r="3.2"/>
<circle cx="55.8" cy="471.3" r="3.2"/>
<circle cx="69.9" cy="471.4" r="3.2"/>
<circle cx="69.1" cy="471.3" r="3.2"/>
<circle cx="78.6" cy="471.4" r="3.2"/>
<circle cx="51.2" cy="471.3" r="3.2"/>
<circle cx="76.3" cy="471.3" r="3.2"/>
<circle cx="70.4" cy="471.2" r="3.2"/>
<circle cx="49.0" cy="471.3" r="3.2"/>
<circle cx="49.3" cy="471.2" r="3.2"/>
<circle cx="56.2" cy="471.2" r="3.2"/>
<circle cx="62.6" cy="471.4" r="3.2"/>
<circle cx="65.2" cy="471.6" r="3.2"/>
<circle cx="48.1" cy="471.3" r="3.2"/>
<circle cx="61.2" cy="471.4" r="3.2"/>
<circle cx="59.4" cy="471.4" r="3.2"/>
<circle cx="68.5" cy="471.7" r="3.2"/>
<circle cx="56.8" cy="471.2" r="3.2"/>
<circle cx="46.7" cy="471.2" r="3.2"/>
<circle cx="61.8" cy="471.2" r="3.2"/>
<circle cx="57.0" cy="471.2" r="3.2"/>
<circle cx="66.6" cy="471.1" r="3.2"/>
<circle cx="50.4" cy="471.1" r="3.2"/>
<circle cx="56.4" cy="471.4" r="3.2"/>
<circle cx="46.5" cy="471.3" r="3.2"/>
<circle cx="45.8" cy="471.3" r="3.2"/>
<circle cx="56.7" cy="471.4" r="3.2"/>
<circle cx="60.9" cy="471.3" r="3.2"/>
<circle cx="68.3" cy="471.5" r="3.2"/>
<circle cx="54.8" cy="471.6" r="3.2"/>
<circle cx="58.8" cy="471.7" r="3.2"/>
<circle cx="46.3" cy="471.5" r="3.2"/>
<circle cx="59.0" cy="471.5" r="3.2"/>
<circle cx="76.8" cy="471.3" r="3.2"/>
<circle cx="70.3" cy="471.3" r="3.2"/>
<circle cx="77.8" cy="471.6" r="3.2"/>
<circle cx="65.7" cy="471.3" r="3.2"/>
<circle cx="76.2" cy="471.4" r="3.2"/>
<circle cx="53.7" cy="471.2" r="3.2"/>
<circle cx="44.0" cy="471.4" r="3.2"/>
<circle cx="46.5" cy="471.4" r="3.2"/>
<circle cx="48.2" cy="471.2" r="3.2"/>
<circle cx="77.8" cy="471.4" r="3.2"/>
<circle cx="50.1" cy="471.1" r="3.2"/>
<circle cx="57.9" cy="471.3" r="3.2"/>
<circle cx="71.5" cy="471.6" r="3.2"/>
<circle cx="45.8" cy="471.2" r="3.2"/>
<circle cx="56.1" cy="471.0" r="3.2"/>
<circle cx="68.0" cy="471.5" r="3.2"/>
<circle cx="56.7" cy="471.2" r="3.2"/>
<circle cx="46.5" cy="470.9" r="3.2"/>
<circle cx="78.0" cy="471.3" r="3.2"/>
<circle cx="45.2" cy="471.3" r="3.2"/>
<circle cx="74.1" cy="471.2" r="3.2"/>
<circle cx="65.3" cy="471.6" r="3.2"/>
<circle cx="45.3" cy="471.4" r="3.2"/>
<circle cx="77.1" cy="471.3" r="3.2"/>
<circle cx="75.1" cy="471.3" r="3.2"/>
<circle cx="46.5" cy="471.3" r="3.2"/>
<circle cx="51.8" cy="471.4" r="3.2"/>
<circle cx="50.9" cy="471.6" r="3.2"/>
<circle cx="59.0" cy="471.6" r="3.2"/>
<circle cx="55.6" cy="471.5" r="3.2"/>
<circle cx="44.4" cy="471.3" r="3.2"/>
<circle cx="61.2" cy="471.1" r="3.2"/>
<circle cx="70.4" cy="471.2" r="3.2"/>
<circle cx="72.2" cy="471.6" r="3.2"/>
<circle cx="60.2" cy="471.3" r="3.2"/>
<circle cx="62.9" cy="471.2" r="3.2"/>
<circle cx="65.6" cy="471.5" r="3.2"/>
<circle cx="72.2" cy="471.4" r="3.2"/>
<circle cx="78.4" cy="471.5" r="3.2"/>
<circle cx="64.6" cy="471.3" r="3.2"/>
<circle cx="47.1" cy="471.4" r="3.2"/>
<circle cx="66.3" cy="471.3" r="3.2"/>
<circle cx="59.5" cy="471.4" r="3.2"/>
<circle cx="76.5" cy="471.0" r="3.2"/>
<circle cx="78.1" cy="471.3" r="3.2"/>
<circle cx="47.3" cy="471.3" r="3.2"/>
<circle cx="60.6" cy="471.2" r="3.2"/>
<circle cx="72.7" cy="471.1" r="3.2"/>
<circle cx="70.2" cy="471.2" r="3.2"/>
<circle cx="51.3" cy="471.3" r="3.2"/>
<circle cx="70.2" cy="471.3" r="3.2"/>
<circle cx="67.4" cy="471.4" r="3.2"/>
<circle cx="64.1" cy="471.2" r="3.2"/>
<circle cx="52.0" cy="471.2" r="3.2"/>
<circle cx="78.0" cy="471.1" r="3.2"/>
<circle cx="66.9" cy="471.3" r="3.2"/>
<circle cx="43.9" cy="471.4" r="3.2"/>
<circle cx="77.1" cy="471.4" r="3.2"/>
<circle cx="45.0" cy="471.5" r="3.2"/>
<circle cx="58.6" cy="471.3" r="3.2"/>
<circle cx="69.8" cy="471.5" r="3.2"/>
<circle cx="44.0" cy="471.1" r="3.2"/>
<circle cx="74.1" cy="471.1" r="3.2"/>
<circle cx="61.1" cy="471.5" r="3.2"/>
<circle cx="74.1" cy="471.5" r="3.2"/>
<circle cx="73.0" cy="471.4" r="3.2"/>
<circle cx="54.7" cy="471.4" r="3.2"/>
<circle cx="63.3" cy="471.2" r="3.2"/>
<circle cx="44.2" cy="471.3" r="3.2"/>
<circle cx="67.8" cy="471.2" r="3.2"/>
<circle cx="46.6" cy="471.1" r="3.2"/>
<circle cx="49.0" cy="471.4" r="3.2"/>
<circle cx="54.1" cy="471.2" r="3.2"/>
<circle cx="64.6" cy="471.1" r="3.2"/>
<circle cx="45.1" cy="471.3" r="3.2"/>
<circle cx="65.3" cy="471.1" r="3.2"/>
<circle cx="44.4" cy="471.4" r="3.2"/>
<circle cx="62.4" cy="471.3" r="3.2"/>
<circle cx="58.3" cy="471.3" r="3.2"/>
<circle cx="52.2" cy="471.4" r="3.2"/>
<circle cx="72.3" cy="471.4" r="3.2"/>
<circle cx="75.0" cy="471.5" r="3.2"/>
<circle cx="53.9" cy="471.4" r="3.2"/>
<circle cx="55.2" cy="471.3" r="3.2"/>
<circle cx="56.9" cy="471.4" r="3.2"/>
<circle cx="64.1" cy="471.4" r="3.2"/>
<circle cx="57.5" cy="471.4" r="3.2"/>
<circle cx="52.7" cy="471.3" r="3.2"/>
<circle cx="58.2" cy="471.2" r="3.2"/>
<circle cx="73.6" cy="471.3" r="3.2"/>
<circle cx="73.4" cy="471.3" r="3.2"/>
<circle cx="76.2" cy="471.2" r="3.2"/>
<circle cx="53.8" cy="471.3" r="3.2"/>
<circle cx="58.7" cy="471.4" r="3.2"/>
<circle cx="78.8" cy="471.4" r="3.2"/>
<circle cx="59.7" cy="471.3" r="3.2"/>
<circle cx="52.1" cy="471.1" r="3.2"/>
<circle cx="53.5" cy="471.4" r="3.2"/>
<circle cx="93.9" cy="471.6" r="3.2"/>
<circle cx="79.5" cy="471.3" r="3.2"/>
<circle cx="79.2" cy="471.7" r="3.2"/>
<circle cx="81.9" cy="471.2" r="3.2"/>
<circle cx="79.9" cy="471.3" r="3.2"/>
<circle cx="79.5" cy="471.6" r="3.2"/>
<circle cx="81.1" cy="471.4" r="3.2"/>
<circle cx="85.4" cy="471.4" r="3.2"/>
<circle cx="71.7" cy="465.3" r="3.2"/>
<circle cx="49.9" cy="465.3" r="3.2"/>
<circle cx="46.2" cy="465.5" r="3.2"/>
<circle cx="45.4" cy="465.5" r="3.2"/>
<circle cx="52.8" cy="465.5" r="3.2"/>
<circle cx="66.0" cy="465.6" r="3.2"/>
<circle cx="73.8" cy="465.5" r="3.2"/>
<circle cx="69.6" cy="465.6" r="3.2"/>
<circle cx="71.6" cy="465.3" r="3.2"/>
<circle cx="70.1" cy="465.2" r="3.2"/>
<circle cx="45.1" cy="465.4" r="3.2"/>
<circle cx="73.0" cy="465.1" r="3.2"/>
<circle cx="63.5" cy="465.3" r="3.2"/>
<circle cx="60.8" cy="465.4" r="3.2"/>
<circle cx="55.8" cy="465.2" r="3.2"/>
<circle cx="65.9" cy="465.5" r="3.2"/>
<circle cx="57.4" cy="465.4" r="3.2"/>
<circle cx="67.3" cy="465.4" r="3.2"/>
<circle cx="58.8" cy="465.1" r="3.2"/>
<circle cx="51.2" cy="465.7" r="3.2"/>
<circle cx="50.8" cy="465.6" r="3.2"/>
<circle cx="51.7" cy="465.4" r="3.2"/>
<circle cx="66.4" cy="465.6" r="3.2"/>
<circle cx="52.0" cy="465.3" r="3.2"/>
<circle cx="52.1" cy="465.2" r="3.2"/>
<circle cx="75.0" cy="465.4" r="3.2"/>
<circle cx="55.4" cy="465.4" r="3.2"/>
<circle cx="44.7" cy="465.3" r="3.2"/>
<circle cx="45.6" cy="465.5" r="3.2"/>
<circle cx="65.5" cy="465.4" r="3.2"/>
<circle cx="55.4" cy="465.5" r="3.2"/>
<circle cx="63.5" cy="465.5" r="3.2"/>
<circle cx="60.3" cy="465.2" r="3.2"/>
<circle cx="57.0" cy="465.5" r="3.2"/>
<circle cx="70.5" cy="465.5" r="3.2"/>
<circle cx="45.3" cy="465.5" r="3.2"/>
<circle cx="71.0" cy="465.3" r="3.2"/>
<circle cx="44.3" cy="465.6" r="3.2"/>
<circle cx="67.1" cy="465.5" r="3.2"/>
<circle cx="55.2" cy="465.5" r="3.2"/>
<circle cx="60.7" cy="465.5" r="3.2"/>
<circle cx="66.8" cy="465.1" r="3.2"/>
<circle cx="64.0" cy="465.5" r="3.2"/>
<circle cx="54.6" cy="465.3" r="3.2"/>
<circle cx="45.6" cy="465.1" r="3.2"/>
<circle cx="45.7" cy="465.4" r="3.2"/>
<circle cx="60.1" cy="465.3" r="3.2"/>
<circle cx="51.6" cy="465.3" r="3.2"/>
<circle cx="72.8" cy="465.4" r="3.2"/>
<circle cx="52.2" cy="465.4" r="3.2"/>
<circle cx="59.0" cy="465.2" r="3.2"/>
<circle cx="53.8" cy="465.5" r="3.2"/>
<circle cx="51.3" cy="465.4" r="3.2"/>
<circle cx="70.5" cy="465.6" r="3.2"/>
<circle cx="60.1" cy="465.4" r="3.2"/>
<circle cx="48.6" cy="465.6" r="3.2"/>
<circle cx="49.9" cy="465.1" r="3.2"/>
<circle cx="69.7" cy="465.3" r="3.2"/>
<circle cx="73.0" cy="465.5" r="3.2"/>
<circle cx="44.4" cy="465.3" r="3.2"/>
<circle cx="71.7" cy="465.5" r="3.2"/>
<circle cx="49.9" cy="465.4" r="3.2"/>
<circle cx="52.1" cy="465.4" r="3.2"/>
<circle cx="47.9" cy="465.3" r="3.2"/>
<circle cx="73.7" cy="465.6" r="3.2"/>
<circle cx="73.3" cy="465.6" r="3.2"/>
<circle cx="56.4" cy="465.4" r="3.2"/>
<circle cx="55.6" cy="465.5" r="3.2"/>
<circle cx="67.4" cy="465.4" r="3.2"/>
<circle cx="65.3" cy="465.5" r="3.2"/>
<circle cx="68.2" cy="465.4" r="3.2"/>
<circle cx="56.8" cy="465.6" r="3.2"/>
<circle cx="56.5" cy="465.3" r="3.2"/>
<circle cx="74.4" cy="465.5" r="3.2"/>
<circle cx="62.8" cy="465.2" r="3.2"/>
<circle cx="64.5" cy="465.1" r="3.2"/>
<circle cx="45.4" cy="465.4" r="3.2"/>
<circle cx="44.7" cy="465.5" r="3.2"/>
<circle cx="46.8" cy="465.3" r="3.2"/>
<circle cx="54.3" cy="465.2" r="3.2"/>
<circle cx="73.0" cy="465.6" r="3.2"/>
<circle cx="73.9" cy="465.5" r="3.2"/>
<circle cx="72.1" cy="465.5" r="3.2"/>
<circle cx="65.0" cy="465.2" r="3.2"/>
<circle cx="70.2" cy="465.5" r="3.2"/>
<circle cx="56.5" cy="465.5" r="3.2"/>
<circle cx="72.1" cy="465.7" r="3.2"/>
<circle cx="67.4" cy="465.3" r="3.2"/>
<circle cx="50.2" cy="465.4" r="3.2"/>
<circle cx="44.3" cy="465.6" r="3.2"/>
<circle cx="44.5" cy="465.5" r="3.2"/>
<circle cx="59.5" cy="465.4" r="3.2"/>
<circle cx="73.4" cy="465.5" r="3.2"/>
<circle cx="61.1" cy="465.6" r="3.2"/>
<circle cx="65.7" cy="465.4" r="3.2"/>
<circle cx="66.1" cy="465.1" r="3.2"/>
<circle cx="51.2" cy="465.5" r="3.2"/>
<circle cx="57.3" cy="465.4" r="3.2"/>
<circle cx="72.8" cy="465.5" r="3.2"/>
<circle cx="49.0" cy="465.3" r="3.2"/>
<circle cx="48.6" cy="465.6" r="3.2"/>
<circle cx="73.1" cy="465.2" r="3.2"/>
<circle cx="54.8" cy="465.4" r="3.2"/>
<circle cx="60.4" cy="465.2" r="3.2"/>
<circle cx="47.1" cy="465.3" r="3.2"/>
<circle cx="72.1" cy="465.3" r="3.2"/>
<circle cx="52.1" cy="465.4" r="3.2"/>
<circle cx="68.2" cy="465.4" r="3.2"/>
<circle cx="72.6" cy="465.2" r="3.2"/>
<circle cx="58.2" cy="465.2" r="3.2"/>
<circle cx="58.8" cy="465.5" r="3.2"/>
<circle cx="46.7" cy="465.4" r="3.2"/>
<circle cx="68.6" cy="465.5" r="3.2"/>
<circle cx="63.7" cy="465.7" r="3.2"/>
<circle cx="70.3" cy="465.4" r="3.2"/>
<circle cx="63.7" cy="465.2" r="3.2"/>
<circle cx="66.0" cy="465.4" r="3.2"/>
<circle cx="49.8" cy="465.3" r="3.2"/>
<circle cx="56.0" cy="465.4" r="3.2"/>
<circle cx="54.3" cy="465.3" r="3.2"/>
<circle cx="60.1" cy="465.4" r="3.2"/>
<circle cx="43.9" cy="465.4" r="3.2"/>
<circle cx="52.1" cy="465.2" r="3.2"/>
<circle cx="53.0" cy="465.3" r="3.2"/>
<circle cx="45.7" cy="465.2" r="3.2"/>
<circle cx="62.5" cy="465.3" r="3.2"/>
<circle cx="79.5" cy="465.4" r="3.2"/>
<circle cx="75.6" cy="465.4" r="3.2"/>
<circle cx="78.4" cy="465.2" r="3.2"/>
<circle cx="75.1" cy="465.3" r="3.2"/>
<circle cx="75.3" cy="465.4" r="3.2"/>
<circle cx="75.2" cy="465.5" r="3.2"/>
<circle cx="82.8" cy="465.4" r="3.2"/>
<circle cx="81.1" cy="465.4" r="3.2"/>
<circle cx="61.0" cy="459.4" r="3.2"/>
<circle cx="46.6" cy="459.4" r="3.2"/>
<circle cx="64.8" cy="459.5" r="3.2"/>
<circle cx="47.0" cy="459.6" r="3.2"/>
<circle cx="48.9" cy="459.6" r="3.2"/>
<circle cx="44.7" cy="459.6" r="3.2"/>
<circle cx="66.3" cy="459.6" r="3.2"/>
<circle cx="46.6" cy="459.4" r="3.2"/>
<circle cx="60.1" cy="459.7" r="3.2"/>
<circle cx="53.6" cy="459.4" r="3.2"/>
<circle cx="60.2" cy="459.1" r="3.2"/>
<circle cx="44.1" cy="459.6" r="3.2"/>
<circle cx="67.7" cy="459.4" r="3.2"/>
<circle cx="50.2" cy="459.7" r="3.2"/>
<circle cx="60.7" cy="459.6" r="3.2"/>
<circle cx="55.7" cy="459.6" r="3.2"/>
<circle cx="52.7" cy="459.4" r="3.2"/>
<circle cx="65.9" cy="459.5" r="3.2"/>
<circle cx="63.9" cy="459.3" r="3.2"/>
<circle cx="54.5" cy="459.4" r="3.2"/>
<circle cx="59.0" cy="459.6" r="3.2"/>
<circle cx="44.1" cy="459.4" r="3.2"/>
<circle cx="47.6" cy="459.7" r="3.2"/>
<circle cx="53.8" cy="459.7" r="3.2"/>
<circle cx="55.5" cy="459.4" r="3.2"/>
<circle cx="52.9" cy="459.5" r="3.2"/>
<circle cx="60.4" cy="459.6" r="3.2"/>
<circle cx="67.3" cy="459.4" r="3.2"/>
<circle cx="54.5" cy="459.4" r="3.2"/>
<circle cx="49.2" cy="459.9" r="3.2"/>
<circle cx="65.5" cy="459.7" r="3.2"/>
<circle cx="56.4" cy="459.6" r="3.2"/>
<circle cx="67.4" cy="459.5" r="3.2"/>
<circle cx="59.2" cy="459.5" r="3.2"/>
<circle cx="45.2" cy="459.6" r="3.2"/>
<circle cx="65.5" cy="459.5" r="3.2"/>
<circle cx="46.5" cy="459.4" r="3.2"/>
<circle cx="62.2" cy="459.3" r="3.2"/>
<circle cx="56.8" cy="459.4" r="3.2"/>
<circle cx="51.4" cy="459.7" r="3.2"/>
<circle cx="69.2" cy="459.8" r="3.2"/>
<circle cx="52.9" cy="459.6" r="3.2"/>
<circle cx="64.9" cy="459.7" r="3.2"/>
<circle cx="43.6" cy="459.1" r="3.2"/>
<circle cx="46.3" cy="459.5" r="3.2"/>
<circle cx="64.4" cy="459.3" r="3.2"/>
<circle cx="62.1" cy="459.5" r="3.2"/>
<circle cx="43.9" cy="459.1" r="3.2"/>
<circle cx="45.5" cy="459.7" r="3.2"/>
<circle cx="62.2" cy="459.4" r="3.2"/>
<circle cx="44.6" cy="459.6" r="3.2"/>
<circle cx="55.7" cy="459.3" r="3.2"/>
<circle cx="68.3" cy="459.6" r="3.2"/>
<circle cx="63.6" cy="459.5" r="3.2"/>
<circle cx="54.9" cy="459.6" r="3.2"/>
<circle cx="66.8" cy="459.4" r="3.2"/>
<circle cx="60.5" cy="459.2" r="3.2"/>
<circle cx="67.8" cy="459.1" r="3.2"/>
<circle cx="48.2" cy="459.5" r="3.2"/>
<circle cx="60.0" cy="459.4" r="3.2"/>
<circle cx="45.6" cy="459.3" r="3.2"/>
<circle cx="62.3" cy="459.7" r="3.2"/>
<circle cx="62.3" cy="459.7" r="3.2"/>
<circle cx="63.1" cy="459.8" r="3.2"/>
<circle cx="62.4" cy="459.4" r="3.2"/>
<circle cx="61.2" cy="459.5" r="3.2"/>
<circle cx="58.0" cy="459.2" r="3.2"/>
<circle cx="54.1" cy="459.6" r="3.2"/>
<circle cx="59.4" cy="459.6" r="3.2"/>
<circle cx="53.9" cy="459.5" r="3.2"/>
<circle cx="44.2" cy="459.5" r="3.2"/>
<circle cx="65.3" cy="459.5" r="3.2"/>
<circle cx="45.6" cy="459.7" r="3.2"/>
<circle cx="61.2" cy="459.5" r="3.2"/>
<circle cx="57.8" cy="459.4" r="3.2"/>
<circle cx="45.3" cy="459.5" r="3.2"/>
<circle cx="58.0" cy="459.4" r="3.2"/>
<circle cx="53.3" cy="459.3" r="3.2"/>
<circle cx="52.5" cy="459.6" r="3.2"/>
<circle cx="57.0" cy="459.7" r="3.2"/>
<circle cx="68.6" cy="459.4" r="3.2"/>
<circle cx="48.8" cy="459.3" r="3.2"/>
<circle cx="47.5" cy="459.4" r="3.2"/>
<circle cx="43.8" cy="459.5" r="3.2"/>
<circle cx="54.4" cy="459.7" r="3.2"/>
<circle cx="64.2" cy="459.5" r="3.2"/>
<circle cx="59.7" cy="459.6" r="3.2"/>
<circle cx="56.5" cy="459.7" r="3.2"/>
<circle cx="53.8" cy="459.3" r="3.2"/>
<circle cx="60.2" cy="459.5" r="3.2"/>
<circle cx="47.0" cy="459.4" r="3.2"/>
<circle cx="61.1" cy="459.8" r="3.2"/>
<circle cx="53.6" cy="459.8" r="3.2"/>
<circle cx="47.4" cy="459.3" r="3.2"/>
<circle cx="57.3" cy="459.7" r="3.2"/>
<circle cx="46.5" cy="459.3" r="3.2"/>
<circle cx="67.0" cy="459.5" r="3.2"/>
<circle cx="53.5" cy="459.8" r="3.2"/>
<circle cx="62.4" cy="459.5" r="3.2"/>
<circle cx="59.7" cy="459.6" r="3.2"/>
<circle cx="54.9" cy="459.3" r="3.2"/>
<circle cx="47.0" cy="459.3" r="3.2"/>
<circle cx="53.7" cy="459.5" r="3.2"/>
<circle cx="50.1" cy="459.7" r="3.2"/>
<circle cx="66.0" cy="459.6" r="3.2"/>
<circle cx="63.9" cy="459.6" r="3.2"/>
<circle cx="74.9" cy="459.3" r="3.2"/>
<circle cx="88.2" cy="459.6" r="3.2"/>
<circle cx="72.3" cy="459.3" r="3.2"/>
<circle cx="77.6" cy="459.6" r="3.2"/>
<circle cx="74.9" cy="459.6" r="3.2"/>
<circle cx="73.6" cy="459.2" r="3.2"/>
<circle cx="73.3" cy="459.6" r="3.2"/>
<circle cx="72.2" cy="459.8" r="3.2"/>
<circle cx="70.3" cy="459.4" r="3.2"/>
<circle cx="85.1" cy="459.6" r="3.2"/>
<circle cx="62.8" cy="468.9" r="3.2"/>
<circle cx="66.6" cy="479.0" r="3.2"/>
<circle cx="53.5" cy="491.7" r="3.2"/>
<circle cx="59.3" cy="463.0" r="3.2"/>
<circle cx="43.9" cy="459.9" r="3.2"/>
<circle cx="49.8" cy="490.3" r="3.2"/>
<circle cx="67.0" cy="492.6" r="3.2"/>
<circle cx="57.1" cy="489.6" r="3.2"/>
<circle cx="65.2" cy="494.0" r="3.2"/>
<circle cx="48.0" cy="472.7" r="3.2"/>
<circle cx="48.7" cy="486.3" r="3.2"/>
<circle cx="43.9" cy="486.6" r="3.2"/>
<circle cx="44.4" cy="475.6" r="3.2"/>
<circle cx="45.8" cy="483.0" r="3.2"/>
<circle cx="55.2" cy="476.3" r="3.2"/>
<circle cx="44.8" cy="458.4" r="3.2"/>
<circle cx="46.7" cy="467.1" r="3.2"/>
<circle cx="50.1" cy="468.0" r="3.2"/>
<circle cx="56.9" cy="494.3" r="3.2"/>
<circle cx="56.8" cy="476.3" r="3.2"/>
<circle cx="56.5" cy="453.6" r="3.2"/>
<circle cx="66.9" cy="453.1" r="3.2"/>
<circle cx="54.5" cy="453.6" r="3.2"/>
<circle cx="50.4" cy="453.5" r="3.2"/>
<circle cx="61.2" cy="453.5" r="3.2"/>
<circle cx="65.2" cy="453.7" r="3.2"/>
<circle cx="69.3" cy="453.1" r="3.2"/>
<circle cx="62.1" cy="453.8" r="3.2"/>
<circle cx="54.7" cy="453.8" r="3.2"/>
<circle cx="63.4" cy="453.4" r="3.2"/>
<circle cx="71.5" cy="454.0" r="3.2"/>
<circle cx="51.1" cy="453.3" r="3.2"/>
<circle cx="52.9" cy="453.8" r="3.2"/>
<circle cx="46.2" cy="453.3" r="3.2"/>
<circle cx="54.8" cy="453.5" r="3.2"/>
<circle cx="50.7" cy="453.5" r="3.2"/>
<circle cx="61.3" cy="453.2" r="3.2"/>
<circle cx="47.6" cy="453.3" r="3.2"/>
<circle cx="58.7" cy="453.6" r="3.2"/>
<circle cx="70.5" cy="453.7" r="3.2"/>
<circle cx="70.9" cy="453.7" r="3.2"/>
<circle cx="44.2" cy="453.3" r="3.2"/>
<circle cx="44.0" cy="453.9" r="3.2"/>
<circle cx="62.7" cy="453.3" r="3.2"/>
<circle cx="62.4" cy="453.3" r="3.2"/>
<circle cx="61.2" cy="453.3" r="3.2"/>
<circle cx="50.0" cy="453.9" r="3.2"/>
<circle cx="57.3" cy="453.8" r="3.2"/>
<circle cx="44.2" cy="454.0" r="3.2"/>
<circle cx="51.6" cy="453.1" r="3.2"/>
<circle cx="72.8" cy="453.5" r="3.2"/>
<circle cx="77.7" cy="453.6" r="3.2"/>
<circle cx="76.3" cy="453.5" r="3.2"/>
<circle cx="74.4" cy="453.6" r="3.2"/>
<circle cx="45.1" cy="453.6" r="3.2"/>
<circle cx="43.8" cy="453.1" r="3.2"/>
<circle cx="47.9" cy="453.5" r="3.2"/>
<circle cx="48.6" cy="453.3" r="3.2"/>
<circle cx="49.8" cy="453.2" r="3.2"/>
<circle cx="64.6" cy="447.9" r="3.2"/>
<circle cx="47.0" cy="447.5" r="3.2"/>
<circle cx="59.8" cy="447.8" r="3.2"/>
<circle cx="64.5" cy="448.1" r="3.2"/>
<circle cx="61.0" cy="447.3" r="3.2"/>
<circle cx="47.9" cy="447.3" r="3.2"/>
<circle cx="47.5" cy="447.8" r="3.2"/>
<circle cx="48.1" cy="447.2" r="3.2"/>
<circle cx="79.0" cy="477.2" r="3.2"/>
<circle cx="79.5" cy="477.2" r="3.2"/>
<circle cx="89.0" cy="477.2" r="3.2"/>
<circle cx="87.0" cy="465.4" r="3.2"/>
<circle cx="95.0" cy="465.4" r="3.2"/>
<circle cx="90.0" cy="459.5" r="3.2"/>
<circle cx="82.0" cy="471.3" r="3.2"/>
<circle cx="82.5" cy="471.3" r="3.2"/>
<circle cx="44.0" cy="436.0" r="3.2"/>
<circle cx="50.7" cy="436.0" r="3.2"/>
<circle cx="57.3" cy="436.0" r="3.2"/>
<circle cx="58.0" cy="436.3" r="3.2"/>
<circle cx="62.0" cy="436.0" r="3.2"/>
<circle cx="62.6" cy="436.2" r="3.2"/>
<circle cx="64.0" cy="436.0" r="3.2"/>
<circle cx="68.7" cy="436.0" r="3.2"/>
<circle cx="73.3" cy="436.0" r="3.2"/>
<circle cx="78.0" cy="436.0" r="3.2"/>
<circle cx="78.7" cy="436.2" r="3.2"/>
<circle cx="84.0" cy="436.0" r="3.2"/>
<circle cx="90.0" cy="436.0" r="3.2"/>
<circle cx="83.0" cy="436.0" r="3.2"/>
<circle cx="90.5" cy="436.3" r="3.2"/>
<circle cx="45.3" cy="442.0" r="3.2"/>
<circle cx="46.0" cy="442.2" r="3.2"/>
<circle cx="50.0" cy="442.0" r="3.2"/>
<circle cx="59.3" cy="442.0" r="3.2"/>
<circle cx="60.0" cy="442.3" r="3.2"/>
<circle cx="68.7" cy="442.0" r="3.2"/>
<circle cx="75.3" cy="442.0" r="3.2"/>
<circle cx="94.7" cy="442.0" r="3.2"/>
<circle cx="95.2" cy="441.4" r="3.2"/>
<circle cx="44.0" cy="448.0" r="3.2"/>
<circle cx="50.7" cy="448.0" r="3.2"/>
<circle cx="51.3" cy="448.2" r="3.2"/>
<circle cx="57.3" cy="448.0" r="3.2"/>
<circle cx="58.0" cy="448.3" r="3.2"/>
<circle cx="62.7" cy="448.0" r="3.2"/>
<circle cx="70.7" cy="448.0" r="3.2"/>
<circle cx="79.3" cy="448.0" r="3.2"/>
<circle cx="80.0" cy="448.2" r="3.2"/>
<circle cx="85.3" cy="448.0" r="3.2"/>
<circle cx="92.7" cy="448.0" r="3.2"/>
<circle cx="85.0" cy="448.0" r="3.2"/>
<circle cx="93.0" cy="447.4" r="3.2"/>
<circle cx="67.3" cy="406.3" r="3.2"/>
<circle cx="74.0" cy="406.3" r="3.2"/>
<circle cx="84.7" cy="412.1" r="3.2"/>
<circle cx="94.7" cy="412.1" r="3.2"/>
<circle cx="53.3" cy="417.9" r="3.2"/>
<circle cx="79.7" cy="417.9" r="3.2"/>
<circle cx="81.0" cy="418.0" r="3.2"/>
<circle cx="82.0" cy="424.0" r="3.2"/>
<circle cx="64.7" cy="423.7" r="3.2"/>
<circle cx="70.9" cy="423.7" r="3.2"/>
<circle cx="82.0" cy="424.1" r="3.2"/>
<circle cx="56.0" cy="430.0" r="3.2"/>
<circle cx="60.0" cy="430.0" r="3.2"/>
<circle cx="72.0" cy="430.0" r="3.2"/>
<circle cx="75.3" cy="430.0" r="3.2"/>
<circle cx="102.7" cy="453.7" r="3.2"/>
<circle cx="103.3" cy="453.5" r="3.2"/>
<circle cx="112.7" cy="461.7" r="3.2"/>
<circle cx="94.7" cy="465.0" r="3.2"/>
<circle cx="89.3" cy="477.0" r="3.2"/>
<circle cx="90.7" cy="459.7" r="3.2"/>
<circle cx="82.7" cy="450.3" r="3.2"/>
<circle cx="93.3" cy="447.7" r="3.2"/>
<circle cx="81.0" cy="454.0" r="3.2"/>
<circle cx="91.0" cy="453.6" r="3.2"/>
<circle cx="86.0" cy="466.0" r="3.2"/>
<circle cx="94.0" cy="466.0" r="3.2"/>
<circle cx="89.0" cy="477.0" r="3.2"/>
<circle cx="82.0" cy="483.0" r="3.2"/>
<circle cx="82.0" cy="495.0" r="3.2"/>
<circle cx="83.0" cy="495.0" r="3.2"/>
<circle cx="94.4" cy="464.8" r="3.2"/>
<circle cx="89.5" cy="477.4" r="3.2"/>
<circle cx="86.6" cy="471.6" r="3.2"/>
</g>
<g class="pts">
<circle cx="361.2" cy="495.1" r="3.2"/>
<circle cx="381.0" cy="494.5" r="3.2"/>
<circle cx="376.0" cy="495.2" r="3.2"/>
<circle cx="356.9" cy="495.0" r="3.2"/>
<circle cx="356.9" cy="494.8" r="3.2"/>
<circle cx="365.7" cy="494.9" r="3.2"/>
<circle cx="377.9" cy="494.8" r="3.2"/>
<circle cx="374.0" cy="494.9" r="3.2"/>
<circle cx="379.7" cy="495.2" r="3.2"/>
<circle cx="370.8" cy="495.1" r="3.2"/>
<circle cx="359.6" cy="495.2" r="3.2"/>
<circle cx="361.4" cy="494.9" r="3.2"/>
<circle cx="380.3" cy="494.9" r="3.2"/>
<circle cx="369.3" cy="494.7" r="3.2"/>
<circle cx="358.2" cy="494.9" r="3.2"/>
<circle cx="372.8" cy="494.7" r="3.2"/>
<circle cx="357.0" cy="494.9" r="3.2"/>
<circle cx="368.2" cy="495.0" r="3.2"/>
<circle cx="365.5" cy="494.8" r="3.2"/>
<circle cx="378.2" cy="495.2" r="3.2"/>
<circle cx="371.0" cy="495.1" r="3.2"/>
<circle cx="357.9" cy="494.5" r="3.2"/>
<circle cx="368.9" cy="495.2" r="3.2"/>
<circle cx="364.1" cy="495.0" r="3.2"/>
<circle cx="366.5" cy="495.2" r="3.2"/>
<circle cx="363.9" cy="494.7" r="3.2"/>
<circle cx="373.8" cy="495.0" r="3.2"/>
<circle cx="376.2" cy="495.0" r="3.2"/>
<circle cx="367.6" cy="495.0" r="3.2"/>
<circle cx="366.2" cy="495.1" r="3.2"/>
<circle cx="366.1" cy="495.2" r="3.2"/>
<circle cx="370.5" cy="494.9" r="3.2"/>
<circle cx="356.0" cy="495.2" r="3.2"/>
<circle cx="358.4" cy="494.9" r="3.2"/>
<circle cx="380.0" cy="495.0" r="3.2"/>
<circle cx="358.3" cy="495.4" r="3.2"/>
<circle cx="366.8" cy="495.0" r="3.2"/>
<circle cx="366.7" cy="494.8" r="3.2"/>
<circle cx="361.4" cy="495.0" r="3.2"/>
<circle cx="364.4" cy="494.8" r="3.2"/>
<circle cx="371.8" cy="495.3" r="3.2"/>
<circle cx="378.3" cy="495.2" r="3.2"/>
<circle cx="368.9" cy="495.0" r="3.2"/>
<circle cx="364.4" cy="495.3" r="3.2"/>
<circle cx="356.3" cy="495.3" r="3.2"/>
<circle cx="362.4" cy="495.4" r="3.2"/>
<circle cx="365.8" cy="494.6" r="3.2"/>
<circle cx="379.2" cy="494.8" r="3.2"/>
<circle cx="368.2" cy="494.6" r="3.2"/>
<circle cx="375.0" cy="495.0" r="3.2"/>
<circle cx="380.8" cy="494.7" r="3.2"/>
<circle cx="360.4" cy="494.9" r="3.2"/>
<circle cx="355.2" cy="495.0" r="3.2"/>
<circle cx="367.4" cy="495.0" r="3.2"/>
<circle cx="370.5" cy="494.6" r="3.2"/>
<circle cx="370.6" cy="495.1" r="3.2"/>
<circle cx="357.6" cy="494.7" r="3.2"/>
<circle cx="356.9" cy="495.1" r="3.2"/>
<circle cx="363.4" cy="494.9" r="3.2"/>
<circle cx="373.8" cy="494.8" r="3.2"/>
<circle cx="357.5" cy="495.2" r="3.2"/>
<circle cx="366.0" cy="495.1" r="3.2"/>
<circle cx="360.3" cy="495.3" r="3.2"/>
<circle cx="380.5" cy="494.7" r="3.2"/>
<circle cx="363.2" cy="494.8" r="3.2"/>
<circle cx="380.0" cy="495.3" r="3.2"/>
<circle cx="372.6" cy="494.7" r="3.2"/>
<circle cx="376.4" cy="494.8" r="3.2"/>
<circle cx="359.7" cy="495.2" r="3.2"/>
<circle cx="360.0" cy="495.1" r="3.2"/>
<circle cx="377.3" cy="495.5" r="3.2"/>
<circle cx="358.1" cy="495.2" r="3.2"/>
<circle cx="365.0" cy="494.8" r="3.2"/>
<circle cx="364.5" cy="495.3" r="3.2"/>
<circle cx="377.8" cy="495.2" r="3.2"/>
<circle cx="356.8" cy="495.2" r="3.2"/>
<circle cx="362.1" cy="494.9" r="3.2"/>
<circle cx="359.8" cy="495.3" r="3.2"/>
<circle cx="374.9" cy="495.2" r="3.2"/>
<circle cx="372.6" cy="495.4" r="3.2"/>
<circle cx="370.2" cy="495.1" r="3.2"/>
<circle cx="375.9" cy="495.0" r="3.2"/>
<circle cx="369.6" cy="494.9" r="3.2"/>
<circle cx="368.3" cy="495.0" r="3.2"/>
<circle cx="364.2" cy="494.7" r="3.2"/>
<circle cx="379.6" cy="495.3" r="3.2"/>
<circle cx="371.9" cy="495.6" r="3.2"/>
<circle cx="358.4" cy="495.2" r="3.2"/>
<circle cx="359.0" cy="495.3" r="3.2"/>
<circle cx="362.0" cy="495.1" r="3.2"/>
<circle cx="374.6" cy="495.4" r="3.2"/>
<circle cx="393.4" cy="495.0" r="3.2"/>
<circle cx="393.8" cy="495.0" r="3.2"/>
<circle cx="362.2" cy="479.8" r="3.2"/>
<circle cx="375.7" cy="480.2" r="3.2"/>
<circle cx="358.4" cy="480.1" r="3.2"/>
<circle cx="358.3" cy="479.8" r="3.2"/>
<circle cx="372.0" cy="479.2" r="3.2"/>
<circle cx="367.6" cy="479.7" r="3.2"/>
<circle cx="377.3" cy="479.8" r="3.2"/>
<circle cx="359.8" cy="479.7" r="3.2"/>
<circle cx="370.3" cy="480.2" r="3.2"/>
<circle cx="369.2" cy="479.7" r="3.2"/>
<circle cx="370.7" cy="479.8" r="3.2"/>
<circle cx="364.7" cy="479.9" r="3.2"/>
<circle cx="374.2" cy="480.0" r="3.2"/>
<circle cx="371.8" cy="479.9" r="3.2"/>
<circle cx="361.7" cy="479.7" r="3.2"/>
<circle cx="380.1" cy="479.8" r="3.2"/>
<circle cx="379.5" cy="479.9" r="3.2"/>
<circle cx="363.7" cy="479.7" r="3.2"/>
<circle cx="366.4" cy="479.5" r="3.2"/>
<circle cx="358.8" cy="479.5" r="3.2"/>
<circle cx="372.5" cy="479.7" r="3.2"/>
<circle cx="371.7" cy="479.8" r="3.2"/>
<circle cx="355.6" cy="479.8" r="3.2"/>
<circle cx="367.8" cy="479.9" r="3.2"/>
<circle cx="380.0" cy="479.6" r="3.2"/>
<circle cx="360.2" cy="479.8" r="3.2"/>
<circle cx="380.3" cy="479.8" r="3.2"/>
<circle cx="366.9" cy="480.0" r="3.2"/>
<circle cx="366.9" cy="479.6" r="3.2"/>
<circle cx="360.5" cy="479.4" r="3.2"/>
<circle cx="365.7" cy="480.1" r="3.2"/>
<circle cx="376.7" cy="479.5" r="3.2"/>
<circle cx="369.2" cy="479.7" r="3.2"/>
<circle cx="369.2" cy="479.9" r="3.2"/>
<circle cx="374.1" cy="479.9" r="3.2"/>
<circle cx="370.2" cy="479.7" r="3.2"/>
<circle cx="359.0" cy="479.7" r="3.2"/>
<circle cx="373.2" cy="479.9" r="3.2"/>
<circle cx="358.9" cy="479.9" r="3.2"/>
<circle cx="364.9" cy="479.6" r="3.2"/>
<circle cx="367.3" cy="479.6" r="3.2"/>
<circle cx="358.5" cy="479.7" r="3.2"/>
<circle cx="369.0" cy="479.8" r="3.2"/>
<circle cx="372.2" cy="479.7" r="3.2"/>
<circle cx="376.7" cy="479.6" r="3.2"/>
<circle cx="368.1" cy="479.9" r="3.2"/>
<circle cx="362.3" cy="479.7" r="3.2"/>
<circle cx="361.9" cy="479.8" r="3.2"/>
<circle cx="362.7" cy="479.8" r="3.2"/>
<circle cx="374.4" cy="479.6" r="3.2"/>
<circle cx="364.6" cy="479.9" r="3.2"/>
<circle cx="360.8" cy="479.9" r="3.2"/>
<circle cx="378.0" cy="479.6" r="3.2"/>
<circle cx="361.2" cy="479.8" r="3.2"/>
<circle cx="377.4" cy="480.0" r="3.2"/>
<circle cx="364.7" cy="480.1" r="3.2"/>
<circle cx="380.9" cy="480.0" r="3.2"/>
<circle cx="358.9" cy="479.8" r="3.2"/>
<circle cx="379.9" cy="479.9" r="3.2"/>
<circle cx="364.6" cy="480.1" r="3.2"/>
<circle cx="372.2" cy="479.7" r="3.2"/>
<circle cx="355.6" cy="479.5" r="3.2"/>
<circle cx="375.4" cy="480.1" r="3.2"/>
<circle cx="364.3" cy="479.5" r="3.2"/>
<circle cx="379.7" cy="479.6" r="3.2"/>
<circle cx="376.7" cy="479.9" r="3.2"/>
<circle cx="368.3" cy="480.0" r="3.2"/>
<circle cx="371.1" cy="479.7" r="3.2"/>
<circle cx="369.2" cy="479.6" r="3.2"/>
<circle cx="358.9" cy="479.9" r="3.2"/>
<circle cx="365.7" cy="480.2" r="3.2"/>
<circle cx="364.2" cy="479.7" r="3.2"/>
<circle cx="355.9" cy="480.1" r="3.2"/>
<circle cx="355.6" cy="479.9" r="3.2"/>
<circle cx="363.8" cy="479.9" r="3.2"/>
<circle cx="379.3" cy="479.7" r="3.2"/>
<circle cx="372.7" cy="479.8" r="3.2"/>
<circle cx="376.8" cy="479.9" r="3.2"/>
<circle cx="378.3" cy="479.8" r="3.2"/>
<circle cx="380.6" cy="479.9" r="3.2"/>
<circle cx="364.8" cy="479.7" r="3.2"/>
<circle cx="358.1" cy="479.8" r="3.2"/>
<circle cx="357.2" cy="479.4" r="3.2"/>
<circle cx="357.3" cy="479.7" r="3.2"/>
<circle cx="379.4" cy="479.6" r="3.2"/>
<circle cx="378.1" cy="479.8" r="3.2"/>
<circle cx="377.3" cy="479.9" r="3.2"/>
<circle cx="379.1" cy="479.5" r="3.2"/>
<circle cx="370.4" cy="479.9" r="3.2"/>
<circle cx="362.3" cy="479.9" r="3.2"/>
<circle cx="371.2" cy="479.6" r="3.2"/>
<circle cx="389.9" cy="479.6" r="3.2"/>
<circle cx="388.5" cy="479.5" r="3.2"/>
<circle cx="385.1" cy="479.9" r="3.2"/>
<circle cx="396.5" cy="479.4" r="3.2"/>
<circle cx="381.8" cy="479.3" r="3.2"/>
<circle cx="388.5" cy="479.4" r="3.2"/>
<circle cx="396.6" cy="479.8" r="3.2"/>
<circle cx="391.5" cy="479.7" r="3.2"/>
<circle cx="389.2" cy="479.8" r="3.2"/>
<circle cx="391.0" cy="479.8" r="3.2"/>
<circle cx="356.2" cy="464.7" r="3.2"/>
<circle cx="363.2" cy="464.4" r="3.2"/>
<circle cx="364.6" cy="464.6" r="3.2"/>
<circle cx="377.8" cy="464.4" r="3.2"/>
<circle cx="378.9" cy="464.4" r="3.2"/>
<circle cx="375.2" cy="464.3" r="3.2"/>
<circle cx="375.2" cy="464.2" r="3.2"/>
<circle cx="383.2" cy="464.3" r="3.2"/>
<circle cx="359.1" cy="464.2" r="3.2"/>
<circle cx="373.1" cy="464.7" r="3.2"/>
<circle cx="383.4" cy="464.5" r="3.2"/>
<circle cx="376.9" cy="464.4" r="3.2"/>
<circle cx="374.6" cy="464.1" r="3.2"/>
<circle cx="367.3" cy="465.0" r="3.2"/>
<circle cx="367.2" cy="464.5" r="3.2"/>
<circle cx="355.8" cy="464.3" r="3.2"/>
<circle cx="366.8" cy="464.3" r="3.2"/>
<circle cx="355.7" cy="464.8" r="3.2"/>
<circle cx="364.3" cy="464.7" r="3.2"/>
<circle cx="366.1" cy="464.6" r="3.2"/>
<circle cx="382.5" cy="464.3" r="3.2"/>
<circle cx="364.9" cy="464.7" r="3.2"/>
<circle cx="382.3" cy="464.7" r="3.2"/>
<circle cx="355.2" cy="464.6" r="3.2"/>
<circle cx="364.8" cy="464.6" r="3.2"/>
<circle cx="363.6" cy="464.6" r="3.2"/>
<circle cx="382.1" cy="464.3" r="3.2"/>
<circle cx="367.1" cy="464.5" r="3.2"/>
<circle cx="373.7" cy="464.2" r="3.2"/>
<circle cx="368.6" cy="464.4" r="3.2"/>
<circle cx="377.6" cy="464.6" r="3.2"/>
<circle cx="380.9" cy="464.7" r="3.2"/>
<circle cx="379.0" cy="464.8" r="3.2"/>
<circle cx="374.4" cy="464.1" r="3.2"/>
<circle cx="364.2" cy="464.7" r="3.2"/>
<circle cx="366.3" cy="464.4" r="3.2"/>
<circle cx="363.9" cy="464.6" r="3.2"/>
<circle cx="357.6" cy="464.4" r="3.2"/>
<circle cx="377.0" cy="464.3" r="3.2"/>
<circle cx="372.8" cy="464.6" r="3.2"/>
<circle cx="362.0" cy="464.1" r="3.2"/>
<circle cx="362.2" cy="464.4" r="3.2"/>
<circle cx="374.1" cy="464.4" r="3.2"/>
<circle cx="376.8" cy="464.4" r="3.2"/>
<circle cx="370.2" cy="464.8" r="3.2"/>
<circle cx="376.8" cy="464.6" r="3.2"/>
<circle cx="360.9" cy="464.6" r="3.2"/>
<circle cx="356.8" cy="464.4" r="3.2"/>
<circle cx="378.6" cy="464.3" r="3.2"/>
<circle cx="382.2" cy="464.7" r="3.2"/>
<circle cx="367.6" cy="464.6" r="3.2"/>
<circle cx="371.1" cy="464.4" r="3.2"/>
<circle cx="376.2" cy="464.6" r="3.2"/>
<circle cx="356.1" cy="465.0" r="3.2"/>
<circle cx="369.8" cy="464.5" r="3.2"/>
<circle cx="379.2" cy="464.5" r="3.2"/>
<circle cx="359.5" cy="464.4" r="3.2"/>
<circle cx="373.7" cy="464.4" r="3.2"/>
<circle cx="371.8" cy="464.2" r="3.2"/>
<circle cx="371.4" cy="464.6" r="3.2"/>
<circle cx="370.0" cy="464.2" r="3.2"/>
<circle cx="367.3" cy="464.3" r="3.2"/>
<circle cx="366.8" cy="464.6" r="3.2"/>
<circle cx="381.8" cy="464.5" r="3.2"/>
<circle cx="357.3" cy="464.7" r="3.2"/>
<circle cx="355.8" cy="464.6" r="3.2"/>
<circle cx="380.8" cy="464.9" r="3.2"/>
<circle cx="373.8" cy="464.6" r="3.2"/>
<circle cx="356.7" cy="464.4" r="3.2"/>
<circle cx="383.1" cy="464.6" r="3.2"/>
<circle cx="374.2" cy="464.7" r="3.2"/>
<circle cx="361.2" cy="464.9" r="3.2"/>
<circle cx="383.4" cy="464.6" r="3.2"/>
<circle cx="382.0" cy="464.6" r="3.2"/>
<circle cx="359.8" cy="464.7" r="3.2"/>
<circle cx="373.7" cy="464.8" r="3.2"/>
<circle cx="365.2" cy="464.4" r="3.2"/>
<circle cx="379.8" cy="464.6" r="3.2"/>
<circle cx="356.7" cy="464.3" r="3.2"/>
<circle cx="378.0" cy="464.5" r="3.2"/>
<circle cx="364.3" cy="464.6" r="3.2"/>
<circle cx="371.4" cy="464.6" r="3.2"/>
<circle cx="376.8" cy="464.6" r="3.2"/>
<circle cx="364.1" cy="464.3" r="3.2"/>
<circle cx="381.4" cy="464.7" r="3.2"/>
<circle cx="378.8" cy="465.0" r="3.2"/>
<circle cx="370.6" cy="464.5" r="3.2"/>
<circle cx="371.6" cy="464.8" r="3.2"/>
<circle cx="363.6" cy="464.8" r="3.2"/>
<circle cx="361.2" cy="464.1" r="3.2"/>
<circle cx="362.5" cy="464.8" r="3.2"/>
<circle cx="370.2" cy="464.3" r="3.2"/>
<circle cx="357.7" cy="464.1" r="3.2"/>
<circle cx="372.0" cy="464.6" r="3.2"/>
<circle cx="369.9" cy="464.5" r="3.2"/>
<circle cx="362.4" cy="464.2" r="3.2"/>
<circle cx="365.8" cy="464.6" r="3.2"/>
<circle cx="381.8" cy="464.5" r="3.2"/>
<circle cx="376.6" cy="464.4" r="3.2"/>
<circle cx="366.3" cy="464.4" r="3.2"/>
<circle cx="383.9" cy="464.7" r="3.2"/>
<circle cx="377.8" cy="464.5" r="3.2"/>
<circle cx="393.4" cy="464.7" r="3.2"/>
<circle cx="393.8" cy="464.6" r="3.2"/>
<circle cx="412.0" cy="464.7" r="3.2"/>
<circle cx="364.2" cy="449.3" r="3.2"/>
<circle cx="355.2" cy="449.1" r="3.2"/>
<circle cx="359.5" cy="449.5" r="3.2"/>
<circle cx="368.2" cy="449.6" r="3.2"/>
<circle cx="359.6" cy="449.4" r="3.2"/>
<circle cx="360.8" cy="449.2" r="3.2"/>
<circle cx="367.0" cy="449.1" r="3.2"/>
<circle cx="369.2" cy="449.4" r="3.2"/>
<circle cx="365.3" cy="449.3" r="3.2"/>
<circle cx="367.2" cy="449.5" r="3.2"/>
<circle cx="368.3" cy="449.5" r="3.2"/>
<circle cx="362.1" cy="449.7" r="3.2"/>
<circle cx="375.4" cy="449.5" r="3.2"/>
<circle cx="360.5" cy="449.3" r="3.2"/>
<circle cx="358.9" cy="449.7" r="3.2"/>
<circle cx="373.2" cy="449.4" r="3.2"/>
<circle cx="375.8" cy="449.5" r="3.2"/>
<circle cx="374.9" cy="449.2" r="3.2"/>
<circle cx="370.5" cy="449.1" r="3.2"/>
<circle cx="368.6" cy="449.4" r="3.2"/>
<circle cx="374.7" cy="449.1" r="3.2"/>
<circle cx="362.4" cy="449.5" r="3.2"/>
<circle cx="362.9" cy="449.3" r="3.2"/>
<circle cx="364.4" cy="449.2" r="3.2"/>
<circle cx="368.7" cy="449.2" r="3.2"/>
<circle cx="376.6" cy="449.3" r="3.2"/>
<circle cx="377.5" cy="449.4" r="3.2"/>
<circle cx="372.6" cy="449.4" r="3.2"/>
<circle cx="378.3" cy="449.4" r="3.2"/>
<circle cx="365.0" cy="449.3" r="3.2"/>
<circle cx="361.1" cy="449.5" r="3.2"/>
<circle cx="380.1" cy="449.5" r="3.2"/>
<circle cx="379.3" cy="449.4" r="3.2"/>
<circle cx="359.5" cy="449.0" r="3.2"/>
<circle cx="360.2" cy="449.0" r="3.2"/>
<circle cx="368.4" cy="449.4" r="3.2"/>
<circle cx="363.3" cy="449.2" r="3.2"/>
<circle cx="370.1" cy="449.0" r="3.2"/>
<circle cx="379.8" cy="449.4" r="3.2"/>
<circle cx="371.3" cy="449.5" r="3.2"/>
<circle cx="358.1" cy="449.2" r="3.2"/>
<circle cx="375.4" cy="449.5" r="3.2"/>
<circle cx="377.1" cy="449.7" r="3.2"/>
<circle cx="380.8" cy="449.2" r="3.2"/>
<circle cx="378.1" cy="449.1" r="3.2"/>
<circle cx="366.2" cy="449.3" r="3.2"/>
<circle cx="371.7" cy="449.2" r="3.2"/>
<circle cx="373.8" cy="449.5" r="3.2"/>
<circle cx="365.3" cy="449.4" r="3.2"/>
<circle cx="355.1" cy="449.0" r="3.2"/>
<circle cx="379.8" cy="449.8" r="3.2"/>
<circle cx="362.1" cy="449.3" r="3.2"/>
<circle cx="371.7" cy="449.5" r="3.2"/>
<circle cx="368.8" cy="449.0" r="3.2"/>
<circle cx="379.3" cy="449.3" r="3.2"/>
<circle cx="373.4" cy="449.4" r="3.2"/>
<circle cx="366.1" cy="449.0" r="3.2"/>
<circle cx="378.1" cy="449.7" r="3.2"/>
<circle cx="368.5" cy="449.1" r="3.2"/>
<circle cx="370.5" cy="449.2" r="3.2"/>
<circle cx="366.6" cy="449.3" r="3.2"/>
<circle cx="376.5" cy="449.4" r="3.2"/>
<circle cx="359.0" cy="449.5" r="3.2"/>
<circle cx="377.0" cy="449.1" r="3.2"/>
<circle cx="369.3" cy="449.2" r="3.2"/>
<circle cx="356.4" cy="449.2" r="3.2"/>
<circle cx="360.0" cy="449.5" r="3.2"/>
<circle cx="365.3" cy="449.4" r="3.2"/>
<circle cx="371.5" cy="449.3" r="3.2"/>
<circle cx="371.6" cy="449.3" r="3.2"/>
<circle cx="362.2" cy="449.6" r="3.2"/>
<circle cx="367.9" cy="449.3" r="3.2"/>
<circle cx="372.2" cy="449.4" r="3.2"/>
<circle cx="372.8" cy="449.6" r="3.2"/>
<circle cx="360.0" cy="449.4" r="3.2"/>
<circle cx="356.9" cy="449.4" r="3.2"/>
<circle cx="365.7" cy="449.6" r="3.2"/>
<circle cx="364.1" cy="449.6" r="3.2"/>
<circle cx="377.2" cy="449.4" r="3.2"/>
<circle cx="371.2" cy="449.4" r="3.2"/>
<circle cx="371.4" cy="449.3" r="3.2"/>
<circle cx="358.8" cy="449.0" r="3.2"/>
<circle cx="373.4" cy="449.0" r="3.2"/>
<circle cx="365.7" cy="449.3" r="3.2"/>
<circle cx="371.1" cy="449.2" r="3.2"/>
<circle cx="361.4" cy="449.2" r="3.2"/>
<circle cx="380.3" cy="449.6" r="3.2"/>
<circle cx="358.2" cy="449.2" r="3.2"/>
<circle cx="355.0" cy="449.5" r="3.2"/>
<circle cx="372.4" cy="449.6" r="3.2"/>
<circle cx="368.5" cy="449.5" r="3.2"/>
<circle cx="387.6" cy="449.3" r="3.2"/>
<circle cx="389.0" cy="449.6" r="3.2"/>
<circle cx="392.2" cy="449.4" r="3.2"/>
<circle cx="384.6" cy="449.4" r="3.2"/>
<circle cx="392.9" cy="449.0" r="3.2"/>
<circle cx="385.8" cy="449.4" r="3.2"/>
<circle cx="386.7" cy="449.5" r="3.2"/>
<circle cx="385.5" cy="449.1" r="3.2"/>
<circle cx="399.0" cy="449.3" r="3.2"/>
<circle cx="405.0" cy="449.3" r="3.2"/>
<circle cx="411.4" cy="449.3" r="3.2"/>
<circle cx="366.9" cy="433.9" r="3.2"/>
<circle cx="367.5" cy="434.1" r="3.2"/>
<circle cx="370.1" cy="434.3" r="3.2"/>
<circle cx="355.2" cy="434.1" r="3.2"/>
<circle cx="368.4" cy="434.0" r="3.2"/>
<circle cx="372.4" cy="434.2" r="3.2"/>
<circle cx="369.6" cy="434.0" r="3.2"/>
<circle cx="360.5" cy="434.0" r="3.2"/>
<circle cx="362.3" cy="433.8" r="3.2"/>
<circle cx="370.1" cy="434.0" r="3.2"/>
<circle cx="381.6" cy="434.0" r="3.2"/>
<circle cx="382.6" cy="434.2" r="3.2"/>
<circle cx="358.0" cy="434.3" r="3.2"/>
<circle cx="377.3" cy="433.9" r="3.2"/>
<circle cx="364.4" cy="433.9" r="3.2"/>
<circle cx="374.4" cy="434.0" r="3.2"/>
<circle cx="371.8" cy="434.0" r="3.2"/>
<circle cx="358.5" cy="434.4" r="3.2"/>
<circle cx="371.8" cy="434.2" r="3.2"/>
<circle cx="371.3" cy="434.2" r="3.2"/>
<circle cx="359.4" cy="433.9" r="3.2"/>
<circle cx="379.4" cy="433.7" r="3.2"/>
<circle cx="359.4" cy="433.6" r="3.2"/>
<circle cx="368.7" cy="434.0" r="3.2"/>
<circle cx="367.2" cy="433.9" r="3.2"/>
<circle cx="361.2" cy="434.0" r="3.2"/>
<circle cx="362.3" cy="434.2" r="3.2"/>
<circle cx="364.2" cy="433.7" r="3.2"/>
<circle cx="369.3" cy="434.2" r="3.2"/>
<circle cx="368.9" cy="434.1" r="3.2"/>
<circle cx="377.1" cy="433.8" r="3.2"/>
<circle cx="354.8" cy="434.1" r="3.2"/>
<circle cx="379.4" cy="433.9" r="3.2"/>
<circle cx="369.2" cy="434.2" r="3.2"/>
<circle cx="366.3" cy="434.2" r="3.2"/>
<circle cx="360.1" cy="434.3" r="3.2"/>
<circle cx="365.7" cy="434.2" r="3.2"/>
<circle cx="381.0" cy="433.7" r="3.2"/>
<circle cx="371.0" cy="434.0" r="3.2"/>
<circle cx="379.8" cy="434.1" r="3.2"/>
<circle cx="376.9" cy="434.3" r="3.2"/>
<circle cx="366.8" cy="434.0" r="3.2"/>
<circle cx="380.3" cy="434.0" r="3.2"/>
<circle cx="363.5" cy="434.1" r="3.2"/>
<circle cx="361.9" cy="434.0" r="3.2"/>
<circle cx="357.3" cy="433.6" r="3.2"/>
<circle cx="379.6" cy="434.5" r="3.2"/>
<circle cx="379.8" cy="434.1" r="3.2"/>
<circle cx="362.3" cy="433.9" r="3.2"/>
<circle cx="377.6" cy="434.2" r="3.2"/>
<circle cx="378.9" cy="433.9" r="3.2"/>
<circle cx="376.5" cy="434.2" r="3.2"/>
<circle cx="369.2" cy="434.4" r="3.2"/>
<circle cx="358.0" cy="434.1" r="3.2"/>
<circle cx="369.4" cy="433.9" r="3.2"/>
<circle cx="357.5" cy="434.2" r="3.2"/>
<circle cx="355.9" cy="434.5" r="3.2"/>
<circle cx="371.3" cy="434.2" r="3.2"/>
<circle cx="374.7" cy="433.8" r="3.2"/>
<circle cx="380.3" cy="434.4" r="3.2"/>
<circle cx="358.7" cy="434.2" r="3.2"/>
<circle cx="367.0" cy="434.0" r="3.2"/>
<circle cx="380.7" cy="434.1" r="3.2"/>
<circle cx="368.8" cy="434.0" r="3.2"/>
<circle cx="357.9" cy="433.9" r="3.2"/>
<circle cx="375.1" cy="434.1" r="3.2"/>
<circle cx="381.0" cy="433.7" r="3.2"/>
<circle cx="382.6" cy="433.9" r="3.2"/>
<circle cx="359.2" cy="434.2" r="3.2"/>
<circle cx="364.5" cy="434.2" r="3.2"/>
<circle cx="380.7" cy="434.1" r="3.2"/>
<circle cx="379.4" cy="434.0" r="3.2"/>
<circle cx="368.0" cy="434.3" r="3.2"/>
<circle cx="368.2" cy="433.8" r="3.2"/>
<circle cx="360.6" cy="434.0" r="3.2"/>
<circle cx="376.1" cy="434.3" r="3.2"/>
<circle cx="373.3" cy="433.9" r="3.2"/>
<circle cx="358.7" cy="433.9" r="3.2"/>
<circle cx="364.9" cy="433.9" r="3.2"/>
<circle cx="371.8" cy="434.1" r="3.2"/>
<circle cx="372.6" cy="434.0" r="3.2"/>
<circle cx="356.6" cy="434.0" r="3.2"/>
<circle cx="378.6" cy="433.5" r="3.2"/>
<circle cx="372.8" cy="434.1" r="3.2"/>
<circle cx="375.6" cy="434.2" r="3.2"/>
<circle cx="373.9" cy="434.1" r="3.2"/>
<circle cx="360.5" cy="434.0" r="3.2"/>
<circle cx="356.0" cy="433.9" r="3.2"/>
<circle cx="362.4" cy="433.9" r="3.2"/>
<circle cx="358.1" cy="434.2" r="3.2"/>
<circle cx="356.7" cy="434.1" r="3.2"/>
<circle cx="377.4" cy="433.9" r="3.2"/>
<circle cx="368.1" cy="434.3" r="3.2"/>
<circle cx="371.6" cy="433.9" r="3.2"/>
<circle cx="359.9" cy="433.8" r="3.2"/>
<circle cx="357.5" cy="434.2" r="3.2"/>
<circle cx="355.8" cy="434.2" r="3.2"/>
<circle cx="362.7" cy="434.3" r="3.2"/>
<circle cx="392.0" cy="434.0" r="3.2"/>
<circle cx="392.5" cy="434.0" r="3.2"/>
<circle cx="401.0" cy="434.0" r="3.2"/>
<circle cx="411.4" cy="434.0" r="3.2"/>
<circle cx="430.5" cy="434.2" r="3.2"/>
<circle cx="431.0" cy="434.2" r="3.2"/>
<circle cx="438.0" cy="434.2" r="3.2"/>
<circle cx="439.5" cy="434.2" r="3.2"/>
<circle cx="356.9" cy="418.6" r="3.2"/>
<circle cx="371.9" cy="418.5" r="3.2"/>
<circle cx="371.0" cy="418.7" r="3.2"/>
<circle cx="375.8" cy="418.5" r="3.2"/>
<circle cx="358.2" cy="418.8" r="3.2"/>
<circle cx="368.9" cy="418.9" r="3.2"/>
<circle cx="367.7" cy="418.8" r="3.2"/>
<circle cx="372.3" cy="418.7" r="3.2"/>
<circle cx="378.6" cy="418.7" r="3.2"/>
<circle cx="356.1" cy="419.0" r="3.2"/>
<circle cx="356.1" cy="419.1" r="3.2"/>
<circle cx="355.7" cy="419.0" r="3.2"/>
<circle cx="357.3" cy="418.7" r="3.2"/>
<circle cx="364.3" cy="419.1" r="3.2"/>
<circle cx="359.4" cy="418.9" r="3.2"/>
<circle cx="374.0" cy="419.0" r="3.2"/>
<circle cx="371.2" cy="418.8" r="3.2"/>
<circle cx="371.7" cy="419.1" r="3.2"/>
<circle cx="372.4" cy="418.7" r="3.2"/>
<circle cx="378.5" cy="418.8" r="3.2"/>
<circle cx="367.5" cy="418.9" r="3.2"/>
<circle cx="365.1" cy="418.6" r="3.2"/>
<circle cx="357.7" cy="418.9" r="3.2"/>
<circle cx="364.2" cy="418.6" r="3.2"/>
<circle cx="359.0" cy="418.6" r="3.2"/>
<circle cx="358.3" cy="419.0" r="3.2"/>
<circle cx="354.8" cy="419.0" r="3.2"/>
<circle cx="378.4" cy="418.4" r="3.2"/>
<circle cx="355.8" cy="418.8" r="3.2"/>
<circle cx="359.2" cy="418.8" r="3.2"/>
<circle cx="376.0" cy="418.6" r="3.2"/>
<circle cx="366.8" cy="418.7" r="3.2"/>
<circle cx="365.5" cy="418.9" r="3.2"/>
<circle cx="376.1" cy="418.9" r="3.2"/>
<circle cx="374.0" cy="419.0" r="3.2"/>
<circle cx="364.1" cy="419.1" r="3.2"/>
<circle cx="374.8" cy="418.7" r="3.2"/>
<circle cx="380.4" cy="418.9" r="3.2"/>
<circle cx="369.8" cy="418.4" r="3.2"/>
<circle cx="357.7" cy="418.7" r="3.2"/>
<circle cx="375.1" cy="418.8" r="3.2"/>
<circle cx="377.9" cy="418.6" r="3.2"/>
<circle cx="379.3" cy="419.1" r="3.2"/>
<circle cx="365.4" cy="418.7" r="3.2"/>
<circle cx="359.3" cy="418.8" r="3.2"/>
<circle cx="375.4" cy="419.0" r="3.2"/>
<circle cx="368.1" cy="418.4" r="3.2"/>
<circle cx="363.8" cy="418.6" r="3.2"/>
<circle cx="359.4" cy="419.0" r="3.2"/>
<circle cx="373.0" cy="418.7" r="3.2"/>
<circle cx="362.3" cy="418.5" r="3.2"/>
<circle cx="366.4" cy="418.8" r="3.2"/>
<circle cx="371.1" cy="418.7" r="3.2"/>
<circle cx="369.4" cy="419.1" r="3.2"/>
<circle cx="363.2" cy="418.8" r="3.2"/>
<circle cx="358.4" cy="418.9" r="3.2"/>
<circle cx="368.9" cy="419.0" r="3.2"/>
<circle cx="380.9" cy="418.7" r="3.2"/>
<circle cx="373.8" cy="419.0" r="3.2"/>
<circle cx="364.7" cy="419.2" r="3.2"/>
<circle cx="357.1" cy="419.0" r="3.2"/>
<circle cx="379.1" cy="418.8" r="3.2"/>
<circle cx="359.4" cy="418.9" r="3.2"/>
<circle cx="364.4" cy="418.7" r="3.2"/>
<circle cx="365.4" cy="418.5" r="3.2"/>
<circle cx="363.6" cy="418.3" r="3.2"/>
<circle cx="373.2" cy="418.7" r="3.2"/>
<circle cx="379.9" cy="418.6" r="3.2"/>
<circle cx="364.1" cy="419.1" r="3.2"/>
<circle cx="364.7" cy="418.9" r="3.2"/>
<circle cx="376.2" cy="418.7" r="3.2"/>
<circle cx="363.0" cy="419.0" r="3.2"/>
<circle cx="358.9" cy="419.1" r="3.2"/>
<circle cx="368.2" cy="418.6" r="3.2"/>
<circle cx="357.5" cy="418.8" r="3.2"/>
<circle cx="361.1" cy="418.7" r="3.2"/>
<circle cx="361.9" cy="418.6" r="3.2"/>
<circle cx="363.3" cy="418.8" r="3.2"/>
<circle cx="373.2" cy="419.0" r="3.2"/>
<circle cx="357.8" cy="418.8" r="3.2"/>
<circle cx="360.0" cy="418.8" r="3.2"/>
<circle cx="367.0" cy="418.8" r="3.2"/>
<circle cx="372.5" cy="419.0" r="3.2"/>
<circle cx="370.4" cy="418.8" r="3.2"/>
<circle cx="378.8" cy="418.8" r="3.2"/>
<circle cx="379.1" cy="418.5" r="3.2"/>
<circle cx="368.6" cy="418.9" r="3.2"/>
<circle cx="376.6" cy="419.1" r="3.2"/>
<circle cx="371.9" cy="418.9" r="3.2"/>
<circle cx="365.8" cy="418.5" r="3.2"/>
<circle cx="357.9" cy="418.6" r="3.2"/>
<circle cx="391.8" cy="418.6" r="3.2"/>
<circle cx="393.4" cy="418.9" r="3.2"/>
<circle cx="394.3" cy="418.5" r="3.2"/>
<circle cx="389.6" cy="418.4" r="3.2"/>
<circle cx="393.4" cy="418.7" r="3.2"/>
<circle cx="396.7" cy="418.7" r="3.2"/>
<circle cx="395.9" cy="418.5" r="3.2"/>
<circle cx="383.2" cy="418.7" r="3.2"/>
<circle cx="386.0" cy="418.7" r="3.2"/>
<circle cx="388.8" cy="418.7" r="3.2"/>
<circle cx="402.0" cy="418.8" r="3.2"/>
<circle cx="406.0" cy="418.8" r="3.2"/>
<circle cx="411.0" cy="418.8" r="3.2"/>
<circle cx="419.0" cy="418.8" r="3.2"/>
<circle cx="445.5" cy="418.6" r="3.2"/>
<circle cx="449.0" cy="418.6" r="3.2"/>
<circle cx="449.5" cy="418.6" r="3.2"/>
<circle cx="456.0" cy="418.6" r="3.2"/>
<circle cx="458.0" cy="418.6" r="3.2"/>
<circle cx="370.4" cy="403.4" r="3.2"/>
<circle cx="366.0" cy="403.6" r="3.2"/>
<circle cx="359.8" cy="403.7" r="3.2"/>
<circle cx="364.2" cy="403.4" r="3.2"/>
<circle cx="365.4" cy="403.5" r="3.2"/>
<circle cx="375.3" cy="403.5" r="3.2"/>
<circle cx="365.9" cy="403.7" r="3.2"/>
<circle cx="375.2" cy="403.7" r="3.2"/>
<circle cx="378.3" cy="403.7" r="3.2"/>
<circle cx="366.4" cy="403.5" r="3.2"/>
<circle cx="366.1" cy="403.5" r="3.2"/>
<circle cx="362.3" cy="403.8" r="3.2"/>
<circle cx="369.6" cy="403.3" r="3.2"/>
<circle cx="362.6" cy="403.7" r="3.2"/>
<circle cx="375.2" cy="403.4" r="3.2"/>
<circle cx="367.6" cy="403.8" r="3.2"/>
<circle cx="361.9" cy="403.9" r="3.2"/>
<circle cx="358.3" cy="403.8" r="3.2"/>
<circle cx="361.8" cy="403.7" r="3.2"/>
<circle cx="356.0" cy="403.6" r="3.2"/>
<circle cx="368.1" cy="403.6" r="3.2"/>
<circle cx="362.7" cy="403.9" r="3.2"/>
<circle cx="362.9" cy="403.3" r="3.2"/>
<circle cx="355.7" cy="403.6" r="3.2"/>
<circle cx="364.3" cy="403.6" r="3.2"/>
<circle cx="356.7" cy="403.4" r="3.2"/>
<circle cx="367.4" cy="403.6" r="3.2"/>
<circle cx="375.0" cy="403.7" r="3.2"/>
<circle cx="363.4" cy="403.4" r="3.2"/>
<circle cx="367.3" cy="403.7" r="3.2"/>
<circle cx="364.1" cy="403.5" r="3.2"/>
<circle cx="362.4" cy="403.8" r="3.2"/>
<circle cx="370.3" cy="403.7" r="3.2"/>
<circle cx="378.2" cy="403.8" r="3.2"/>
<circle cx="378.1" cy="403.4" r="3.2"/>
<circle cx="366.2" cy="403.8" r="3.2"/>
<circle cx="361.8" cy="403.9" r="3.2"/>
<circle cx="365.7" cy="403.6" r="3.2"/>
<circle cx="361.6" cy="403.9" r="3.2"/>
<circle cx="376.8" cy="403.7" r="3.2"/>
<circle cx="365.9" cy="403.6" r="3.2"/>
<circle cx="378.3" cy="404.1" r="3.2"/>
<circle cx="367.2" cy="403.8" r="3.2"/>
<circle cx="354.9" cy="403.8" r="3.2"/>
<circle cx="379.9" cy="403.7" r="3.2"/>
<circle cx="367.6" cy="403.7" r="3.2"/>
<circle cx="357.4" cy="403.3" r="3.2"/>
<circle cx="371.8" cy="403.5" r="3.2"/>
<circle cx="367.4" cy="403.4" r="3.2"/>
<circle cx="377.8" cy="403.7" r="3.2"/>
<circle cx="373.8" cy="403.5" r="3.2"/>
<circle cx="364.1" cy="403.7" r="3.2"/>
<circle cx="374.1" cy="403.5" r="3.2"/>
<circle cx="371.5" cy="403.6" r="3.2"/>
<circle cx="358.6" cy="403.7" r="3.2"/>
<circle cx="362.9" cy="403.8" r="3.2"/>
<circle cx="379.8" cy="403.8" r="3.2"/>
<circle cx="370.4" cy="403.5" r="3.2"/>
<circle cx="361.8" cy="403.4" r="3.2"/>
<circle cx="370.7" cy="403.8" r="3.2"/>
<circle cx="370.7" cy="403.4" r="3.2"/>
<circle cx="356.4" cy="403.7" r="3.2"/>
<circle cx="369.6" cy="403.5" r="3.2"/>
<circle cx="370.6" cy="403.9" r="3.2"/>
<circle cx="375.0" cy="403.6" r="3.2"/>
<circle cx="363.1" cy="403.6" r="3.2"/>
<circle cx="366.5" cy="403.8" r="3.2"/>
<circle cx="376.4" cy="403.5" r="3.2"/>
<circle cx="379.6" cy="403.9" r="3.2"/>
<circle cx="375.7" cy="403.9" r="3.2"/>
<circle cx="378.9" cy="403.9" r="3.2"/>
<circle cx="357.0" cy="403.6" r="3.2"/>
<circle cx="364.7" cy="403.7" r="3.2"/>
<circle cx="367.5" cy="403.4" r="3.2"/>
<circle cx="363.4" cy="403.6" r="3.2"/>
<circle cx="370.0" cy="403.7" r="3.2"/>
<circle cx="369.5" cy="403.5" r="3.2"/>
<circle cx="356.3" cy="403.8" r="3.2"/>
<circle cx="363.5" cy="403.5" r="3.2"/>
<circle cx="359.5" cy="403.5" r="3.2"/>
<circle cx="360.8" cy="403.6" r="3.2"/>
<circle cx="358.3" cy="403.6" r="3.2"/>
<circle cx="366.3" cy="403.8" r="3.2"/>
<circle cx="370.9" cy="403.7" r="3.2"/>
<circle cx="361.0" cy="404.0" r="3.2"/>
<circle cx="366.4" cy="403.7" r="3.2"/>
<circle cx="368.2" cy="403.7" r="3.2"/>
<circle cx="363.7" cy="403.5" r="3.2"/>
<circle cx="391.4" cy="403.3" r="3.2"/>
<circle cx="380.5" cy="403.4" r="3.2"/>
<circle cx="390.5" cy="403.5" r="3.2"/>
<circle cx="385.3" cy="403.7" r="3.2"/>
<circle cx="393.6" cy="403.4" r="3.2"/>
<circle cx="383.6" cy="403.6" r="3.2"/>
<circle cx="389.0" cy="403.3" r="3.2"/>
<circle cx="389.5" cy="403.3" r="3.2"/>
<circle cx="399.0" cy="403.3" r="3.2"/>
<circle cx="399.5" cy="403.3" r="3.2"/>
<circle cx="406.0" cy="403.3" r="3.2"/>
<circle cx="406.5" cy="403.3" r="3.2"/>
<circle cx="411.0" cy="403.3" r="3.2"/>
<circle cx="445.5" cy="403.6" r="3.2"/>
<circle cx="468.0" cy="403.6" r="3.2"/>
<circle cx="366.1" cy="388.3" r="3.2"/>
<circle cx="362.2" cy="388.7" r="3.2"/>
<circle cx="358.7" cy="388.3" r="3.2"/>
<circle cx="368.0" cy="388.4" r="3.2"/>
<circle cx="354.9" cy="388.1" r="3.2"/>
<circle cx="362.1" cy="388.5" r="3.2"/>
<circle cx="363.5" cy="388.3" r="3.2"/>
<circle cx="357.4" cy="388.1" r="3.2"/>
<circle cx="368.8" cy="388.3" r="3.2"/>
<circle cx="372.8" cy="388.4" r="3.2"/>
<circle cx="355.8" cy="388.4" r="3.2"/>
<circle cx="360.9" cy="388.1" r="3.2"/>
<circle cx="370.4" cy="388.3" r="3.2"/>
<circle cx="361.9" cy="388.6" r="3.2"/>
<circle cx="368.5" cy="388.3" r="3.2"/>
<circle cx="371.1" cy="388.4" r="3.2"/>
<circle cx="371.6" cy="388.4" r="3.2"/>
<circle cx="368.3" cy="388.3" r="3.2"/>
<circle cx="361.1" cy="388.2" r="3.2"/>
<circle cx="359.9" cy="388.4" r="3.2"/>
<circle cx="357.0" cy="388.3" r="3.2"/>
<circle cx="372.2" cy="388.4" r="3.2"/>
<circle cx="372.2" cy="388.5" r="3.2"/>
<circle cx="357.0" cy="388.4" r="3.2"/>
<circle cx="364.0" cy="388.4" r="3.2"/>
<circle cx="369.2" cy="388.4" r="3.2"/>
<circle cx="361.6" cy="388.4" r="3.2"/>
<circle cx="372.6" cy="388.4" r="3.2"/>
<circle cx="363.0" cy="388.3" r="3.2"/>
<circle cx="373.8" cy="388.1" r="3.2"/>
<circle cx="355.0" cy="388.0" r="3.2"/>
<circle cx="363.0" cy="388.5" r="3.2"/>
<circle cx="356.3" cy="388.9" r="3.2"/>
<circle cx="356.9" cy="388.2" r="3.2"/>
<circle cx="369.6" cy="388.7" r="3.2"/>
<circle cx="357.3" cy="388.0" r="3.2"/>
<circle cx="357.9" cy="388.2" r="3.2"/>
<circle cx="363.1" cy="388.4" r="3.2"/>
<circle cx="373.4" cy="388.2" r="3.2"/>
<circle cx="368.0" cy="388.1" r="3.2"/>
<circle cx="359.3" cy="388.4" r="3.2"/>
<circle cx="367.0" cy="388.8" r="3.2"/>
<circle cx="358.6" cy="388.1" r="3.2"/>
<circle cx="358.2" cy="388.6" r="3.2"/>
<circle cx="369.6" cy="388.3" r="3.2"/>
<circle cx="355.4" cy="388.2" r="3.2"/>
<circle cx="362.4" cy="388.5" r="3.2"/>
<circle cx="354.9" cy="388.6" r="3.2"/>
<circle cx="373.5" cy="388.4" r="3.2"/>
<circle cx="373.4" cy="388.6" r="3.2"/>
<circle cx="356.1" cy="388.3" r="3.2"/>
<circle cx="365.2" cy="388.1" r="3.2"/>
<circle cx="365.3" cy="388.3" r="3.2"/>
<circle cx="373.5" cy="388.3" r="3.2"/>
<circle cx="364.3" cy="388.1" r="3.2"/>
<circle cx="364.4" cy="388.5" r="3.2"/>
<circle cx="371.7" cy="388.3" r="3.2"/>
<circle cx="361.4" cy="388.7" r="3.2"/>
<circle cx="369.6" cy="388.3" r="3.2"/>
<circle cx="366.7" cy="388.1" r="3.2"/>
<circle cx="363.6" cy="388.3" r="3.2"/>
<circle cx="358.9" cy="388.4" r="3.2"/>
<circle cx="359.1" cy="388.3" r="3.2"/>
<circle cx="366.4" cy="388.4" r="3.2"/>
<circle cx="373.1" cy="388.2" r="3.2"/>
<circle cx="363.3" cy="388.2" r="3.2"/>
<circle cx="370.4" cy="388.3" r="3.2"/>
<circle cx="382.2" cy="388.6" r="3.2"/>
<circle cx="376.8" cy="388.7" r="3.2"/>
<circle cx="381.6" cy="388.8" r="3.2"/>
<circle cx="396.7" cy="388.6" r="3.2"/>
<circle cx="385.6" cy="388.3" r="3.2"/>
<circle cx="379.5" cy="388.0" r="3.2"/>
<circle cx="374.7" cy="388.3" r="3.2"/>
<circle cx="396.1" cy="388.5" r="3.2"/>
<circle cx="376.1" cy="388.3" r="3.2"/>
<circle cx="377.5" cy="388.5" r="3.2"/>
<circle cx="394.8" cy="388.1" r="3.2"/>
<circle cx="394.1" cy="388.1" r="3.2"/>
<circle cx="391.8" cy="388.4" r="3.2"/>
<circle cx="400.6" cy="388.6" r="3.2"/>
<circle cx="386.4" cy="388.3" r="3.2"/>
<circle cx="377.2" cy="388.2" r="3.2"/>
<circle cx="407.0" cy="388.5" r="3.2"/>
<circle cx="407.5" cy="388.5" r="3.2"/>
<circle cx="417.0" cy="388.5" r="3.2"/>
<circle cx="420.0" cy="388.5" r="3.2"/>
<circle cx="430.5" cy="388.0" r="3.2"/>
<circle cx="359.8" cy="373.2" r="3.2"/>
<circle cx="365.8" cy="373.3" r="3.2"/>
<circle cx="357.2" cy="373.1" r="3.2"/>
<circle cx="360.1" cy="372.9" r="3.2"/>
<circle cx="367.0" cy="372.9" r="3.2"/>
<circle cx="358.6" cy="373.1" r="3.2"/>
<circle cx="360.7" cy="373.0" r="3.2"/>
<circle cx="365.4" cy="373.2" r="3.2"/>
<circle cx="357.8" cy="373.3" r="3.2"/>
<circle cx="362.3" cy="372.8" r="3.2"/>
<circle cx="355.2" cy="372.9" r="3.2"/>
<circle cx="364.2" cy="373.4" r="3.2"/>
<circle cx="361.8" cy="373.3" r="3.2"/>
<circle cx="363.5" cy="373.1" r="3.2"/>
<circle cx="361.8" cy="372.7" r="3.2"/>
<circle cx="364.8" cy="373.4" r="3.2"/>
<circle cx="356.5" cy="373.1" r="3.2"/>
<circle cx="366.3" cy="373.2" r="3.2"/>
<circle cx="361.1" cy="373.0" r="3.2"/>
<circle cx="364.5" cy="373.2" r="3.2"/>
<circle cx="360.5" cy="373.2" r="3.2"/>
<circle cx="358.5" cy="373.2" r="3.2"/>
<circle cx="364.0" cy="373.5" r="3.2"/>
<circle cx="364.7" cy="373.4" r="3.2"/>
<circle cx="358.7" cy="373.1" r="3.2"/>
<circle cx="367.0" cy="373.0" r="3.2"/>
<circle cx="359.8" cy="373.0" r="3.2"/>
<circle cx="360.6" cy="373.2" r="3.2"/>
<circle cx="361.1" cy="372.8" r="3.2"/>
<circle cx="362.2" cy="373.2" r="3.2"/>
<circle cx="360.2" cy="373.1" r="3.2"/>
<circle cx="355.9" cy="373.3" r="3.2"/>
<circle cx="360.7" cy="372.9" r="3.2"/>
<circle cx="360.7" cy="373.3" r="3.2"/>
<circle cx="356.4" cy="373.3" r="3.2"/>
<circle cx="357.4" cy="373.3" r="3.2"/>
<circle cx="366.4" cy="372.8" r="3.2"/>
<circle cx="361.8" cy="373.4" r="3.2"/>
<circle cx="359.0" cy="372.9" r="3.2"/>
<circle cx="359.8" cy="372.9" r="3.2"/>
<circle cx="354.9" cy="373.2" r="3.2"/>
<circle cx="364.2" cy="373.2" r="3.2"/>
<circle cx="385.2" cy="373.2" r="3.2"/>
<circle cx="395.5" cy="373.3" r="3.2"/>
<circle cx="403.1" cy="373.2" r="3.2"/>
<circle cx="385.2" cy="372.8" r="3.2"/>
<circle cx="371.5" cy="373.0" r="3.2"/>
<circle cx="378.1" cy="373.3" r="3.2"/>
<circle cx="372.5" cy="372.9" r="3.2"/>
<circle cx="380.8" cy="373.7" r="3.2"/>
<circle cx="377.6" cy="373.3" r="3.2"/>
<circle cx="387.1" cy="372.9" r="3.2"/>
<circle cx="383.3" cy="373.1" r="3.2"/>
<circle cx="393.0" cy="373.2" r="3.2"/>
<circle cx="384.7" cy="373.2" r="3.2"/>
<circle cx="375.1" cy="373.4" r="3.2"/>
<circle cx="367.2" cy="373.0" r="3.2"/>
<circle cx="395.7" cy="372.8" r="3.2"/>
<circle cx="396.4" cy="373.4" r="3.2"/>
<circle cx="411.6" cy="372.8" r="3.2"/>
<circle cx="404.7" cy="373.0" r="3.2"/>
<circle cx="407.5" cy="373.4" r="3.2"/>
<circle cx="403.0" cy="373.3" r="3.2"/>
<circle cx="389.0" cy="373.5" r="3.2"/>
<circle cx="385.0" cy="373.0" r="3.2"/>
<circle cx="400.0" cy="373.0" r="3.2"/>
<circle cx="410.0" cy="373.0" r="3.2"/>
<circle cx="426.6" cy="373.0" r="3.2"/>
<circle cx="360.7" cy="358.2" r="3.2"/>
<circle cx="368.3" cy="357.7" r="3.2"/>
<circle cx="372.6" cy="357.5" r="3.2"/>
<circle cx="362.2" cy="357.7" r="3.2"/>
<circle cx="362.2" cy="357.9" r="3.2"/>
<circle cx="356.8" cy="357.8" r="3.2"/>
<circle cx="374.7" cy="357.8" r="3.2"/>
<circle cx="370.9" cy="357.8" r="3.2"/>
<circle cx="362.2" cy="358.0" r="3.2"/>
<circle cx="359.9" cy="357.9" r="3.2"/>
<circle cx="362.4" cy="358.0" r="3.2"/>
<circle cx="372.9" cy="357.9" r="3.2"/>
<circle cx="363.9" cy="358.1" r="3.2"/>
<circle cx="374.4" cy="358.2" r="3.2"/>
<circle cx="365.3" cy="357.6" r="3.2"/>
<circle cx="355.0" cy="357.6" r="3.2"/>
<circle cx="371.3" cy="358.0" r="3.2"/>
<circle cx="356.6" cy="358.0" r="3.2"/>
<circle cx="364.1" cy="357.9" r="3.2"/>
<circle cx="356.8" cy="358.0" r="3.2"/>
<circle cx="366.2" cy="357.7" r="3.2"/>
<circle cx="366.5" cy="357.5" r="3.2"/>
<circle cx="361.1" cy="357.9" r="3.2"/>
<circle cx="359.8" cy="357.9" r="3.2"/>
<circle cx="367.1" cy="358.2" r="3.2"/>
<circle cx="356.0" cy="357.5" r="3.2"/>
<circle cx="369.3" cy="357.8" r="3.2"/>
<circle cx="366.5" cy="357.6" r="3.2"/>
<circle cx="372.8" cy="357.9" r="3.2"/>
<circle cx="370.6" cy="358.4" r="3.2"/>
<circle cx="359.0" cy="357.8" r="3.2"/>
<circle cx="375.8" cy="357.5" r="3.2"/>
<circle cx="358.9" cy="358.0" r="3.2"/>
<circle cx="369.7" cy="357.9" r="3.2"/>
<circle cx="360.6" cy="357.7" r="3.2"/>
<circle cx="372.1" cy="357.9" r="3.2"/>
<circle cx="367.2" cy="357.8" r="3.2"/>
<circle cx="355.9" cy="357.9" r="3.2"/>
<circle cx="363.7" cy="358.4" r="3.2"/>
<circle cx="370.5" cy="357.7" r="3.2"/>
<circle cx="358.8" cy="357.9" r="3.2"/>
<circle cx="365.5" cy="357.6" r="3.2"/>
<circle cx="374.3" cy="358.3" r="3.2"/>
<circle cx="370.7" cy="357.8" r="3.2"/>
<circle cx="370.3" cy="358.0" r="3.2"/>
<circle cx="374.4" cy="358.0" r="3.2"/>
<circle cx="375.5" cy="357.9" r="3.2"/>
<circle cx="366.9" cy="357.8" r="3.2"/>
<circle cx="365.9" cy="358.2" r="3.2"/>
<circle cx="361.8" cy="358.4" r="3.2"/>
<circle cx="368.8" cy="357.9" r="3.2"/>
<circle cx="357.8" cy="358.1" r="3.2"/>
<circle cx="373.0" cy="358.0" r="3.2"/>
<circle cx="364.6" cy="358.2" r="3.2"/>
<circle cx="364.2" cy="357.9" r="3.2"/>
<circle cx="376.0" cy="358.0" r="3.2"/>
<circle cx="362.8" cy="358.1" r="3.2"/>
<circle cx="355.5" cy="357.9" r="3.2"/>
<circle cx="358.7" cy="357.8" r="3.2"/>
<circle cx="371.5" cy="358.0" r="3.2"/>
<circle cx="357.8" cy="357.8" r="3.2"/>
<circle cx="372.2" cy="357.7" r="3.2"/>
<circle cx="358.7" cy="357.7" r="3.2"/>
<circle cx="365.1" cy="358.1" r="3.2"/>
<circle cx="367.2" cy="357.9" r="3.2"/>
<circle cx="367.1" cy="357.7" r="3.2"/>
<circle cx="367.9" cy="357.6" r="3.2"/>
<circle cx="366.8" cy="357.9" r="3.2"/>
<circle cx="358.4" cy="358.0" r="3.2"/>
<circle cx="359.9" cy="357.6" r="3.2"/>
<circle cx="356.2" cy="357.8" r="3.2"/>
<circle cx="361.3" cy="358.2" r="3.2"/>
<circle cx="363.2" cy="358.3" r="3.2"/>
<circle cx="371.8" cy="357.8" r="3.2"/>
<circle cx="405.5" cy="357.6" r="3.2"/>
<circle cx="388.9" cy="357.9" r="3.2"/>
<circle cx="384.2" cy="358.2" r="3.2"/>
<circle cx="399.6" cy="358.0" r="3.2"/>
<circle cx="399.3" cy="358.3" r="3.2"/>
<circle cx="408.6" cy="357.8" r="3.2"/>
<circle cx="402.9" cy="358.1" r="3.2"/>
<circle cx="392.2" cy="357.8" r="3.2"/>
<circle cx="399.7" cy="358.3" r="3.2"/>
<circle cx="402.7" cy="357.8" r="3.2"/>
<circle cx="384.8" cy="358.1" r="3.2"/>
<circle cx="406.3" cy="357.9" r="3.2"/>
<circle cx="385.8" cy="357.6" r="3.2"/>
<circle cx="385.3" cy="357.8" r="3.2"/>
<circle cx="385.0" cy="358.0" r="3.2"/>
<circle cx="385.5" cy="358.0" r="3.2"/>
<circle cx="390.0" cy="358.0" r="3.2"/>
<circle cx="395.0" cy="358.0" r="3.2"/>
<circle cx="395.5" cy="358.0" r="3.2"/>
<circle cx="402.0" cy="358.0" r="3.2"/>
<circle cx="407.0" cy="358.0" r="3.2"/>
<circle cx="414.0" cy="358.0" r="3.2"/>
<circle cx="419.0" cy="358.0" r="3.2"/>
<circle cx="423.0" cy="358.0" r="3.2"/>
<circle cx="426.0" cy="358.0" r="3.2"/>
<circle cx="433.5" cy="357.7" r="3.2"/>
<circle cx="359.3" cy="342.9" r="3.2"/>
<circle cx="372.6" cy="342.3" r="3.2"/>
<circle cx="355.8" cy="342.9" r="3.2"/>
<circle cx="359.5" cy="342.5" r="3.2"/>
<circle cx="371.3" cy="342.7" r="3.2"/>
<circle cx="362.0" cy="342.6" r="3.2"/>
<circle cx="368.1" cy="342.5" r="3.2"/>
<circle cx="359.6" cy="342.9" r="3.2"/>
<circle cx="366.1" cy="342.6" r="3.2"/>
<circle cx="362.2" cy="342.2" r="3.2"/>
<circle cx="370.5" cy="342.7" r="3.2"/>
<circle cx="368.0" cy="342.9" r="3.2"/>
<circle cx="355.1" cy="342.6" r="3.2"/>
<circle cx="370.6" cy="342.5" r="3.2"/>
<circle cx="367.2" cy="342.9" r="3.2"/>
<circle cx="367.8" cy="342.7" r="3.2"/>
<circle cx="356.8" cy="342.5" r="3.2"/>
<circle cx="370.5" cy="342.8" r="3.2"/>
<circle cx="364.9" cy="343.0" r="3.2"/>
<circle cx="361.9" cy="343.1" r="3.2"/>
<circle cx="358.4" cy="342.6" r="3.2"/>
<circle cx="356.9" cy="342.3" r="3.2"/>
<circle cx="369.7" cy="342.7" r="3.2"/>
<circle cx="368.6" cy="342.7" r="3.2"/>
<circle cx="357.0" cy="342.9" r="3.2"/>
<circle cx="366.5" cy="342.5" r="3.2"/>
<circle cx="360.5" cy="342.8" r="3.2"/>
<circle cx="365.6" cy="342.7" r="3.2"/>
<circle cx="366.4" cy="342.6" r="3.2"/>
<circle cx="358.4" cy="342.5" r="3.2"/>
<circle cx="365.6" cy="342.9" r="3.2"/>
<circle cx="357.6" cy="343.0" r="3.2"/>
<circle cx="371.3" cy="342.6" r="3.2"/>
<circle cx="367.2" cy="342.4" r="3.2"/>
<circle cx="370.1" cy="342.8" r="3.2"/>
<circle cx="370.7" cy="342.2" r="3.2"/>
<circle cx="364.9" cy="342.7" r="3.2"/>
<circle cx="356.9" cy="342.4" r="3.2"/>
<circle cx="357.6" cy="343.0" r="3.2"/>
<circle cx="370.5" cy="343.0" r="3.2"/>
<circle cx="372.6" cy="342.6" r="3.2"/>
<circle cx="364.6" cy="342.8" r="3.2"/>
<circle cx="361.1" cy="342.5" r="3.2"/>
<circle cx="360.3" cy="342.3" r="3.2"/>
<circle cx="357.7" cy="342.4" r="3.2"/>
<circle cx="354.8" cy="342.7" r="3.2"/>
<circle cx="355.8" cy="342.8" r="3.2"/>
<circle cx="362.6" cy="342.5" r="3.2"/>
<circle cx="372.5" cy="342.8" r="3.2"/>
<circle cx="367.6" cy="342.8" r="3.2"/>
<circle cx="356.0" cy="342.7" r="3.2"/>
<circle cx="355.2" cy="342.9" r="3.2"/>
<circle cx="370.6" cy="342.4" r="3.2"/>
<circle cx="363.9" cy="342.6" r="3.2"/>
<circle cx="368.0" cy="342.5" r="3.2"/>
<circle cx="367.5" cy="342.9" r="3.2"/>
<circle cx="368.4" cy="342.8" r="3.2"/>
<circle cx="361.3" cy="342.8" r="3.2"/>
<circle cx="369.0" cy="342.5" r="3.2"/>
<circle cx="372.2" cy="342.6" r="3.2"/>
<circle cx="370.5" cy="342.7" r="3.2"/>
<circle cx="367.7" cy="342.9" r="3.2"/>
<circle cx="363.7" cy="342.8" r="3.2"/>
<circle cx="388.0" cy="342.7" r="3.2"/>
<circle cx="381.2" cy="342.5" r="3.2"/>
<circle cx="392.0" cy="342.7" r="3.2"/>
<circle cx="415.8" cy="342.8" r="3.2"/>
<circle cx="410.7" cy="342.6" r="3.2"/>
<circle cx="373.2" cy="342.0" r="3.2"/>
<circle cx="375.6" cy="342.6" r="3.2"/>
<circle cx="375.3" cy="343.0" r="3.2"/>
<circle cx="394.8" cy="342.6" r="3.2"/>
<circle cx="417.6" cy="342.6" r="3.2"/>
<circle cx="385.9" cy="342.7" r="3.2"/>
<circle cx="414.0" cy="342.1" r="3.2"/>
<circle cx="415.0" cy="342.7" r="3.2"/>
<circle cx="378.0" cy="342.3" r="3.2"/>
<circle cx="380.0" cy="342.4" r="3.2"/>
<circle cx="385.0" cy="342.4" r="3.2"/>
<circle cx="388.0" cy="342.4" r="3.2"/>
<circle cx="396.0" cy="342.4" r="3.2"/>
<circle cx="396.5" cy="342.4" r="3.2"/>
<circle cx="397.0" cy="342.4" r="3.2"/>
<circle cx="402.0" cy="342.4" r="3.2"/>
<circle cx="409.0" cy="342.4" r="3.2"/>
<circle cx="414.0" cy="342.4" r="3.2"/>
<circle cx="417.0" cy="342.4" r="3.2"/>
<circle cx="425.0" cy="342.4" r="3.2"/>
<circle cx="426.0" cy="342.0" r="3.2"/>
<circle cx="448.5" cy="342.0" r="3.2"/>
<circle cx="363.0" cy="327.0" r="3.2"/>
<circle cx="368.0" cy="327.0" r="3.2"/>
<circle cx="368.5" cy="327.0" r="3.2"/>
<circle cx="376.0" cy="327.0" r="3.2"/>
<circle cx="376.5" cy="327.0" r="3.2"/>
<circle cx="389.0" cy="327.0" r="3.2"/>
<circle cx="393.0" cy="327.0" r="3.2"/>
<circle cx="398.0" cy="327.0" r="3.2"/>
<circle cx="398.5" cy="327.0" r="3.2"/>
<circle cx="402.0" cy="327.0" r="3.2"/>
<circle cx="402.5" cy="327.0" r="3.2"/>
<circle cx="406.0" cy="327.0" r="3.2"/>
<circle cx="406.5" cy="327.0" r="3.2"/>
<circle cx="410.0" cy="327.0" r="3.2"/>
<circle cx="416.0" cy="327.0" r="3.2"/>
<circle cx="416.5" cy="327.0" r="3.2"/>
<circle cx="419.0" cy="327.0" r="3.2"/>
<circle cx="424.0" cy="327.0" r="3.2"/>
<circle cx="427.0" cy="327.0" r="3.2"/>
<circle cx="563.5" cy="327.0" r="3.2"/>
<circle cx="397.0" cy="327.0" r="3.2"/>
<circle cx="399.5" cy="327.0" r="3.2"/>
<circle cx="401.0" cy="327.0" r="3.2"/>
<circle cx="403.5" cy="327.0" r="3.2"/>
<circle cx="405.0" cy="327.0" r="3.2"/>
<circle cx="367.0" cy="327.0" r="3.2"/>
<circle cx="375.0" cy="327.0" r="3.2"/>
<circle cx="389.5" cy="327.0" r="3.2"/>
<circle cx="396.0" cy="312.0" r="3.2"/>
<circle cx="401.0" cy="312.0" r="3.2"/>
<circle cx="407.0" cy="312.0" r="3.2"/>
<circle cx="407.5" cy="312.0" r="3.2"/>
<circle cx="410.0" cy="312.0" r="3.2"/>
<circle cx="410.5" cy="312.0" r="3.2"/>
<circle cx="414.0" cy="312.0" r="3.2"/>
<circle cx="426.0" cy="312.0" r="3.2"/>
<circle cx="426.5" cy="312.0" r="3.2"/>
<circle cx="404.5" cy="312.0" r="3.2"/>
<circle cx="406.0" cy="312.0" r="3.2"/>
<circle cx="408.5" cy="312.0" r="3.2"/>
<circle cx="409.0" cy="312.0" r="3.2"/>
<circle cx="411.0" cy="312.0" r="3.2"/>
<circle cx="425.5" cy="312.0" r="3.2"/>
</g>
<line x1="43.0" y1="196.5" x2="286.0" y2="1.5" class="d"/>
<text x="43.00" y="213.50" class="t" text-anchor="middle">0</text>
<text x="80.97" y="213.50" class="t" text-anchor="middle">5</text>
<text x="118.94" y="213.50" class="t" text-anchor="middle">10</text>
<text x="156.91" y="213.50" class="t" text-anchor="middle">15</text>
<text x="194.88" y="213.50" class="t" text-anchor="middle">20</text>
<text x="232.84" y="213.50" class="t" text-anchor="middle">25</text>
<text x="270.81" y="213.50" class="t" text-anchor="middle">30</text>
<text x="38.60" y="201.50" class="t" text-anchor="end">0</text>
<text x="38.60" y="171.03" class="t" text-anchor="end">5</text>
<text x="38.60" y="140.56" class="t" text-anchor="end">10</text>
<text x="38.60" y="110.09" class="t" text-anchor="end">15</text>
<text x="38.60" y="79.62" class="t" text-anchor="end">20</text>
<text x="38.60" y="49.16" class="t" text-anchor="end">25</text>
<text x="38.60" y="18.69" class="t" text-anchor="end">30</text>
<text x="165.50" y="237.40" class="ax" text-anchor="middle">After registration [mm]</text>
<text transform="translate(14.00,98.50) rotate(-90)" class="ax" text-anchor="middle">Before registrtaion [mm]</text>
<line x1="354.5" y1="196.5" x2="597.0" y2="1.5" class="d2"/>
<text x="354.50" y="213.50" class="t" text-anchor="middle">0</text>
<text x="392.39" y="213.50" class="t" text-anchor="middle">5</text>
<text x="430.28" y="213.50" class="t" text-anchor="middle">10</text>
<text x="468.17" y="213.50" class="t" text-anchor="middle">15</text>
<text x="506.06" y="213.50" class="t" text-anchor="middle">20</text>
<text x="543.95" y="213.50" class="t" text-anchor="middle">25</text>
<text x="581.84" y="213.50" class="t" text-anchor="middle">30</text>
<text x="350.10" y="201.50" class="t" text-anchor="end">0</text>
<text x="350.10" y="171.03" class="t" text-anchor="end">5</text>
<text x="350.10" y="140.56" class="t" text-anchor="end">10</text>
<text x="350.10" y="110.09" class="t" text-anchor="end">15</text>
<text x="350.10" y="79.62" class="t" text-anchor="end">20</text>
<text x="350.10" y="49.16" class="t" text-anchor="end">25</text>
<text x="350.10" y="18.69" class="t" text-anchor="end">30</text>
<text x="476.75" y="237.40" class="ax" text-anchor="middle">After registration [mm]</text>
<text transform="translate(325.50,98.50) rotate(-90)" class="ax" text-anchor="middle">Before registrtaion [mm]</text>
<line x1="43.0" y1="495.0" x2="286.0" y2="300.0" class="d"/>
<text x="43.00" y="512.00" class="t" text-anchor="middle">0</text>
<text x="80.97" y="512.00" class="t" text-anchor="middle">5</text>
<text x="118.94" y="512.00" class="t" text-anchor="middle">10</text>
<text x="156.91" y="512.00" class="t" text-anchor="middle">15</text>
<text x="194.88" y="512.00" class="t" text-anchor="middle">20</text>
<text x="232.84" y="512.00" class="t" text-anchor="middle">25</text>
<text x="270.81" y="512.00" class="t" text-anchor="middle">30</text>
<text x="38.60" y="500.00" class="t" text-anchor="end">0</text>
<text x="38.60" y="469.53" class="t" text-anchor="end">5</text>
<text x="38.60" y="439.06" class="t" text-anchor="end">10</text>
<text x="38.60" y="408.59" class="t" text-anchor="end">15</text>
<text x="38.60" y="378.12" class="t" text-anchor="end">20</text>
<text x="38.60" y="347.66" class="t" text-anchor="end">25</text>
<text x="38.60" y="317.19" class="t" text-anchor="end">30</text>
<text x="165.50" y="535.90" class="ax" text-anchor="middle">After registration [mm]</text>
<text transform="translate(14.00,397.00) rotate(-90)" class="ax" text-anchor="middle">Before registrtaion [mm]</text>
<line x1="354.5" y1="495.0" x2="597.0" y2="300.0" class="d"/>
<text x="354.50" y="512.00" class="t" text-anchor="middle">0</text>
<text x="392.39" y="512.00" class="t" text-anchor="middle">5</text>
<text x="430.28" y="512.00" class="t" text-anchor="middle">10</text>
<text x="468.17" y="512.00" class="t" text-anchor="middle">15</text>
<text x="506.06" y="512.00" class="t" text-anchor="middle">20</text>
<text x="543.95" y="512.00" class="t" text-anchor="middle">25</text>
<text x="581.84" y="512.00" class="t" text-anchor="middle">30</text>
<text x="350.10" y="500.00" class="t" text-anchor="end">0</text>
<text x="350.10" y="469.53" class="t" text-anchor="end">5</text>
<text x="350.10" y="439.06" class="t" text-anchor="end">10</text>
<text x="350.10" y="408.59" class="t" text-anchor="end">15</text>
<text x="350.10" y="378.12" class="t" text-anchor="end">20</text>
<text x="350.10" y="347.66" class="t" text-anchor="end">25</text>
<text x="350.10" y="317.19" class="t" text-anchor="end">30</text>
<text x="476.75" y="535.90" class="ax" text-anchor="middle">After registration [mm]</text>
<text transform="translate(325.50,397.00) rotate(-90)" class="ax" text-anchor="middle">Before registrtaion [mm]</text>
<text x="33.3" y="264.5" class="cap17">(a) Residual landmark distances</text>
<text x="409.5" y="264" class="cap">(b) x-direction</text>
<text x="98.5" y="561.5" class="cap">(c) y-direction</text>
<text x="411.8" y="561.5" class="cap">(d) z-direction</text>
</svg>
</body></html>
